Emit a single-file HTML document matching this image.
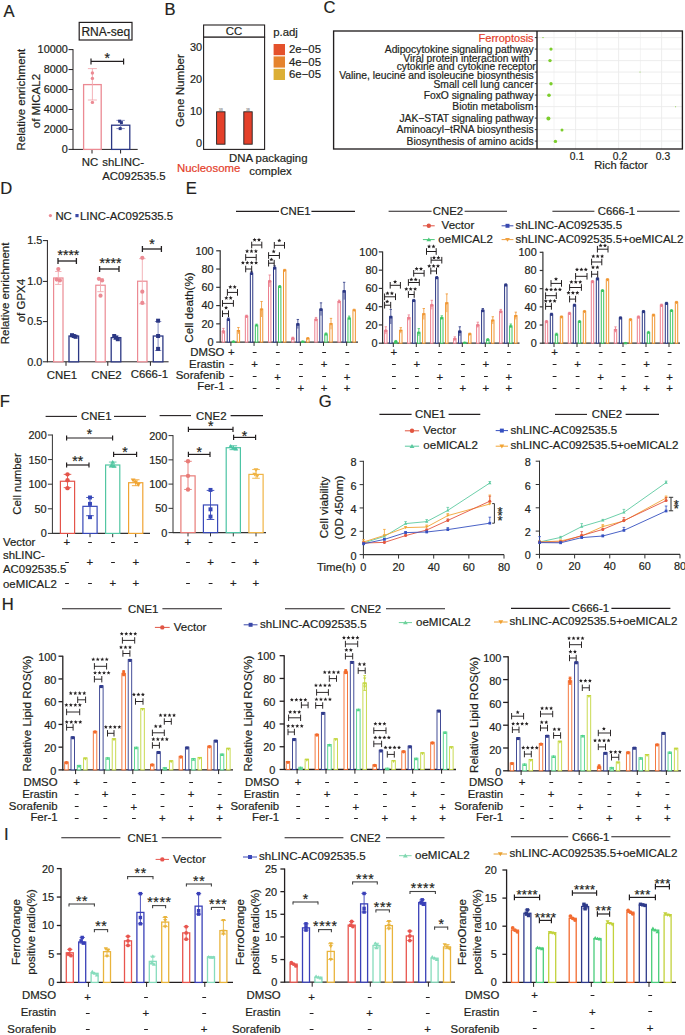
<!DOCTYPE html>
<html><head><meta charset="utf-8"><style>
html,body{margin:0;padding:0;background:#fff;overflow:hidden;}
svg{display:block;}
text{font-family:"Liberation Sans",sans-serif;stroke-width:0.2px;}
</style></head><body>
<svg width="685" height="1035" viewBox="0 0 685 1035">
<rect x="0" y="0" width="685" height="1035" fill="#fff"/>
<text x="3.5" y="16.7" font-size="16.6" text-anchor="start" fill="#231f20" stroke="#231f20">A</text>
<text x="164.4" y="15" font-size="16.6" text-anchor="start" fill="#231f20" stroke="#231f20">B</text>
<text x="323.6" y="13.4" font-size="16.6" text-anchor="start" fill="#231f20" stroke="#231f20">C</text>
<text x="0.3" y="194" font-size="16.6" text-anchor="start" fill="#231f20" stroke="#231f20">D</text>
<text x="185.7" y="193.6" font-size="16.6" text-anchor="start" fill="#231f20" stroke="#231f20">E</text>
<text x="-0.2" y="407" font-size="16.6" text-anchor="start" fill="#231f20" stroke="#231f20">F</text>
<text x="318.8" y="407.2" font-size="16.6" text-anchor="start" fill="#231f20" stroke="#231f20">G</text>
<text x="1.8" y="609.5" font-size="16.6" text-anchor="start" fill="#231f20" stroke="#231f20">H</text>
<text x="4.1" y="839.5" font-size="16.6" text-anchor="start" fill="#231f20" stroke="#231f20">I</text>
<rect x="79.2" y="22.4" width="52.8" height="17.6" fill="#fff" stroke="#231f20" stroke-width="1.2"/>
<text x="105.8" y="36" font-size="12" text-anchor="middle" fill="#231f20" stroke="#231f20">RNA-seq</text>
<line x1="73" y1="49.1" x2="73" y2="149.9" stroke="#231f20" stroke-width="1"/>
<line x1="68.5" y1="149.4" x2="73" y2="149.4" stroke="#231f20" stroke-width="1"/>
<text x="67.9" y="153.2" font-size="10.9" text-anchor="end" fill="#231f20" stroke="#231f20">0</text>
<line x1="68.5" y1="129.44" x2="73" y2="129.44" stroke="#231f20" stroke-width="1"/>
<text x="67.9" y="133.24" font-size="10.9" text-anchor="end" fill="#231f20" stroke="#231f20">2000</text>
<line x1="68.5" y1="109.48" x2="73" y2="109.48" stroke="#231f20" stroke-width="1"/>
<text x="67.9" y="113.28" font-size="10.9" text-anchor="end" fill="#231f20" stroke="#231f20">4000</text>
<line x1="68.5" y1="89.52" x2="73" y2="89.52" stroke="#231f20" stroke-width="1"/>
<text x="67.9" y="93.32" font-size="10.9" text-anchor="end" fill="#231f20" stroke="#231f20">6000</text>
<line x1="68.5" y1="69.56" x2="73" y2="69.56" stroke="#231f20" stroke-width="1"/>
<text x="67.9" y="73.36" font-size="10.9" text-anchor="end" fill="#231f20" stroke="#231f20">8000</text>
<line x1="68.5" y1="49.6" x2="73" y2="49.6" stroke="#231f20" stroke-width="1"/>
<text x="67.9" y="53.4" font-size="10.9" text-anchor="end" fill="#231f20" stroke="#231f20">10000</text>
<line x1="73" y1="149.4" x2="137.7" y2="149.4" stroke="#231f20" stroke-width="1"/>
<line x1="92" y1="149.4" x2="92" y2="153.5" stroke="#231f20" stroke-width="1"/>
<line x1="120.6" y1="149.4" x2="120.6" y2="153.5" stroke="#231f20" stroke-width="1"/>
<rect x="83.6" y="84.6" width="17.6" height="64.8" fill="#fff" stroke="#ec8a93" stroke-width="1.3"/>
<rect x="111.6" y="125.2" width="18.2" height="24.2" fill="#fff" stroke="#2b3784" stroke-width="1.3"/>
<line x1="92.4" y1="100" x2="92.4" y2="68.6" stroke="#f2aab0" stroke-width="0.9"/>
<line x1="87.9" y1="68.6" x2="96.9" y2="68.6" stroke="#f2aab0" stroke-width="0.9"/>
<line x1="87.9" y1="100" x2="96.9" y2="100" stroke="#f2aab0" stroke-width="0.9"/>
<circle cx="92.4" cy="73" r="1.7" fill="#ec8a93"/>
<circle cx="92.4" cy="78.4" r="1.7" fill="#ec8a93"/>
<circle cx="92.4" cy="102.4" r="1.7" fill="#ec8a93"/>
<line x1="120.6" y1="128.6" x2="120.6" y2="120.4" stroke="#7a82bb" stroke-width="0.9"/>
<line x1="116.4" y1="120.4" x2="124.8" y2="120.4" stroke="#7a82bb" stroke-width="0.9"/>
<line x1="116.4" y1="128.6" x2="124.8" y2="128.6" stroke="#7a82bb" stroke-width="0.9"/>
<rect x="118.1" y="119.7" width="3" height="3" fill="#2b3784"/>
<rect x="119.9" y="121.1" width="3" height="3" fill="#2b3784"/>
<rect x="118.7" y="127.1" width="3" height="3" fill="#2b3784"/>
<line x1="91" y1="61.4" x2="123.6" y2="61.4" stroke="#231f20" stroke-width="1.2"/>
<line x1="91" y1="58.4" x2="91" y2="64.4" stroke="#231f20" stroke-width="1.2"/>
<line x1="123.6" y1="58.4" x2="123.6" y2="64.4" stroke="#231f20" stroke-width="1.2"/>
<text x="107.3" y="63.08" font-size="14" text-anchor="middle" fill="#231f20" stroke="#231f20">*</text>
<text transform="translate(25.4,99.7) rotate(-90)" font-size="11.5" text-anchor="middle" fill="#231f20" stroke="#231f20">Relative enrichment</text>
<text transform="translate(40.3,101.1) rotate(-90)" font-size="11.5" text-anchor="middle" fill="#231f20" stroke="#231f20">of MICAL2</text>
<text x="90" y="166.4" font-size="11.4" text-anchor="middle" fill="#231f20" stroke="#231f20">NC</text>
<text x="102.2" y="166.4" font-size="11.4" text-anchor="start" fill="#231f20" stroke="#231f20">shLINC-</text>
<text x="102.2" y="180.2" font-size="11.4" text-anchor="start" fill="#231f20" stroke="#231f20">AC092535.5</text>
<rect x="203.6" y="25" width="61" height="12.2" fill="#fff" stroke="#231f20" stroke-width="1.1"/>
<rect x="203.6" y="37.2" width="61" height="112.2" fill="#fff" stroke="#231f20" stroke-width="1.1"/>
<text x="234.1" y="35.4" font-size="11.4" text-anchor="middle" fill="#231f20" stroke="#231f20">CC</text>
<text x="202" y="147.3" font-size="10.9" text-anchor="end" fill="#231f20" stroke="#231f20">0</text>
<text x="202" y="115.3" font-size="10.9" text-anchor="end" fill="#231f20" stroke="#231f20">10</text>
<text x="202" y="83.3" font-size="10.9" text-anchor="end" fill="#231f20" stroke="#231f20">20</text>
<text x="202" y="51.3" font-size="10.9" text-anchor="end" fill="#231f20" stroke="#231f20">30</text>
<rect x="216.6" y="111.8" width="8.4" height="32.4" fill="#e4402a" stroke="#231f20" stroke-width="0.9"/>
<rect x="243.8" y="111.8" width="8.4" height="32.4" fill="#e4402a" stroke="#231f20" stroke-width="0.9"/>
<text x="220.8" y="110.6" font-size="2.6" text-anchor="middle" fill="#999" stroke="#999">3/8</text>
<text x="248" y="110.6" font-size="2.6" text-anchor="middle" fill="#999" stroke="#999">3/8</text>
<text transform="translate(184.2,90.5) rotate(-90)" font-size="11.6" text-anchor="middle" fill="#231f20" stroke="#231f20">Gene Number</text>
<text x="273.2" y="35.6" font-size="11.4" text-anchor="start" fill="#231f20" stroke="#231f20">p.adj</text>
<rect x="273.6" y="44" width="11.4" height="11.2" fill="#e4512b"/>
<rect x="273.6" y="56.4" width="11.4" height="11.2" fill="#e5832d"/>
<rect x="273.6" y="68.8" width="11.4" height="11.2" fill="#dcaf35"/>
<text x="289" y="53.4" font-size="11.4" text-anchor="start" fill="#231f20" stroke="#231f20">2e−05</text>
<text x="289" y="65.8" font-size="11.4" text-anchor="start" fill="#231f20" stroke="#231f20">4e−05</text>
<text x="289" y="78.2" font-size="11.4" text-anchor="start" fill="#231f20" stroke="#231f20">6e−05</text>
<text x="177" y="172" font-size="11.4" text-anchor="start" fill="#e4402a" stroke="#e4402a">Nucleosome</text>
<text x="229" y="162" font-size="11.4" text-anchor="start" fill="#231f20" stroke="#231f20">DNA packaging</text>
<text x="270.5" y="175.2" font-size="11.4" text-anchor="middle" fill="#231f20" stroke="#231f20">complex</text>
<line x1="554" y1="31" x2="554" y2="149" stroke="#ebebeb" stroke-width="0.6"/>
<line x1="575.6" y1="31" x2="575.6" y2="149" stroke="#ebebeb" stroke-width="0.9"/>
<line x1="597" y1="31" x2="597" y2="149" stroke="#ebebeb" stroke-width="0.6"/>
<line x1="618.6" y1="31" x2="618.6" y2="149" stroke="#ebebeb" stroke-width="0.9"/>
<line x1="640.4" y1="31" x2="640.4" y2="149" stroke="#ebebeb" stroke-width="0.6"/>
<line x1="661.6" y1="31" x2="661.6" y2="149" stroke="#ebebeb" stroke-width="0.9"/>
<line x1="537" y1="37.6" x2="682.4" y2="37.6" stroke="#ebebeb" stroke-width="0.9"/>
<line x1="537" y1="49.1" x2="682.4" y2="49.1" stroke="#ebebeb" stroke-width="0.9"/>
<line x1="537" y1="60.6" x2="682.4" y2="60.6" stroke="#ebebeb" stroke-width="0.9"/>
<line x1="537" y1="72.1" x2="682.4" y2="72.1" stroke="#ebebeb" stroke-width="0.9"/>
<line x1="537" y1="83.6" x2="682.4" y2="83.6" stroke="#ebebeb" stroke-width="0.9"/>
<line x1="537" y1="95.1" x2="682.4" y2="95.1" stroke="#ebebeb" stroke-width="0.9"/>
<line x1="537" y1="106.6" x2="682.4" y2="106.6" stroke="#ebebeb" stroke-width="0.9"/>
<line x1="537" y1="118.1" x2="682.4" y2="118.1" stroke="#ebebeb" stroke-width="0.9"/>
<line x1="537" y1="129.6" x2="682.4" y2="129.6" stroke="#ebebeb" stroke-width="0.9"/>
<line x1="537" y1="141.1" x2="682.4" y2="141.1" stroke="#ebebeb" stroke-width="0.9"/>
<rect x="333.6" y="31" width="348.8" height="118" fill="none" stroke="#231f20" stroke-width="1.35"/>
<line x1="537" y1="31" x2="537" y2="149" stroke="#231f20" stroke-width="1.4"/>
<line x1="534.8" y1="37.6" x2="537" y2="37.6" stroke="#231f20" stroke-width="0.9"/>
<line x1="534.8" y1="49.1" x2="537" y2="49.1" stroke="#231f20" stroke-width="0.9"/>
<line x1="534.8" y1="60.6" x2="537" y2="60.6" stroke="#231f20" stroke-width="0.9"/>
<line x1="534.8" y1="72.1" x2="537" y2="72.1" stroke="#231f20" stroke-width="0.9"/>
<line x1="534.8" y1="83.6" x2="537" y2="83.6" stroke="#231f20" stroke-width="0.9"/>
<line x1="534.8" y1="95.1" x2="537" y2="95.1" stroke="#231f20" stroke-width="0.9"/>
<line x1="534.8" y1="106.6" x2="537" y2="106.6" stroke="#231f20" stroke-width="0.9"/>
<line x1="534.8" y1="118.1" x2="537" y2="118.1" stroke="#231f20" stroke-width="0.9"/>
<line x1="534.8" y1="129.6" x2="537" y2="129.6" stroke="#231f20" stroke-width="0.9"/>
<line x1="534.8" y1="141.1" x2="537" y2="141.1" stroke="#231f20" stroke-width="0.9"/>
<text x="533.6" y="42" font-size="11" text-anchor="end" fill="#e4402a" stroke="#e4402a">Ferroptosis</text>
<text x="533.6" y="52.8" font-size="10.3" text-anchor="end" fill="#231f20" stroke="#231f20">Adipocytokine signaling pathway</text>
<text x="529.6" y="61.8" font-size="10.3" text-anchor="end" fill="#231f20" stroke="#231f20">Viral protein interaction with</text>
<text x="535.8" y="70.4" font-size="10.3" text-anchor="end" fill="#231f20" stroke="#231f20">cytokine and cytokine receptor</text>
<text x="533.6" y="79" font-size="10.3" text-anchor="end" fill="#231f20" stroke="#231f20">Valine, leucine and isoleucine biosynthesis</text>
<text x="533.6" y="88" font-size="10.3" text-anchor="end" fill="#231f20" stroke="#231f20">Small cell lung cancer</text>
<text x="533.6" y="99" font-size="10.3" text-anchor="end" fill="#231f20" stroke="#231f20">FoxO signaling pathway</text>
<text x="533.6" y="109.6" font-size="10.3" text-anchor="end" fill="#231f20" stroke="#231f20">Biotin metabolism</text>
<text x="533.6" y="122" font-size="10.3" text-anchor="end" fill="#231f20" stroke="#231f20">JAK−STAT signaling pathway</text>
<text x="533.6" y="133.2" font-size="10.3" text-anchor="end" fill="#231f20" stroke="#231f20">Aminoacyl−tRNA biosynthesis</text>
<text x="533.6" y="145" font-size="10.3" text-anchor="end" fill="#231f20" stroke="#231f20">Biosynthesis of amino acids</text>
<circle cx="543" cy="37.6" r="0.7" fill="#7ccd2c"/>
<circle cx="551" cy="49.1" r="1.6" fill="#7ccd2c"/>
<circle cx="550" cy="60.6" r="1.7" fill="#7ccd2c"/>
<circle cx="640" cy="72.1" r="0.5" fill="#7ccd2c"/>
<circle cx="551" cy="83.8" r="1.7" fill="#7ccd2c"/>
<circle cx="549" cy="95.3" r="1.8" fill="#7ccd2c"/>
<circle cx="675.6" cy="106.8" r="0.5" fill="#7ccd2c"/>
<circle cx="548.4" cy="118.4" r="2" fill="#7ccd2c"/>
<circle cx="562" cy="130" r="1.5" fill="#7ccd2c"/>
<circle cx="555.4" cy="141.4" r="1.7" fill="#7ccd2c"/>
<text x="577" y="160" font-size="10.3" text-anchor="middle" fill="#231f20" stroke="#231f20">0.1</text>
<text x="620" y="160" font-size="10.3" text-anchor="middle" fill="#231f20" stroke="#231f20">0.2</text>
<text x="663" y="160" font-size="10.3" text-anchor="middle" fill="#231f20" stroke="#231f20">0.3</text>
<text x="621" y="169.4" font-size="11.2" text-anchor="middle" fill="#231f20" stroke="#231f20">Rich factor</text>
<circle cx="50.4" cy="215.6" r="1.6" fill="#ec8a93"/>
<text x="55.4" y="219.6" font-size="11.4" text-anchor="start" fill="#231f20" stroke="#231f20">NC</text>
<rect x="75.4" y="214" width="3.2" height="3.2" fill="#3a4aa8"/>
<text x="80" y="219.6" font-size="11.4" text-anchor="start" fill="#231f20" stroke="#231f20">LINC-AC092535.5</text>
<line x1="47.4" y1="240.1" x2="47.4" y2="362.3" stroke="#231f20" stroke-width="1"/>
<line x1="42.9" y1="361.8" x2="47.4" y2="361.8" stroke="#231f20" stroke-width="1"/>
<text x="42.3" y="365.6" font-size="10.9" text-anchor="end" fill="#231f20" stroke="#231f20">0.0</text>
<line x1="42.9" y1="321.6" x2="47.4" y2="321.6" stroke="#231f20" stroke-width="1"/>
<text x="42.3" y="325.4" font-size="10.9" text-anchor="end" fill="#231f20" stroke="#231f20">0.5</text>
<line x1="42.9" y1="281.4" x2="47.4" y2="281.4" stroke="#231f20" stroke-width="1"/>
<text x="42.3" y="285.2" font-size="10.9" text-anchor="end" fill="#231f20" stroke="#231f20">1.0</text>
<line x1="42.9" y1="240.6" x2="47.4" y2="240.6" stroke="#231f20" stroke-width="1"/>
<text x="42.3" y="244.4" font-size="10.9" text-anchor="end" fill="#231f20" stroke="#231f20">1.5</text>
<line x1="47.4" y1="361.8" x2="168.6" y2="361.8" stroke="#231f20" stroke-width="1"/>
<line x1="66" y1="361.8" x2="66" y2="365.8" stroke="#231f20" stroke-width="1"/>
<line x1="107.8" y1="361.8" x2="107.8" y2="365.8" stroke="#231f20" stroke-width="1"/>
<line x1="150.4" y1="361.8" x2="150.4" y2="365.8" stroke="#231f20" stroke-width="1"/>
<rect x="53.6" y="277.98" width="9.4" height="83.82" fill="#fff" stroke="#ec8a93" stroke-width="1.2"/>
<line x1="58.3" y1="284.42" x2="58.3" y2="271.53" stroke="#f2aab0" stroke-width="0.9"/>
<line x1="55.1" y1="271.53" x2="61.5" y2="271.53" stroke="#f2aab0" stroke-width="0.9"/>
<line x1="55.1" y1="284.42" x2="61.5" y2="284.42" stroke="#f2aab0" stroke-width="0.9"/>
<circle cx="58.3" cy="269.11" r="2.1" fill="#ec8a93"/>
<circle cx="56.7" cy="279.59" r="2.1" fill="#ec8a93"/>
<circle cx="59.9" cy="280.39" r="2.1" fill="#ec8a93"/>
<rect x="95.8" y="285.23" width="9.4" height="76.57" fill="#fff" stroke="#ec8a93" stroke-width="1.2"/>
<line x1="100.5" y1="291.68" x2="100.5" y2="278.78" stroke="#f2aab0" stroke-width="0.9"/>
<line x1="97.3" y1="278.78" x2="103.7" y2="278.78" stroke="#f2aab0" stroke-width="0.9"/>
<line x1="97.3" y1="291.68" x2="103.7" y2="291.68" stroke="#f2aab0" stroke-width="0.9"/>
<circle cx="98.9" cy="278.78" r="2.1" fill="#ec8a93"/>
<circle cx="102.1" cy="280.39" r="2.1" fill="#ec8a93"/>
<circle cx="100.5" cy="295.71" r="2.1" fill="#ec8a93"/>
<rect x="137.6" y="281.2" width="9.4" height="80.6" fill="#fff" stroke="#ec8a93" stroke-width="1.2"/>
<line x1="142.3" y1="303.77" x2="142.3" y2="258.63" stroke="#f2aab0" stroke-width="0.9"/>
<line x1="139.1" y1="258.63" x2="145.5" y2="258.63" stroke="#f2aab0" stroke-width="0.9"/>
<line x1="139.1" y1="303.77" x2="145.5" y2="303.77" stroke="#f2aab0" stroke-width="0.9"/>
<circle cx="142.3" cy="257.83" r="2.1" fill="#ec8a93"/>
<circle cx="142.3" cy="291.68" r="2.1" fill="#ec8a93"/>
<circle cx="142.3" cy="302.96" r="2.1" fill="#ec8a93"/>
<rect x="69" y="336.01" width="9.6" height="25.79" fill="#fff" stroke="#2b3784" stroke-width="1.3"/>
<line x1="73.8" y1="336.81" x2="73.8" y2="335.2" stroke="#7a82bb" stroke-width="0.9"/>
<line x1="70.6" y1="335.2" x2="77" y2="335.2" stroke="#7a82bb" stroke-width="0.9"/>
<line x1="70.6" y1="336.81" x2="77" y2="336.81" stroke="#7a82bb" stroke-width="0.9"/>
<rect x="70" y="333.2" width="4" height="4" fill="#2b3784"/>
<rect x="71.8" y="334.01" width="4" height="4" fill="#2b3784"/>
<rect x="73.6" y="334.81" width="4" height="4" fill="#2b3784"/>
<rect x="111.2" y="337.62" width="9.6" height="24.18" fill="#fff" stroke="#2b3784" stroke-width="1.3"/>
<line x1="116" y1="339.23" x2="116" y2="336.01" stroke="#7a82bb" stroke-width="0.9"/>
<line x1="112.8" y1="336.01" x2="119.2" y2="336.01" stroke="#7a82bb" stroke-width="0.9"/>
<line x1="112.8" y1="339.23" x2="119.2" y2="339.23" stroke="#7a82bb" stroke-width="0.9"/>
<rect x="112.2" y="334.01" width="4" height="4" fill="#2b3784"/>
<rect x="114" y="335.62" width="4" height="4" fill="#2b3784"/>
<rect x="115.8" y="337.23" width="4" height="4" fill="#2b3784"/>
<rect x="153.3" y="336.01" width="9.6" height="25.79" fill="#fff" stroke="#2b3784" stroke-width="1.3"/>
<line x1="158.1" y1="350.52" x2="158.1" y2="321.5" stroke="#7a82bb" stroke-width="0.9"/>
<line x1="154.9" y1="321.5" x2="161.3" y2="321.5" stroke="#7a82bb" stroke-width="0.9"/>
<line x1="154.9" y1="350.52" x2="161.3" y2="350.52" stroke="#7a82bb" stroke-width="0.9"/>
<rect x="156.1" y="318.69" width="4" height="4" fill="#2b3784"/>
<rect x="156.1" y="334.01" width="4" height="4" fill="#2b3784"/>
<rect x="156.1" y="346.9" width="4" height="4" fill="#2b3784"/>
<line x1="58" y1="261" x2="76.4" y2="261" stroke="#231f20" stroke-width="1.3"/>
<line x1="58" y1="258" x2="58" y2="264" stroke="#231f20" stroke-width="1.3"/>
<line x1="76.4" y1="258" x2="76.4" y2="264" stroke="#231f20" stroke-width="1.3"/>
<text x="68.4" y="259.88" font-size="14" text-anchor="middle" fill="#231f20" stroke="#231f20">****</text>
<line x1="99.6" y1="269" x2="119" y2="269" stroke="#231f20" stroke-width="1.3"/>
<line x1="99.6" y1="266" x2="99.6" y2="272" stroke="#231f20" stroke-width="1.3"/>
<line x1="119" y1="266" x2="119" y2="272" stroke="#231f20" stroke-width="1.3"/>
<text x="110.5" y="268.48" font-size="14" text-anchor="middle" fill="#231f20" stroke="#231f20">****</text>
<line x1="142.4" y1="249" x2="161.4" y2="249" stroke="#231f20" stroke-width="1.3"/>
<line x1="142.4" y1="246" x2="142.4" y2="252" stroke="#231f20" stroke-width="1.3"/>
<line x1="161.4" y1="246" x2="161.4" y2="252" stroke="#231f20" stroke-width="1.3"/>
<text x="151.9" y="249.48" font-size="14" text-anchor="middle" fill="#231f20" stroke="#231f20">*</text>
<text x="62" y="379" font-size="11.4" text-anchor="middle" fill="#231f20" stroke="#231f20">CNE1</text>
<text x="106.5" y="378.6" font-size="11.4" text-anchor="middle" fill="#231f20" stroke="#231f20">CNE2</text>
<text x="149.4" y="377.6" font-size="11.4" text-anchor="middle" fill="#231f20" stroke="#231f20">C666-1</text>
<text transform="translate(9.2,293.4) rotate(-90)" font-size="11.5" text-anchor="middle" fill="#231f20" stroke="#231f20">Relative enrichment</text>
<text transform="translate(25.2,300.6) rotate(-90)" font-size="11.5" text-anchor="middle" fill="#231f20" stroke="#231f20">of GPX4</text>
<line x1="236" y1="211.4" x2="279" y2="211.4" stroke="#231f20" stroke-width="1.1"/>
<line x1="311.4" y1="211.4" x2="355" y2="211.4" stroke="#231f20" stroke-width="1.1"/>
<text x="295.4" y="215.4" font-size="11.4" text-anchor="middle" fill="#231f20" stroke="#231f20">CNE1</text>
<line x1="388.6" y1="211.2" x2="431.6" y2="211.2" stroke="#231f20" stroke-width="1.1"/>
<line x1="464.6" y1="211.2" x2="507" y2="211.2" stroke="#231f20" stroke-width="1.1"/>
<text x="448" y="215.2" font-size="11.4" text-anchor="middle" fill="#231f20" stroke="#231f20">CNE2</text>
<line x1="552.4" y1="211.2" x2="594.4" y2="211.2" stroke="#231f20" stroke-width="1.1"/>
<line x1="637" y1="211.2" x2="679.6" y2="211.2" stroke="#231f20" stroke-width="1.1"/>
<text x="616.4" y="215.2" font-size="11.4" text-anchor="middle" fill="#231f20" stroke="#231f20">C666-1</text>
<line x1="422.9" y1="225.8" x2="434.7" y2="225.8" stroke="#e05545" stroke-width="1"/>
<circle cx="428.8" cy="225.8" r="2.2" fill="#e05545"/>
<text x="441.6" y="228.9" font-size="11.55" text-anchor="start" fill="#231f20" stroke="#231f20">Vector</text>
<line x1="422.9" y1="239.6" x2="434.7" y2="239.6" stroke="#4cc87a" stroke-width="1"/>
<polygon points="426.38,241.29 431.22,241.29 428.8,237.42" fill="#4cc87a"/>
<text x="438.3" y="242.7" font-size="11.55" text-anchor="start" fill="#231f20" stroke="#231f20">oeMICAL2</text>
<line x1="501.6" y1="225.8" x2="513.4" y2="225.8" stroke="#3a4ab0" stroke-width="1"/>
<rect x="505.52" y="223.82" width="3.96" height="3.96" fill="#3a4ab0"/>
<text x="515.6" y="228.9" font-size="11.55" text-anchor="start" fill="#231f20" stroke="#231f20">shLINC-AC092535.5</text>
<line x1="501.6" y1="239.6" x2="513.4" y2="239.6" stroke="#f0a040" stroke-width="1"/>
<polygon points="505.08,237.91 509.92,237.91 507.5,241.78" fill="#f0a040"/>
<text x="515.6" y="242.7" font-size="11.55" text-anchor="start" fill="#231f20" stroke="#231f20">shLINC-AC092535.5+oeMICAL2</text>
<text transform="translate(193.2,307.5) rotate(-90)" font-size="11.6" text-anchor="middle" fill="#231f20" stroke="#231f20">Cell death(%)</text>
<line x1="220.2" y1="250.3" x2="220.2" y2="342.6" stroke="#333" stroke-width="1.2"/>
<line x1="216.2" y1="342.1" x2="220.2" y2="342.1" stroke="#333" stroke-width="1.2"/>
<text x="213.6" y="346" font-size="10.9" text-anchor="end" fill="#231f20" stroke="#231f20">0</text>
<line x1="216.2" y1="323.84" x2="220.2" y2="323.84" stroke="#333" stroke-width="1.2"/>
<text x="213.6" y="327.74" font-size="10.9" text-anchor="end" fill="#231f20" stroke="#231f20">20</text>
<line x1="216.2" y1="305.58" x2="220.2" y2="305.58" stroke="#333" stroke-width="1.2"/>
<text x="213.6" y="309.48" font-size="10.9" text-anchor="end" fill="#231f20" stroke="#231f20">40</text>
<line x1="216.2" y1="287.32" x2="220.2" y2="287.32" stroke="#333" stroke-width="1.2"/>
<text x="213.6" y="291.22" font-size="10.9" text-anchor="end" fill="#231f20" stroke="#231f20">60</text>
<line x1="216.2" y1="269.06" x2="220.2" y2="269.06" stroke="#333" stroke-width="1.2"/>
<text x="213.6" y="272.96" font-size="10.9" text-anchor="end" fill="#231f20" stroke="#231f20">80</text>
<line x1="216.2" y1="250.8" x2="220.2" y2="250.8" stroke="#333" stroke-width="1.2"/>
<text x="213.6" y="254.7" font-size="10.9" text-anchor="end" fill="#231f20" stroke="#231f20">100</text>
<line x1="220.2" y1="342.1" x2="358" y2="342.1" stroke="#333" stroke-width="1.2"/>
<line x1="230.9" y1="342.1" x2="230.9" y2="345.9" stroke="#333" stroke-width="1"/>
<rect x="222.2" y="331.14" width="2.4" height="10.96" fill="#fff" stroke="#ec7f8e" stroke-width="1"/>
<line x1="223.4" y1="333.88" x2="223.4" y2="328.41" stroke="#ec7f8e" stroke-width="0.8"/>
<line x1="222.2" y1="328.41" x2="224.6" y2="328.41" stroke="#ec7f8e" stroke-width="0.8"/>
<circle cx="223.4" cy="331.54" r="1.5" fill="#ec7f8e"/>
<rect x="227.2" y="319.28" width="2.4" height="22.82" fill="#fff" stroke="#2b3784" stroke-width="1"/>
<line x1="228.4" y1="320.64" x2="228.4" y2="317.91" stroke="#2b3784" stroke-width="0.8"/>
<line x1="227.2" y1="317.91" x2="229.6" y2="317.91" stroke="#2b3784" stroke-width="0.8"/>
<rect x="227.05" y="318.32" width="2.7" height="2.7" fill="#2b3784"/>
<rect x="232.2" y="341.19" width="2.4" height="0.91" fill="#fff" stroke="#3cc462" stroke-width="1"/>
<polygon points="231.75,342.74 235.05,342.74 233.4,340.1" fill="#3cc462"/>
<rect x="237.2" y="330.69" width="2.4" height="11.41" fill="#fff" stroke="#f09530" stroke-width="1"/>
<line x1="238.4" y1="333.88" x2="238.4" y2="327.49" stroke="#f09530" stroke-width="0.8"/>
<line x1="237.2" y1="327.49" x2="239.6" y2="327.49" stroke="#f09530" stroke-width="0.8"/>
<polygon points="236.75,329.93 240.05,329.93 238.4,332.57" fill="#f09530"/>
<line x1="254.05" y1="342.1" x2="254.05" y2="345.9" stroke="#333" stroke-width="1"/>
<rect x="245.35" y="316.08" width="2.4" height="26.02" fill="#fff" stroke="#ec7f8e" stroke-width="1"/>
<line x1="246.55" y1="316.99" x2="246.55" y2="315.17" stroke="#ec7f8e" stroke-width="0.8"/>
<line x1="245.35" y1="315.17" x2="247.75" y2="315.17" stroke="#ec7f8e" stroke-width="0.8"/>
<circle cx="246.55" cy="316.48" r="1.5" fill="#ec7f8e"/>
<rect x="250.35" y="273.17" width="2.4" height="68.93" fill="#fff" stroke="#2b3784" stroke-width="1"/>
<line x1="251.55" y1="274.99" x2="251.55" y2="271.34" stroke="#2b3784" stroke-width="0.8"/>
<line x1="250.35" y1="271.34" x2="252.75" y2="271.34" stroke="#2b3784" stroke-width="0.8"/>
<rect x="250.2" y="272.22" width="2.7" height="2.7" fill="#2b3784"/>
<rect x="255.35" y="325.03" width="2.4" height="17.07" fill="#fff" stroke="#3cc462" stroke-width="1"/>
<line x1="256.55" y1="325.94" x2="256.55" y2="324.11" stroke="#3cc462" stroke-width="0.8"/>
<line x1="255.35" y1="324.11" x2="257.75" y2="324.11" stroke="#3cc462" stroke-width="0.8"/>
<polygon points="254.9,326.58 258.2,326.58 256.55,323.94" fill="#3cc462"/>
<rect x="260.35" y="309.23" width="2.4" height="32.87" fill="#fff" stroke="#f09530" stroke-width="1"/>
<line x1="261.55" y1="316.99" x2="261.55" y2="301.47" stroke="#f09530" stroke-width="0.8"/>
<line x1="260.35" y1="301.47" x2="262.75" y2="301.47" stroke="#f09530" stroke-width="0.8"/>
<polygon points="259.9,308.48 263.2,308.48 261.55,311.12" fill="#f09530"/>
<line x1="277.2" y1="342.1" x2="277.2" y2="345.9" stroke="#333" stroke-width="1"/>
<rect x="268.5" y="280.93" width="2.4" height="61.17" fill="#fff" stroke="#ec7f8e" stroke-width="1"/>
<line x1="269.7" y1="286.86" x2="269.7" y2="274.99" stroke="#ec7f8e" stroke-width="0.8"/>
<line x1="268.5" y1="274.99" x2="270.9" y2="274.99" stroke="#ec7f8e" stroke-width="0.8"/>
<circle cx="269.7" cy="281.33" r="1.5" fill="#ec7f8e"/>
<rect x="273.5" y="267.69" width="2.4" height="74.41" fill="#fff" stroke="#2b3784" stroke-width="1"/>
<line x1="274.7" y1="269.52" x2="274.7" y2="265.86" stroke="#2b3784" stroke-width="0.8"/>
<line x1="273.5" y1="265.86" x2="275.9" y2="265.86" stroke="#2b3784" stroke-width="0.8"/>
<rect x="273.35" y="266.74" width="2.7" height="2.7" fill="#2b3784"/>
<rect x="278.5" y="286.41" width="2.4" height="55.69" fill="#fff" stroke="#3cc462" stroke-width="1"/>
<line x1="279.7" y1="287.32" x2="279.7" y2="285.49" stroke="#3cc462" stroke-width="0.8"/>
<line x1="278.5" y1="285.49" x2="280.9" y2="285.49" stroke="#3cc462" stroke-width="0.8"/>
<polygon points="278.05,287.96 281.35,287.96 279.7,285.32" fill="#3cc462"/>
<rect x="283.5" y="270.25" width="2.4" height="71.85" fill="#fff" stroke="#f09530" stroke-width="1"/>
<line x1="284.7" y1="271.16" x2="284.7" y2="269.33" stroke="#f09530" stroke-width="0.8"/>
<line x1="283.5" y1="269.33" x2="285.9" y2="269.33" stroke="#f09530" stroke-width="0.8"/>
<polygon points="283.05,269.49 286.35,269.49 284.7,272.13" fill="#f09530"/>
<line x1="300.35" y1="342.1" x2="300.35" y2="345.9" stroke="#333" stroke-width="1"/>
<rect x="291.65" y="338.08" width="2.4" height="4.02" fill="#fff" stroke="#ec7f8e" stroke-width="1"/>
<line x1="292.85" y1="339" x2="292.85" y2="337.17" stroke="#ec7f8e" stroke-width="0.8"/>
<line x1="291.65" y1="337.17" x2="294.05" y2="337.17" stroke="#ec7f8e" stroke-width="0.8"/>
<circle cx="292.85" cy="338.48" r="1.5" fill="#ec7f8e"/>
<rect x="296.65" y="324.02" width="2.4" height="18.08" fill="#fff" stroke="#2b3784" stroke-width="1"/>
<line x1="297.85" y1="328.59" x2="297.85" y2="319.46" stroke="#2b3784" stroke-width="0.8"/>
<line x1="296.65" y1="319.46" x2="299.05" y2="319.46" stroke="#2b3784" stroke-width="0.8"/>
<rect x="296.5" y="323.07" width="2.7" height="2.7" fill="#2b3784"/>
<rect x="301.65" y="341.19" width="2.4" height="0.91" fill="#fff" stroke="#3cc462" stroke-width="1"/>
<polygon points="301.2,342.74 304.5,342.74 302.85,340.1" fill="#3cc462"/>
<rect x="306.65" y="338.45" width="2.4" height="3.65" fill="#fff" stroke="#f09530" stroke-width="1"/>
<line x1="307.85" y1="339.36" x2="307.85" y2="337.54" stroke="#f09530" stroke-width="0.8"/>
<line x1="306.65" y1="337.54" x2="309.05" y2="337.54" stroke="#f09530" stroke-width="0.8"/>
<polygon points="306.2,337.69 309.5,337.69 307.85,340.33" fill="#f09530"/>
<line x1="323.5" y1="342.1" x2="323.5" y2="345.9" stroke="#333" stroke-width="1"/>
<rect x="314.8" y="319.28" width="2.4" height="22.82" fill="#fff" stroke="#ec7f8e" stroke-width="1"/>
<line x1="316" y1="321.1" x2="316" y2="317.45" stroke="#ec7f8e" stroke-width="0.8"/>
<line x1="314.8" y1="317.45" x2="317.2" y2="317.45" stroke="#ec7f8e" stroke-width="0.8"/>
<circle cx="316" cy="319.68" r="1.5" fill="#ec7f8e"/>
<rect x="319.8" y="309.23" width="2.4" height="32.87" fill="#fff" stroke="#2b3784" stroke-width="1"/>
<line x1="321" y1="315.62" x2="321" y2="302.84" stroke="#2b3784" stroke-width="0.8"/>
<line x1="319.8" y1="302.84" x2="322.2" y2="302.84" stroke="#2b3784" stroke-width="0.8"/>
<rect x="319.65" y="308.28" width="2.7" height="2.7" fill="#2b3784"/>
<rect x="324.8" y="333.88" width="2.4" height="8.22" fill="#fff" stroke="#3cc462" stroke-width="1"/>
<line x1="326" y1="334.8" x2="326" y2="332.97" stroke="#3cc462" stroke-width="0.8"/>
<line x1="324.8" y1="332.97" x2="327.2" y2="332.97" stroke="#3cc462" stroke-width="0.8"/>
<polygon points="324.35,335.44 327.65,335.44 326,332.8" fill="#3cc462"/>
<rect x="329.8" y="323.84" width="2.4" height="18.26" fill="#fff" stroke="#f09530" stroke-width="1"/>
<line x1="331" y1="329.32" x2="331" y2="318.36" stroke="#f09530" stroke-width="0.8"/>
<line x1="329.8" y1="318.36" x2="332.2" y2="318.36" stroke="#f09530" stroke-width="0.8"/>
<polygon points="329.35,323.09 332.65,323.09 331,325.73" fill="#f09530"/>
<line x1="346.65" y1="342.1" x2="346.65" y2="345.9" stroke="#333" stroke-width="1"/>
<rect x="337.95" y="301.47" width="2.4" height="40.63" fill="#fff" stroke="#ec7f8e" stroke-width="1"/>
<line x1="339.15" y1="302.84" x2="339.15" y2="300.1" stroke="#ec7f8e" stroke-width="0.8"/>
<line x1="337.95" y1="300.1" x2="340.35" y2="300.1" stroke="#ec7f8e" stroke-width="0.8"/>
<circle cx="339.15" cy="301.87" r="1.5" fill="#ec7f8e"/>
<rect x="342.95" y="290.97" width="2.4" height="51.13" fill="#fff" stroke="#2b3784" stroke-width="1"/>
<line x1="344.15" y1="299.65" x2="344.15" y2="282.3" stroke="#2b3784" stroke-width="0.8"/>
<line x1="342.95" y1="282.3" x2="345.35" y2="282.3" stroke="#2b3784" stroke-width="0.8"/>
<rect x="342.8" y="290.02" width="2.7" height="2.7" fill="#2b3784"/>
<rect x="347.95" y="317.91" width="2.4" height="24.19" fill="#fff" stroke="#3cc462" stroke-width="1"/>
<line x1="349.15" y1="319.73" x2="349.15" y2="316.08" stroke="#3cc462" stroke-width="0.8"/>
<line x1="347.95" y1="316.08" x2="350.35" y2="316.08" stroke="#3cc462" stroke-width="0.8"/>
<polygon points="347.5,319.46 350.8,319.46 349.15,316.82" fill="#3cc462"/>
<rect x="352.95" y="310.15" width="2.4" height="31.95" fill="#fff" stroke="#f09530" stroke-width="1"/>
<line x1="354.15" y1="311.06" x2="354.15" y2="309.23" stroke="#f09530" stroke-width="0.8"/>
<line x1="352.95" y1="309.23" x2="355.35" y2="309.23" stroke="#f09530" stroke-width="0.8"/>
<polygon points="352.5,309.39 355.8,309.39 354.15,312.03" fill="#f09530"/>
<line x1="222.5" y1="313.7" x2="228.5" y2="313.7" stroke="#231f20" stroke-width="1"/>
<line x1="222.5" y1="310.4" x2="222.5" y2="317" stroke="#231f20" stroke-width="1"/>
<line x1="228.5" y1="310.4" x2="228.5" y2="317" stroke="#231f20" stroke-width="1"/>
<polygon points="226.1,305.65 226.67,307.02 228.14,307.14 227.02,308.1 227.36,309.54 226.1,308.77 224.84,309.54 225.18,308.1 224.06,307.14 225.53,307.02" fill="#231f20"/>
<line x1="222.5" y1="303.4" x2="233.4" y2="303.4" stroke="#231f20" stroke-width="1"/>
<line x1="222.5" y1="300.1" x2="222.5" y2="306.7" stroke="#231f20" stroke-width="1"/>
<line x1="233.4" y1="300.1" x2="233.4" y2="306.7" stroke="#231f20" stroke-width="1"/>
<polygon points="226.3,295.85 226.87,297.22 228.34,297.34 227.22,298.3 227.56,299.74 226.3,298.97 225.04,299.74 225.38,298.3 224.26,297.34 225.73,297.22" fill="#231f20"/>
<polygon points="230.7,295.85 231.27,297.22 232.74,297.34 231.62,298.3 231.96,299.74 230.7,298.97 229.44,299.74 229.78,298.3 228.66,297.34 230.13,297.22" fill="#231f20"/>
<line x1="227.4" y1="292.4" x2="237.5" y2="292.4" stroke="#231f20" stroke-width="1"/>
<line x1="227.4" y1="289.1" x2="227.4" y2="295.7" stroke="#231f20" stroke-width="1"/>
<line x1="237.5" y1="289.1" x2="237.5" y2="295.7" stroke="#231f20" stroke-width="1"/>
<polygon points="230.3,284.85 230.87,286.22 232.34,286.34 231.22,287.3 231.56,288.74 230.3,287.97 229.04,288.74 229.38,287.3 228.26,286.34 229.73,286.22" fill="#231f20"/>
<polygon points="234.7,284.85 235.27,286.22 236.74,286.34 235.62,287.3 235.96,288.74 234.7,287.97 233.44,288.74 233.78,287.3 232.66,286.34 234.13,286.22" fill="#231f20"/>
<line x1="245.7" y1="269" x2="251.7" y2="269" stroke="#231f20" stroke-width="1"/>
<line x1="245.7" y1="265.7" x2="245.7" y2="272.3" stroke="#231f20" stroke-width="1"/>
<line x1="251.7" y1="265.7" x2="251.7" y2="272.3" stroke="#231f20" stroke-width="1"/>
<polygon points="242.9,260.65 243.47,262.02 244.94,262.14 243.82,263.1 244.16,264.54 242.9,263.77 241.64,264.54 241.98,263.1 240.86,262.14 242.33,262.02" fill="#231f20"/>
<polygon points="247.3,260.65 247.87,262.02 249.34,262.14 248.22,263.1 248.56,264.54 247.3,263.77 246.04,264.54 246.38,263.1 245.26,262.14 246.73,262.02" fill="#231f20"/>
<polygon points="251.7,260.65 252.27,262.02 253.74,262.14 252.62,263.1 252.96,264.54 251.7,263.77 250.44,264.54 250.78,263.1 249.66,262.14 251.13,262.02" fill="#231f20"/>
<polygon points="256.1,260.65 256.67,262.02 258.14,262.14 257.02,263.1 257.36,264.54 256.1,263.77 254.84,264.54 255.18,263.1 254.06,262.14 255.53,262.02" fill="#231f20"/>
<line x1="245.7" y1="257.4" x2="256.2" y2="257.4" stroke="#231f20" stroke-width="1"/>
<line x1="245.7" y1="254.1" x2="245.7" y2="260.7" stroke="#231f20" stroke-width="1"/>
<line x1="256.2" y1="254.1" x2="256.2" y2="260.7" stroke="#231f20" stroke-width="1"/>
<polygon points="247.1,249.05 247.67,250.42 249.14,250.54 248.02,251.5 248.36,252.94 247.1,252.17 245.84,252.94 246.18,251.5 245.06,250.54 246.53,250.42" fill="#231f20"/>
<polygon points="251.5,249.05 252.07,250.42 253.54,250.54 252.42,251.5 252.76,252.94 251.5,252.17 250.24,252.94 250.58,251.5 249.46,250.54 250.93,250.42" fill="#231f20"/>
<polygon points="255.9,249.05 256.47,250.42 257.94,250.54 256.82,251.5 257.16,252.94 255.9,252.17 254.64,252.94 254.98,251.5 253.86,250.54 255.33,250.42" fill="#231f20"/>
<line x1="251.7" y1="245" x2="261.8" y2="245" stroke="#231f20" stroke-width="1"/>
<line x1="251.7" y1="241.7" x2="251.7" y2="248.3" stroke="#231f20" stroke-width="1"/>
<line x1="261.8" y1="241.7" x2="261.8" y2="248.3" stroke="#231f20" stroke-width="1"/>
<polygon points="254.6,237.75 255.17,239.12 256.64,239.24 255.52,240.2 255.86,241.64 254.6,240.87 253.34,241.64 253.68,240.2 252.56,239.24 254.03,239.12" fill="#231f20"/>
<polygon points="259,237.75 259.57,239.12 261.04,239.24 259.92,240.2 260.26,241.64 259,240.87 257.74,241.64 258.08,240.2 256.96,239.24 258.43,239.12" fill="#231f20"/>
<line x1="268.6" y1="263.2" x2="274.2" y2="263.2" stroke="#231f20" stroke-width="1"/>
<line x1="268.6" y1="259.9" x2="268.6" y2="266.5" stroke="#231f20" stroke-width="1"/>
<line x1="274.2" y1="259.9" x2="274.2" y2="266.5" stroke="#231f20" stroke-width="1"/>
<polygon points="271.4,257.45 271.97,258.82 273.44,258.94 272.32,259.9 272.66,261.34 271.4,260.57 270.14,261.34 270.48,259.9 269.36,258.94 270.83,258.82" fill="#231f20"/>
<line x1="268.6" y1="255.5" x2="279.4" y2="255.5" stroke="#231f20" stroke-width="1"/>
<line x1="268.6" y1="252.2" x2="268.6" y2="258.8" stroke="#231f20" stroke-width="1"/>
<line x1="279.4" y1="252.2" x2="279.4" y2="258.8" stroke="#231f20" stroke-width="1"/>
<polygon points="273.7,249.35 274.27,250.72 275.74,250.84 274.62,251.8 274.96,253.24 273.7,252.47 272.44,253.24 272.78,251.8 271.66,250.84 273.13,250.72" fill="#231f20"/>
<line x1="274.3" y1="245.3" x2="284.5" y2="245.3" stroke="#231f20" stroke-width="1"/>
<line x1="274.3" y1="242" x2="274.3" y2="248.6" stroke="#231f20" stroke-width="1"/>
<line x1="284.5" y1="242" x2="284.5" y2="248.6" stroke="#231f20" stroke-width="1"/>
<polygon points="279.3,238.45 279.87,239.82 281.34,239.94 280.22,240.9 280.56,242.34 279.3,241.57 278.04,242.34 278.38,240.9 277.26,239.94 278.73,239.82" fill="#231f20"/>
<text x="231.4" y="356.29" font-size="11.44" text-anchor="middle" fill="#231f20" stroke="#231f20">+</text>
<line x1="252.75" y1="352.5" x2="256.55" y2="352.5" stroke="#231f20" stroke-width="1"/>
<line x1="275.9" y1="352.5" x2="279.7" y2="352.5" stroke="#231f20" stroke-width="1"/>
<line x1="299.05" y1="352.5" x2="302.85" y2="352.5" stroke="#231f20" stroke-width="1"/>
<line x1="322.2" y1="352.5" x2="326" y2="352.5" stroke="#231f20" stroke-width="1"/>
<line x1="345.35" y1="352.5" x2="349.15" y2="352.5" stroke="#231f20" stroke-width="1"/>
<line x1="229.6" y1="364.5" x2="233.4" y2="364.5" stroke="#231f20" stroke-width="1"/>
<text x="254.55" y="368.39" font-size="11.44" text-anchor="middle" fill="#231f20" stroke="#231f20">+</text>
<line x1="275.9" y1="364.5" x2="279.7" y2="364.5" stroke="#231f20" stroke-width="1"/>
<line x1="299.05" y1="364.5" x2="302.85" y2="364.5" stroke="#231f20" stroke-width="1"/>
<text x="324" y="368.39" font-size="11.44" text-anchor="middle" fill="#231f20" stroke="#231f20">+</text>
<line x1="345.35" y1="364.5" x2="349.15" y2="364.5" stroke="#231f20" stroke-width="1"/>
<line x1="229.6" y1="376.5" x2="233.4" y2="376.5" stroke="#231f20" stroke-width="1"/>
<line x1="252.75" y1="376.5" x2="256.55" y2="376.5" stroke="#231f20" stroke-width="1"/>
<text x="277.7" y="380.59" font-size="11.44" text-anchor="middle" fill="#231f20" stroke="#231f20">+</text>
<line x1="299.05" y1="376.5" x2="302.85" y2="376.5" stroke="#231f20" stroke-width="1"/>
<line x1="322.2" y1="376.5" x2="326" y2="376.5" stroke="#231f20" stroke-width="1"/>
<text x="347.15" y="380.59" font-size="11.44" text-anchor="middle" fill="#231f20" stroke="#231f20">+</text>
<line x1="229.6" y1="388.5" x2="233.4" y2="388.5" stroke="#231f20" stroke-width="1"/>
<line x1="252.75" y1="388.5" x2="256.55" y2="388.5" stroke="#231f20" stroke-width="1"/>
<line x1="275.9" y1="388.5" x2="279.7" y2="388.5" stroke="#231f20" stroke-width="1"/>
<text x="300.85" y="392.19" font-size="11.44" text-anchor="middle" fill="#231f20" stroke="#231f20">+</text>
<text x="324" y="392.19" font-size="11.44" text-anchor="middle" fill="#231f20" stroke="#231f20">+</text>
<text x="347.15" y="392.19" font-size="11.44" text-anchor="middle" fill="#231f20" stroke="#231f20">+</text>
<text x="224.5" y="356.2" font-size="11.4" text-anchor="end" fill="#231f20" stroke="#231f20">DMSO</text>
<text x="224.5" y="367.5" font-size="11.4" text-anchor="end" fill="#231f20" stroke="#231f20">Erastin</text>
<text x="224.5" y="378.9" font-size="11.4" text-anchor="end" fill="#231f20" stroke="#231f20">Sorafenib</text>
<text x="224.5" y="390.3" font-size="11.4" text-anchor="end" fill="#231f20" stroke="#231f20">Fer-1</text>
<line x1="382.6" y1="251.4" x2="382.6" y2="343.7" stroke="#333" stroke-width="1.2"/>
<line x1="378.8" y1="343.2" x2="382.6" y2="343.2" stroke="#333" stroke-width="1.2"/>
<text x="377.5" y="347.1" font-size="10.9" text-anchor="end" fill="#231f20" stroke="#231f20">0</text>
<line x1="378.8" y1="324.94" x2="382.6" y2="324.94" stroke="#333" stroke-width="1.2"/>
<text x="377.5" y="328.84" font-size="10.9" text-anchor="end" fill="#231f20" stroke="#231f20">20</text>
<line x1="378.8" y1="306.68" x2="382.6" y2="306.68" stroke="#333" stroke-width="1.2"/>
<text x="377.5" y="310.58" font-size="10.9" text-anchor="end" fill="#231f20" stroke="#231f20">40</text>
<line x1="378.8" y1="288.42" x2="382.6" y2="288.42" stroke="#333" stroke-width="1.2"/>
<text x="377.5" y="292.32" font-size="10.9" text-anchor="end" fill="#231f20" stroke="#231f20">60</text>
<line x1="378.8" y1="270.16" x2="382.6" y2="270.16" stroke="#333" stroke-width="1.2"/>
<text x="377.5" y="274.06" font-size="10.9" text-anchor="end" fill="#231f20" stroke="#231f20">80</text>
<line x1="378.8" y1="251.9" x2="382.6" y2="251.9" stroke="#333" stroke-width="1.2"/>
<text x="377.5" y="255.8" font-size="10.9" text-anchor="end" fill="#231f20" stroke="#231f20">100</text>
<line x1="382.6" y1="343.2" x2="519.5" y2="343.2" stroke="#333" stroke-width="1.2"/>
<line x1="393.3" y1="343.2" x2="393.3" y2="347" stroke="#333" stroke-width="1"/>
<rect x="384.6" y="330.42" width="2.4" height="12.78" fill="#fff" stroke="#ec7f8e" stroke-width="1"/>
<line x1="385.8" y1="334.07" x2="385.8" y2="326.77" stroke="#ec7f8e" stroke-width="0.8"/>
<line x1="384.6" y1="326.77" x2="387" y2="326.77" stroke="#ec7f8e" stroke-width="0.8"/>
<circle cx="385.8" cy="330.82" r="1.5" fill="#ec7f8e"/>
<rect x="389.6" y="316.72" width="2.4" height="26.48" fill="#fff" stroke="#2b3784" stroke-width="1"/>
<line x1="390.8" y1="324.03" x2="390.8" y2="309.42" stroke="#2b3784" stroke-width="0.8"/>
<line x1="389.6" y1="309.42" x2="392" y2="309.42" stroke="#2b3784" stroke-width="0.8"/>
<rect x="389.45" y="315.77" width="2.7" height="2.7" fill="#2b3784"/>
<rect x="394.6" y="341.37" width="2.4" height="1.83" fill="#fff" stroke="#3cc462" stroke-width="1"/>
<line x1="395.8" y1="342.29" x2="395.8" y2="340.46" stroke="#3cc462" stroke-width="0.8"/>
<line x1="394.6" y1="340.46" x2="397" y2="340.46" stroke="#3cc462" stroke-width="0.8"/>
<polygon points="394.15,342.93 397.45,342.93 395.8,340.29" fill="#3cc462"/>
<rect x="399.6" y="330.42" width="2.4" height="12.78" fill="#fff" stroke="#f09530" stroke-width="1"/>
<line x1="400.8" y1="333.16" x2="400.8" y2="327.68" stroke="#f09530" stroke-width="0.8"/>
<line x1="399.6" y1="327.68" x2="402" y2="327.68" stroke="#f09530" stroke-width="0.8"/>
<polygon points="399.15,329.66 402.45,329.66 400.8,332.3" fill="#f09530"/>
<line x1="416.3" y1="343.2" x2="416.3" y2="347" stroke="#333" stroke-width="1"/>
<rect x="407.6" y="317.64" width="2.4" height="25.56" fill="#fff" stroke="#ec7f8e" stroke-width="1"/>
<line x1="408.8" y1="320.38" x2="408.8" y2="314.9" stroke="#ec7f8e" stroke-width="0.8"/>
<line x1="407.6" y1="314.9" x2="410" y2="314.9" stroke="#ec7f8e" stroke-width="0.8"/>
<circle cx="408.8" cy="318.04" r="1.5" fill="#ec7f8e"/>
<rect x="412.6" y="300.29" width="2.4" height="42.91" fill="#fff" stroke="#2b3784" stroke-width="1"/>
<line x1="413.8" y1="301.2" x2="413.8" y2="299.38" stroke="#2b3784" stroke-width="0.8"/>
<line x1="412.6" y1="299.38" x2="415" y2="299.38" stroke="#2b3784" stroke-width="0.8"/>
<rect x="412.45" y="299.34" width="2.7" height="2.7" fill="#2b3784"/>
<rect x="417.6" y="332.24" width="2.4" height="10.96" fill="#fff" stroke="#3cc462" stroke-width="1"/>
<line x1="418.8" y1="335.9" x2="418.8" y2="328.59" stroke="#3cc462" stroke-width="0.8"/>
<line x1="417.6" y1="328.59" x2="420" y2="328.59" stroke="#3cc462" stroke-width="0.8"/>
<polygon points="417.15,333.8 420.45,333.8 418.8,331.16" fill="#3cc462"/>
<rect x="422.6" y="313.98" width="2.4" height="29.22" fill="#fff" stroke="#f09530" stroke-width="1"/>
<line x1="423.8" y1="319.46" x2="423.8" y2="308.51" stroke="#f09530" stroke-width="0.8"/>
<line x1="422.6" y1="308.51" x2="425" y2="308.51" stroke="#f09530" stroke-width="0.8"/>
<polygon points="422.15,313.23 425.45,313.23 423.8,315.87" fill="#f09530"/>
<line x1="439.3" y1="343.2" x2="439.3" y2="347" stroke="#333" stroke-width="1"/>
<rect x="430.6" y="304.85" width="2.4" height="38.35" fill="#fff" stroke="#ec7f8e" stroke-width="1"/>
<line x1="431.8" y1="309.42" x2="431.8" y2="300.29" stroke="#ec7f8e" stroke-width="0.8"/>
<line x1="430.6" y1="300.29" x2="433" y2="300.29" stroke="#ec7f8e" stroke-width="0.8"/>
<circle cx="431.8" cy="305.25" r="1.5" fill="#ec7f8e"/>
<rect x="435.6" y="277.46" width="2.4" height="65.74" fill="#fff" stroke="#2b3784" stroke-width="1"/>
<line x1="436.8" y1="278.38" x2="436.8" y2="276.55" stroke="#2b3784" stroke-width="0.8"/>
<line x1="435.6" y1="276.55" x2="438" y2="276.55" stroke="#2b3784" stroke-width="0.8"/>
<rect x="435.45" y="276.51" width="2.7" height="2.7" fill="#2b3784"/>
<rect x="440.6" y="317.64" width="2.4" height="25.56" fill="#fff" stroke="#3cc462" stroke-width="1"/>
<line x1="441.8" y1="319.46" x2="441.8" y2="315.81" stroke="#3cc462" stroke-width="0.8"/>
<line x1="440.6" y1="315.81" x2="443" y2="315.81" stroke="#3cc462" stroke-width="0.8"/>
<polygon points="440.15,319.19 443.45,319.19 441.8,316.55" fill="#3cc462"/>
<rect x="445.6" y="303.03" width="2.4" height="40.17" fill="#fff" stroke="#f09530" stroke-width="1"/>
<line x1="446.8" y1="312.16" x2="446.8" y2="293.9" stroke="#f09530" stroke-width="0.8"/>
<line x1="445.6" y1="293.9" x2="448" y2="293.9" stroke="#f09530" stroke-width="0.8"/>
<polygon points="445.15,302.27 448.45,302.27 446.8,304.91" fill="#f09530"/>
<line x1="462.3" y1="343.2" x2="462.3" y2="347" stroke="#333" stroke-width="1"/>
<rect x="453.6" y="338.63" width="2.4" height="4.56" fill="#fff" stroke="#ec7f8e" stroke-width="1"/>
<line x1="454.8" y1="340.46" x2="454.8" y2="336.81" stroke="#ec7f8e" stroke-width="0.8"/>
<line x1="453.6" y1="336.81" x2="456" y2="336.81" stroke="#ec7f8e" stroke-width="0.8"/>
<circle cx="454.8" cy="339.03" r="1.5" fill="#ec7f8e"/>
<rect x="458.6" y="331.33" width="2.4" height="11.87" fill="#fff" stroke="#2b3784" stroke-width="1"/>
<line x1="459.8" y1="335.9" x2="459.8" y2="326.77" stroke="#2b3784" stroke-width="0.8"/>
<line x1="458.6" y1="326.77" x2="461" y2="326.77" stroke="#2b3784" stroke-width="0.8"/>
<rect x="458.45" y="330.38" width="2.7" height="2.7" fill="#2b3784"/>
<rect x="463.6" y="342.29" width="2.4" height="0.91" fill="#fff" stroke="#3cc462" stroke-width="1"/>
<polygon points="463.15,343.84 466.45,343.84 464.8,341.2" fill="#3cc462"/>
<rect x="468.6" y="334.07" width="2.4" height="9.13" fill="#fff" stroke="#f09530" stroke-width="1"/>
<line x1="469.8" y1="334.98" x2="469.8" y2="333.16" stroke="#f09530" stroke-width="0.8"/>
<line x1="468.6" y1="333.16" x2="471" y2="333.16" stroke="#f09530" stroke-width="0.8"/>
<polygon points="468.15,333.31 471.45,333.31 469.8,335.95" fill="#f09530"/>
<line x1="485.3" y1="343.2" x2="485.3" y2="347" stroke="#333" stroke-width="1"/>
<rect x="476.6" y="324.94" width="2.4" height="18.26" fill="#fff" stroke="#ec7f8e" stroke-width="1"/>
<line x1="477.8" y1="327.68" x2="477.8" y2="322.2" stroke="#ec7f8e" stroke-width="0.8"/>
<line x1="476.6" y1="322.2" x2="479" y2="322.2" stroke="#ec7f8e" stroke-width="0.8"/>
<circle cx="477.8" cy="325.34" r="1.5" fill="#ec7f8e"/>
<rect x="481.6" y="310.33" width="2.4" height="32.87" fill="#fff" stroke="#2b3784" stroke-width="1"/>
<line x1="482.8" y1="312.16" x2="482.8" y2="308.51" stroke="#2b3784" stroke-width="0.8"/>
<line x1="481.6" y1="308.51" x2="484" y2="308.51" stroke="#2b3784" stroke-width="0.8"/>
<rect x="481.45" y="309.38" width="2.7" height="2.7" fill="#2b3784"/>
<rect x="486.6" y="339.55" width="2.4" height="3.65" fill="#fff" stroke="#3cc462" stroke-width="1"/>
<line x1="487.8" y1="340.46" x2="487.8" y2="338.63" stroke="#3cc462" stroke-width="0.8"/>
<line x1="486.6" y1="338.63" x2="489" y2="338.63" stroke="#3cc462" stroke-width="0.8"/>
<polygon points="486.15,341.1 489.45,341.1 487.8,338.46" fill="#3cc462"/>
<rect x="491.6" y="320.38" width="2.4" height="22.82" fill="#fff" stroke="#f09530" stroke-width="1"/>
<line x1="492.8" y1="324.03" x2="492.8" y2="316.72" stroke="#f09530" stroke-width="0.8"/>
<line x1="491.6" y1="316.72" x2="494" y2="316.72" stroke="#f09530" stroke-width="0.8"/>
<polygon points="491.15,319.62 494.45,319.62 492.8,322.26" fill="#f09530"/>
<line x1="508.3" y1="343.2" x2="508.3" y2="347" stroke="#333" stroke-width="1"/>
<rect x="499.6" y="311.25" width="2.4" height="31.95" fill="#fff" stroke="#ec7f8e" stroke-width="1"/>
<line x1="500.8" y1="313.07" x2="500.8" y2="309.42" stroke="#ec7f8e" stroke-width="0.8"/>
<line x1="499.6" y1="309.42" x2="502" y2="309.42" stroke="#ec7f8e" stroke-width="0.8"/>
<circle cx="500.8" cy="311.64" r="1.5" fill="#ec7f8e"/>
<rect x="504.6" y="284.77" width="2.4" height="58.43" fill="#fff" stroke="#2b3784" stroke-width="1"/>
<line x1="505.8" y1="285.68" x2="505.8" y2="283.86" stroke="#2b3784" stroke-width="0.8"/>
<line x1="504.6" y1="283.86" x2="507" y2="283.86" stroke="#2b3784" stroke-width="0.8"/>
<rect x="504.45" y="283.82" width="2.7" height="2.7" fill="#2b3784"/>
<rect x="509.6" y="325.85" width="2.4" height="17.35" fill="#fff" stroke="#3cc462" stroke-width="1"/>
<line x1="510.8" y1="327.68" x2="510.8" y2="324.03" stroke="#3cc462" stroke-width="0.8"/>
<line x1="509.6" y1="324.03" x2="512" y2="324.03" stroke="#3cc462" stroke-width="0.8"/>
<polygon points="509.15,327.41 512.45,327.41 510.8,324.77" fill="#3cc462"/>
<rect x="514.6" y="315.81" width="2.4" height="27.39" fill="#fff" stroke="#f09530" stroke-width="1"/>
<line x1="515.8" y1="319.46" x2="515.8" y2="312.16" stroke="#f09530" stroke-width="0.8"/>
<line x1="514.6" y1="312.16" x2="517" y2="312.16" stroke="#f09530" stroke-width="0.8"/>
<polygon points="514.15,315.06 517.45,315.06 515.8,317.69" fill="#f09530"/>
<line x1="384.6" y1="305.2" x2="390.7" y2="305.2" stroke="#231f20" stroke-width="1"/>
<line x1="384.6" y1="301.9" x2="384.6" y2="308.5" stroke="#231f20" stroke-width="1"/>
<line x1="390.7" y1="301.9" x2="390.7" y2="308.5" stroke="#231f20" stroke-width="1"/>
<polygon points="387.2,299.45 387.77,300.82 389.24,300.94 388.12,301.9 388.46,303.34 387.2,302.57 385.94,303.34 386.28,301.9 385.16,300.94 386.63,300.82" fill="#231f20"/>
<line x1="384.6" y1="296.8" x2="395.5" y2="296.8" stroke="#231f20" stroke-width="1"/>
<line x1="384.6" y1="293.5" x2="384.6" y2="300.1" stroke="#231f20" stroke-width="1"/>
<line x1="395.5" y1="293.5" x2="395.5" y2="300.1" stroke="#231f20" stroke-width="1"/>
<polygon points="387.5,291.25 388.07,292.62 389.54,292.74 388.42,293.7 388.76,295.14 387.5,294.37 386.24,295.14 386.58,293.7 385.46,292.74 386.93,292.62" fill="#231f20"/>
<polygon points="391.9,291.25 392.47,292.62 393.94,292.74 392.82,293.7 393.16,295.14 391.9,294.37 390.64,295.14 390.98,293.7 389.86,292.74 391.33,292.62" fill="#231f20"/>
<line x1="390.2" y1="285.3" x2="400.4" y2="285.3" stroke="#231f20" stroke-width="1"/>
<line x1="390.2" y1="282" x2="390.2" y2="288.6" stroke="#231f20" stroke-width="1"/>
<line x1="400.4" y1="282" x2="400.4" y2="288.6" stroke="#231f20" stroke-width="1"/>
<polygon points="395.1,279.75 395.67,281.12 397.14,281.24 396.02,282.2 396.36,283.64 395.1,282.87 393.84,283.64 394.18,282.2 393.06,281.24 394.53,281.12" fill="#231f20"/>
<line x1="408.4" y1="294.5" x2="414.2" y2="294.5" stroke="#231f20" stroke-width="1"/>
<line x1="408.4" y1="291.2" x2="408.4" y2="297.8" stroke="#231f20" stroke-width="1"/>
<line x1="414.2" y1="291.2" x2="414.2" y2="297.8" stroke="#231f20" stroke-width="1"/>
<polygon points="406.3,286.95 406.87,288.32 408.34,288.44 407.22,289.4 407.56,290.84 406.3,290.07 405.04,290.84 405.38,289.4 404.26,288.44 405.73,288.32" fill="#231f20"/>
<polygon points="410.7,286.95 411.27,288.32 412.74,288.44 411.62,289.4 411.96,290.84 410.7,290.07 409.44,290.84 409.78,289.4 408.66,288.44 410.13,288.32" fill="#231f20"/>
<polygon points="415.1,286.95 415.67,288.32 417.14,288.44 416.02,289.4 416.36,290.84 415.1,290.07 413.84,290.84 414.18,289.4 413.06,288.44 414.53,288.32" fill="#231f20"/>
<line x1="408.4" y1="282.5" x2="419.3" y2="282.5" stroke="#231f20" stroke-width="1"/>
<line x1="408.4" y1="279.2" x2="408.4" y2="285.8" stroke="#231f20" stroke-width="1"/>
<line x1="419.3" y1="279.2" x2="419.3" y2="285.8" stroke="#231f20" stroke-width="1"/>
<polygon points="411.3,277.45 411.87,278.82 413.34,278.94 412.22,279.9 412.56,281.34 411.3,280.57 410.04,281.34 410.38,279.9 409.26,278.94 410.73,278.82" fill="#231f20"/>
<polygon points="415.7,277.45 416.27,278.82 417.74,278.94 416.62,279.9 416.96,281.34 415.7,280.57 414.44,281.34 414.78,279.9 413.66,278.94 415.13,278.82" fill="#231f20"/>
<line x1="413.7" y1="273.3" x2="424.1" y2="273.3" stroke="#231f20" stroke-width="1"/>
<line x1="413.7" y1="270" x2="413.7" y2="276.6" stroke="#231f20" stroke-width="1"/>
<line x1="424.1" y1="270" x2="424.1" y2="276.6" stroke="#231f20" stroke-width="1"/>
<polygon points="416.6,266.75 417.17,268.12 418.64,268.24 417.52,269.2 417.86,270.64 416.6,269.87 415.34,270.64 415.68,269.2 414.56,268.24 416.03,268.12" fill="#231f20"/>
<polygon points="421,266.75 421.57,268.12 423.04,268.24 421.92,269.2 422.26,270.64 421,269.87 419.74,270.64 420.08,269.2 418.96,268.24 420.43,268.12" fill="#231f20"/>
<line x1="430.8" y1="271" x2="436.5" y2="271" stroke="#231f20" stroke-width="1"/>
<line x1="430.8" y1="267.7" x2="430.8" y2="274.3" stroke="#231f20" stroke-width="1"/>
<line x1="436.5" y1="267.7" x2="436.5" y2="274.3" stroke="#231f20" stroke-width="1"/>
<polygon points="429.2,263.95 429.77,265.32 431.24,265.44 430.12,266.4 430.46,267.84 429.2,267.07 427.94,267.84 428.28,266.4 427.16,265.44 428.63,265.32" fill="#231f20"/>
<polygon points="433.6,263.95 434.17,265.32 435.64,265.44 434.52,266.4 434.86,267.84 433.6,267.07 432.34,267.84 432.68,266.4 431.56,265.44 433.03,265.32" fill="#231f20"/>
<polygon points="438,263.95 438.57,265.32 440.04,265.44 438.92,266.4 439.26,267.84 438,267.07 436.74,267.84 437.08,266.4 435.96,265.44 437.43,265.32" fill="#231f20"/>
<line x1="431.1" y1="260.2" x2="441.8" y2="260.2" stroke="#231f20" stroke-width="1"/>
<line x1="431.1" y1="256.9" x2="431.1" y2="263.5" stroke="#231f20" stroke-width="1"/>
<line x1="441.8" y1="256.9" x2="441.8" y2="263.5" stroke="#231f20" stroke-width="1"/>
<polygon points="434,255.55 434.57,256.92 436.04,257.04 434.92,258 435.26,259.44 434,258.67 432.74,259.44 433.08,258 431.96,257.04 433.43,256.92" fill="#231f20"/>
<polygon points="438.4,255.55 438.97,256.92 440.44,257.04 439.32,258 439.66,259.44 438.4,258.67 437.14,259.44 437.48,258 436.36,257.04 437.83,256.92" fill="#231f20"/>
<line x1="426.5" y1="251.5" x2="436.2" y2="251.5" stroke="#231f20" stroke-width="1"/>
<line x1="426.5" y1="248.2" x2="426.5" y2="254.8" stroke="#231f20" stroke-width="1"/>
<line x1="436.2" y1="248.2" x2="436.2" y2="254.8" stroke="#231f20" stroke-width="1"/>
<polygon points="429.1,244.35 429.67,245.72 431.14,245.84 430.02,246.8 430.36,248.24 429.1,247.47 427.84,248.24 428.18,246.8 427.06,245.84 428.53,245.72" fill="#231f20"/>
<polygon points="433.5,244.35 434.07,245.72 435.54,245.84 434.42,246.8 434.76,248.24 433.5,247.47 432.24,248.24 432.58,246.8 431.46,245.84 432.93,245.72" fill="#231f20"/>
<text x="393.8" y="356.29" font-size="11.44" text-anchor="middle" fill="#231f20" stroke="#231f20">+</text>
<line x1="415" y1="352.5" x2="418.8" y2="352.5" stroke="#231f20" stroke-width="1"/>
<line x1="438" y1="352.5" x2="441.8" y2="352.5" stroke="#231f20" stroke-width="1"/>
<line x1="461" y1="352.5" x2="464.8" y2="352.5" stroke="#231f20" stroke-width="1"/>
<line x1="484" y1="352.5" x2="487.8" y2="352.5" stroke="#231f20" stroke-width="1"/>
<line x1="507" y1="352.5" x2="510.8" y2="352.5" stroke="#231f20" stroke-width="1"/>
<line x1="392" y1="364.5" x2="395.8" y2="364.5" stroke="#231f20" stroke-width="1"/>
<text x="416.8" y="368.39" font-size="11.44" text-anchor="middle" fill="#231f20" stroke="#231f20">+</text>
<line x1="438" y1="364.5" x2="441.8" y2="364.5" stroke="#231f20" stroke-width="1"/>
<line x1="461" y1="364.5" x2="464.8" y2="364.5" stroke="#231f20" stroke-width="1"/>
<text x="485.8" y="368.39" font-size="11.44" text-anchor="middle" fill="#231f20" stroke="#231f20">+</text>
<line x1="507" y1="364.5" x2="510.8" y2="364.5" stroke="#231f20" stroke-width="1"/>
<line x1="392" y1="376.5" x2="395.8" y2="376.5" stroke="#231f20" stroke-width="1"/>
<line x1="415" y1="376.5" x2="418.8" y2="376.5" stroke="#231f20" stroke-width="1"/>
<text x="439.8" y="380.59" font-size="11.44" text-anchor="middle" fill="#231f20" stroke="#231f20">+</text>
<line x1="461" y1="376.5" x2="464.8" y2="376.5" stroke="#231f20" stroke-width="1"/>
<line x1="484" y1="376.5" x2="487.8" y2="376.5" stroke="#231f20" stroke-width="1"/>
<text x="508.8" y="380.59" font-size="11.44" text-anchor="middle" fill="#231f20" stroke="#231f20">+</text>
<line x1="392" y1="388.5" x2="395.8" y2="388.5" stroke="#231f20" stroke-width="1"/>
<line x1="415" y1="388.5" x2="418.8" y2="388.5" stroke="#231f20" stroke-width="1"/>
<line x1="438" y1="388.5" x2="441.8" y2="388.5" stroke="#231f20" stroke-width="1"/>
<text x="462.8" y="392.19" font-size="11.44" text-anchor="middle" fill="#231f20" stroke="#231f20">+</text>
<text x="485.8" y="392.19" font-size="11.44" text-anchor="middle" fill="#231f20" stroke="#231f20">+</text>
<text x="508.8" y="392.19" font-size="11.44" text-anchor="middle" fill="#231f20" stroke="#231f20">+</text>
<line x1="542.9" y1="251.8" x2="542.9" y2="343.7" stroke="#333" stroke-width="1.2"/>
<line x1="539.7" y1="343.2" x2="542.9" y2="343.2" stroke="#333" stroke-width="1.2"/>
<text x="536.7" y="347.1" font-size="10.9" text-anchor="end" fill="#231f20" stroke="#231f20">0</text>
<line x1="539.7" y1="325.02" x2="542.9" y2="325.02" stroke="#333" stroke-width="1.2"/>
<text x="536.7" y="328.92" font-size="10.9" text-anchor="end" fill="#231f20" stroke="#231f20">20</text>
<line x1="539.7" y1="306.84" x2="542.9" y2="306.84" stroke="#333" stroke-width="1.2"/>
<text x="536.7" y="310.74" font-size="10.9" text-anchor="end" fill="#231f20" stroke="#231f20">40</text>
<line x1="539.7" y1="288.66" x2="542.9" y2="288.66" stroke="#333" stroke-width="1.2"/>
<text x="536.7" y="292.56" font-size="10.9" text-anchor="end" fill="#231f20" stroke="#231f20">60</text>
<line x1="539.7" y1="270.48" x2="542.9" y2="270.48" stroke="#333" stroke-width="1.2"/>
<text x="536.7" y="274.38" font-size="10.9" text-anchor="end" fill="#231f20" stroke="#231f20">80</text>
<line x1="539.7" y1="252.3" x2="542.9" y2="252.3" stroke="#333" stroke-width="1.2"/>
<text x="536.7" y="256.2" font-size="10.9" text-anchor="end" fill="#231f20" stroke="#231f20">100</text>
<line x1="542.9" y1="343.2" x2="680" y2="343.2" stroke="#333" stroke-width="1.2"/>
<line x1="554" y1="343.2" x2="554" y2="347" stroke="#333" stroke-width="1"/>
<rect x="545.3" y="321.38" width="2.4" height="21.82" fill="#fff" stroke="#ec7f8e" stroke-width="1"/>
<line x1="546.5" y1="322.29" x2="546.5" y2="320.48" stroke="#ec7f8e" stroke-width="0.8"/>
<line x1="545.3" y1="320.48" x2="547.7" y2="320.48" stroke="#ec7f8e" stroke-width="0.8"/>
<circle cx="546.5" cy="321.78" r="1.5" fill="#ec7f8e"/>
<rect x="550.3" y="314.11" width="2.4" height="29.09" fill="#fff" stroke="#2b3784" stroke-width="1"/>
<line x1="551.5" y1="315.02" x2="551.5" y2="313.2" stroke="#2b3784" stroke-width="0.8"/>
<line x1="550.3" y1="313.2" x2="552.7" y2="313.2" stroke="#2b3784" stroke-width="0.8"/>
<rect x="550.15" y="313.16" width="2.7" height="2.7" fill="#2b3784"/>
<rect x="555.3" y="334.11" width="2.4" height="9.09" fill="#fff" stroke="#3cc462" stroke-width="1"/>
<line x1="556.5" y1="335.02" x2="556.5" y2="333.2" stroke="#3cc462" stroke-width="0.8"/>
<line x1="555.3" y1="333.2" x2="557.7" y2="333.2" stroke="#3cc462" stroke-width="0.8"/>
<polygon points="554.85,335.66 558.15,335.66 556.5,333.02" fill="#3cc462"/>
<rect x="560.3" y="316.84" width="2.4" height="26.36" fill="#fff" stroke="#f09530" stroke-width="1"/>
<line x1="561.5" y1="317.75" x2="561.5" y2="315.93" stroke="#f09530" stroke-width="0.8"/>
<line x1="560.3" y1="315.93" x2="562.7" y2="315.93" stroke="#f09530" stroke-width="0.8"/>
<polygon points="559.85,316.08 563.15,316.08 561.5,318.72" fill="#f09530"/>
<line x1="577" y1="343.2" x2="577" y2="347" stroke="#333" stroke-width="1"/>
<rect x="568.3" y="313.2" width="2.4" height="30" fill="#fff" stroke="#ec7f8e" stroke-width="1"/>
<line x1="569.5" y1="314.11" x2="569.5" y2="312.29" stroke="#ec7f8e" stroke-width="0.8"/>
<line x1="568.3" y1="312.29" x2="570.7" y2="312.29" stroke="#ec7f8e" stroke-width="0.8"/>
<circle cx="569.5" cy="313.6" r="1.5" fill="#ec7f8e"/>
<rect x="573.3" y="305.02" width="2.4" height="38.18" fill="#fff" stroke="#2b3784" stroke-width="1"/>
<line x1="574.5" y1="305.93" x2="574.5" y2="304.11" stroke="#2b3784" stroke-width="0.8"/>
<line x1="573.3" y1="304.11" x2="575.7" y2="304.11" stroke="#2b3784" stroke-width="0.8"/>
<rect x="573.15" y="304.07" width="2.7" height="2.7" fill="#2b3784"/>
<rect x="578.3" y="321.38" width="2.4" height="21.82" fill="#fff" stroke="#3cc462" stroke-width="1"/>
<line x1="579.5" y1="322.29" x2="579.5" y2="320.48" stroke="#3cc462" stroke-width="0.8"/>
<line x1="578.3" y1="320.48" x2="580.7" y2="320.48" stroke="#3cc462" stroke-width="0.8"/>
<polygon points="577.85,322.94 581.15,322.94 579.5,320.3" fill="#3cc462"/>
<rect x="583.3" y="311.38" width="2.4" height="31.81" fill="#fff" stroke="#f09530" stroke-width="1"/>
<line x1="584.5" y1="312.29" x2="584.5" y2="310.48" stroke="#f09530" stroke-width="0.8"/>
<line x1="583.3" y1="310.48" x2="585.7" y2="310.48" stroke="#f09530" stroke-width="0.8"/>
<polygon points="582.85,310.63 586.15,310.63 584.5,313.27" fill="#f09530"/>
<line x1="600" y1="343.2" x2="600" y2="347" stroke="#333" stroke-width="1"/>
<rect x="591.3" y="281.39" width="2.4" height="61.81" fill="#fff" stroke="#ec7f8e" stroke-width="1"/>
<line x1="592.5" y1="282.3" x2="592.5" y2="280.48" stroke="#ec7f8e" stroke-width="0.8"/>
<line x1="591.3" y1="280.48" x2="593.7" y2="280.48" stroke="#ec7f8e" stroke-width="0.8"/>
<circle cx="592.5" cy="281.79" r="1.5" fill="#ec7f8e"/>
<rect x="596.3" y="278.66" width="2.4" height="64.54" fill="#fff" stroke="#2b3784" stroke-width="1"/>
<line x1="597.5" y1="279.57" x2="597.5" y2="277.75" stroke="#2b3784" stroke-width="0.8"/>
<line x1="596.3" y1="277.75" x2="598.7" y2="277.75" stroke="#2b3784" stroke-width="0.8"/>
<rect x="596.15" y="277.71" width="2.7" height="2.7" fill="#2b3784"/>
<rect x="601.3" y="290.48" width="2.4" height="52.72" fill="#fff" stroke="#3cc462" stroke-width="1"/>
<line x1="602.5" y1="291.39" x2="602.5" y2="289.57" stroke="#3cc462" stroke-width="0.8"/>
<line x1="601.3" y1="289.57" x2="603.7" y2="289.57" stroke="#3cc462" stroke-width="0.8"/>
<polygon points="600.85,292.03 604.15,292.03 602.5,289.39" fill="#3cc462"/>
<rect x="606.3" y="279.57" width="2.4" height="63.63" fill="#fff" stroke="#f09530" stroke-width="1"/>
<line x1="607.5" y1="280.48" x2="607.5" y2="278.66" stroke="#f09530" stroke-width="0.8"/>
<line x1="606.3" y1="278.66" x2="608.7" y2="278.66" stroke="#f09530" stroke-width="0.8"/>
<polygon points="605.85,278.81 609.15,278.81 607.5,281.45" fill="#f09530"/>
<line x1="623" y1="343.2" x2="623" y2="347" stroke="#333" stroke-width="1"/>
<rect x="614.3" y="329.56" width="2.4" height="13.63" fill="#fff" stroke="#ec7f8e" stroke-width="1"/>
<line x1="615.5" y1="332.29" x2="615.5" y2="326.84" stroke="#ec7f8e" stroke-width="0.8"/>
<line x1="614.3" y1="326.84" x2="616.7" y2="326.84" stroke="#ec7f8e" stroke-width="0.8"/>
<circle cx="615.5" cy="329.96" r="1.5" fill="#ec7f8e"/>
<rect x="619.3" y="317.75" width="2.4" height="25.45" fill="#fff" stroke="#2b3784" stroke-width="1"/>
<line x1="620.5" y1="318.66" x2="620.5" y2="316.84" stroke="#2b3784" stroke-width="0.8"/>
<line x1="619.3" y1="316.84" x2="621.7" y2="316.84" stroke="#2b3784" stroke-width="0.8"/>
<rect x="619.15" y="316.8" width="2.7" height="2.7" fill="#2b3784"/>
<rect x="624.3" y="342.75" width="2.4" height="0.45" fill="#fff" stroke="#3cc462" stroke-width="1"/>
<polygon points="623.85,344.3 627.15,344.3 625.5,341.66" fill="#3cc462"/>
<rect x="629.3" y="319.57" width="2.4" height="23.63" fill="#fff" stroke="#f09530" stroke-width="1"/>
<line x1="630.5" y1="320.48" x2="630.5" y2="318.66" stroke="#f09530" stroke-width="0.8"/>
<line x1="629.3" y1="318.66" x2="631.7" y2="318.66" stroke="#f09530" stroke-width="0.8"/>
<polygon points="628.85,318.81 632.15,318.81 630.5,321.45" fill="#f09530"/>
<line x1="646" y1="343.2" x2="646" y2="347" stroke="#333" stroke-width="1"/>
<rect x="637.3" y="316.84" width="2.4" height="26.36" fill="#fff" stroke="#ec7f8e" stroke-width="1"/>
<line x1="638.5" y1="317.75" x2="638.5" y2="315.93" stroke="#ec7f8e" stroke-width="0.8"/>
<line x1="637.3" y1="315.93" x2="639.7" y2="315.93" stroke="#ec7f8e" stroke-width="0.8"/>
<circle cx="638.5" cy="317.24" r="1.5" fill="#ec7f8e"/>
<rect x="642.3" y="311.38" width="2.4" height="31.81" fill="#fff" stroke="#2b3784" stroke-width="1"/>
<line x1="643.5" y1="312.29" x2="643.5" y2="310.48" stroke="#2b3784" stroke-width="0.8"/>
<line x1="642.3" y1="310.48" x2="644.7" y2="310.48" stroke="#2b3784" stroke-width="0.8"/>
<rect x="642.15" y="310.43" width="2.7" height="2.7" fill="#2b3784"/>
<rect x="647.3" y="332.29" width="2.4" height="10.91" fill="#fff" stroke="#3cc462" stroke-width="1"/>
<line x1="648.5" y1="333.2" x2="648.5" y2="331.38" stroke="#3cc462" stroke-width="0.8"/>
<line x1="647.3" y1="331.38" x2="649.7" y2="331.38" stroke="#3cc462" stroke-width="0.8"/>
<polygon points="646.85,333.85 650.15,333.85 648.5,331.21" fill="#3cc462"/>
<rect x="652.3" y="315.02" width="2.4" height="28.18" fill="#fff" stroke="#f09530" stroke-width="1"/>
<line x1="653.5" y1="315.93" x2="653.5" y2="314.11" stroke="#f09530" stroke-width="0.8"/>
<line x1="652.3" y1="314.11" x2="654.7" y2="314.11" stroke="#f09530" stroke-width="0.8"/>
<polygon points="651.85,314.27 655.15,314.27 653.5,316.91" fill="#f09530"/>
<line x1="669" y1="343.2" x2="669" y2="347" stroke="#333" stroke-width="1"/>
<rect x="660.3" y="305.02" width="2.4" height="38.18" fill="#fff" stroke="#ec7f8e" stroke-width="1"/>
<line x1="661.5" y1="305.93" x2="661.5" y2="304.11" stroke="#ec7f8e" stroke-width="0.8"/>
<line x1="660.3" y1="304.11" x2="662.7" y2="304.11" stroke="#ec7f8e" stroke-width="0.8"/>
<circle cx="661.5" cy="305.42" r="1.5" fill="#ec7f8e"/>
<rect x="665.3" y="303.2" width="2.4" height="40" fill="#fff" stroke="#2b3784" stroke-width="1"/>
<line x1="666.5" y1="304.11" x2="666.5" y2="302.3" stroke="#2b3784" stroke-width="0.8"/>
<line x1="665.3" y1="302.3" x2="667.7" y2="302.3" stroke="#2b3784" stroke-width="0.8"/>
<rect x="665.15" y="302.25" width="2.7" height="2.7" fill="#2b3784"/>
<rect x="670.3" y="310.48" width="2.4" height="32.72" fill="#fff" stroke="#3cc462" stroke-width="1"/>
<line x1="671.5" y1="311.38" x2="671.5" y2="309.57" stroke="#3cc462" stroke-width="0.8"/>
<line x1="670.3" y1="309.57" x2="672.7" y2="309.57" stroke="#3cc462" stroke-width="0.8"/>
<polygon points="669.85,312.03 673.15,312.03 671.5,309.39" fill="#3cc462"/>
<rect x="675.3" y="302.3" width="2.4" height="40.9" fill="#fff" stroke="#f09530" stroke-width="1"/>
<line x1="676.5" y1="303.2" x2="676.5" y2="301.39" stroke="#f09530" stroke-width="0.8"/>
<line x1="675.3" y1="301.39" x2="677.7" y2="301.39" stroke="#f09530" stroke-width="0.8"/>
<polygon points="674.85,301.54 678.15,301.54 676.5,304.18" fill="#f09530"/>
<line x1="545.6" y1="306.4" x2="551.4" y2="306.4" stroke="#231f20" stroke-width="1"/>
<line x1="545.6" y1="303.1" x2="545.6" y2="309.7" stroke="#231f20" stroke-width="1"/>
<line x1="551.4" y1="303.1" x2="551.4" y2="309.7" stroke="#231f20" stroke-width="1"/>
<polygon points="545.8,298.95 546.37,300.32 547.84,300.44 546.72,301.4 547.06,302.84 545.8,302.07 544.54,302.84 544.88,301.4 543.76,300.44 545.23,300.32" fill="#231f20"/>
<polygon points="550.2,298.95 550.77,300.32 552.24,300.44 551.12,301.4 551.46,302.84 550.2,302.07 548.94,302.84 549.28,301.4 548.16,300.44 549.63,300.32" fill="#231f20"/>
<polygon points="554.6,298.95 555.17,300.32 556.64,300.44 555.52,301.4 555.86,302.84 554.6,302.07 553.34,302.84 553.68,301.4 552.56,300.44 554.03,300.32" fill="#231f20"/>
<line x1="545.6" y1="295.7" x2="556.3" y2="295.7" stroke="#231f20" stroke-width="1"/>
<line x1="545.6" y1="292.4" x2="545.6" y2="299" stroke="#231f20" stroke-width="1"/>
<line x1="556.3" y1="292.4" x2="556.3" y2="299" stroke="#231f20" stroke-width="1"/>
<polygon points="546.7,287.45 547.27,288.82 548.74,288.94 547.62,289.9 547.96,291.34 546.7,290.57 545.44,291.34 545.78,289.9 544.66,288.94 546.13,288.82" fill="#231f20"/>
<polygon points="551.1,287.45 551.67,288.82 553.14,288.94 552.02,289.9 552.36,291.34 551.1,290.57 549.84,291.34 550.18,289.9 549.06,288.94 550.53,288.82" fill="#231f20"/>
<polygon points="555.5,287.45 556.07,288.82 557.54,288.94 556.42,289.9 556.76,291.34 555.5,290.57 554.24,291.34 554.58,289.9 553.46,288.94 554.93,288.82" fill="#231f20"/>
<polygon points="559.9,287.45 560.47,288.82 561.94,288.94 560.82,289.9 561.16,291.34 559.9,290.57 558.64,291.34 558.98,289.9 557.86,288.94 559.33,288.82" fill="#231f20"/>
<line x1="551" y1="283.4" x2="561.5" y2="283.4" stroke="#231f20" stroke-width="1"/>
<line x1="551" y1="280.1" x2="551" y2="286.7" stroke="#231f20" stroke-width="1"/>
<line x1="561.5" y1="280.1" x2="561.5" y2="286.7" stroke="#231f20" stroke-width="1"/>
<polygon points="556,276.95 556.57,278.32 558.04,278.44 556.92,279.4 557.26,280.84 556,280.07 554.74,280.84 555.08,279.4 553.96,278.44 555.43,278.32" fill="#231f20"/>
<line x1="569.6" y1="299.1" x2="575.6" y2="299.1" stroke="#231f20" stroke-width="1"/>
<line x1="569.6" y1="295.8" x2="569.6" y2="302.4" stroke="#231f20" stroke-width="1"/>
<line x1="575.6" y1="295.8" x2="575.6" y2="302.4" stroke="#231f20" stroke-width="1"/>
<polygon points="568.5,290.75 569.07,292.12 570.54,292.24 569.42,293.2 569.76,294.64 568.5,293.87 567.24,294.64 567.58,293.2 566.46,292.24 567.93,292.12" fill="#231f20"/>
<polygon points="572.9,290.75 573.47,292.12 574.94,292.24 573.82,293.2 574.16,294.64 572.9,293.87 571.64,294.64 571.98,293.2 570.86,292.24 572.33,292.12" fill="#231f20"/>
<polygon points="577.3,290.75 577.87,292.12 579.34,292.24 578.22,293.2 578.56,294.64 577.3,293.87 576.04,294.64 576.38,293.2 575.26,292.24 576.73,292.12" fill="#231f20"/>
<line x1="569.6" y1="287.5" x2="581.4" y2="287.5" stroke="#231f20" stroke-width="1"/>
<line x1="569.6" y1="284.2" x2="569.6" y2="290.8" stroke="#231f20" stroke-width="1"/>
<line x1="581.4" y1="284.2" x2="581.4" y2="290.8" stroke="#231f20" stroke-width="1"/>
<polygon points="571.4,279.95 571.97,281.32 573.44,281.44 572.32,282.4 572.66,283.84 571.4,283.07 570.14,283.84 570.48,282.4 569.36,281.44 570.83,281.32" fill="#231f20"/>
<polygon points="575.8,279.95 576.37,281.32 577.84,281.44 576.72,282.4 577.06,283.84 575.8,283.07 574.54,283.84 574.88,282.4 573.76,281.44 575.23,281.32" fill="#231f20"/>
<polygon points="580.2,279.95 580.77,281.32 582.24,281.44 581.12,282.4 581.46,283.84 580.2,283.07 578.94,283.84 579.28,282.4 578.16,281.44 579.63,281.32" fill="#231f20"/>
<line x1="575.6" y1="276.3" x2="587" y2="276.3" stroke="#231f20" stroke-width="1"/>
<line x1="575.6" y1="273" x2="575.6" y2="279.6" stroke="#231f20" stroke-width="1"/>
<line x1="587" y1="273" x2="587" y2="279.6" stroke="#231f20" stroke-width="1"/>
<polygon points="577,267.45 577.57,268.82 579.04,268.94 577.92,269.9 578.26,271.34 577,270.57 575.74,271.34 576.08,269.9 574.96,268.94 576.43,268.82" fill="#231f20"/>
<polygon points="581.4,267.45 581.97,268.82 583.44,268.94 582.32,269.9 582.66,271.34 581.4,270.57 580.14,271.34 580.48,269.9 579.36,268.94 580.83,268.82" fill="#231f20"/>
<polygon points="585.8,267.45 586.37,268.82 587.84,268.94 586.72,269.9 587.06,271.34 585.8,270.57 584.54,271.34 584.88,269.9 583.76,268.94 585.23,268.82" fill="#231f20"/>
<line x1="591.6" y1="274.2" x2="597.7" y2="274.2" stroke="#231f20" stroke-width="1"/>
<line x1="591.6" y1="270.9" x2="591.6" y2="277.5" stroke="#231f20" stroke-width="1"/>
<line x1="597.7" y1="270.9" x2="597.7" y2="277.5" stroke="#231f20" stroke-width="1"/>
<polygon points="593,265.25 593.57,266.62 595.04,266.74 593.92,267.7 594.26,269.14 593,268.37 591.74,269.14 592.08,267.7 590.96,266.74 592.43,266.62" fill="#231f20"/>
<polygon points="597.4,265.25 597.97,266.62 599.44,266.74 598.32,267.7 598.66,269.14 597.4,268.37 596.14,269.14 596.48,267.7 595.36,266.74 596.83,266.62" fill="#231f20"/>
<line x1="591.6" y1="262" x2="601.8" y2="262" stroke="#231f20" stroke-width="1"/>
<line x1="591.6" y1="258.7" x2="591.6" y2="265.3" stroke="#231f20" stroke-width="1"/>
<line x1="601.8" y1="258.7" x2="601.8" y2="265.3" stroke="#231f20" stroke-width="1"/>
<polygon points="593.3,254.15 593.87,255.52 595.34,255.64 594.22,256.6 594.56,258.04 593.3,257.27 592.04,258.04 592.38,256.6 591.26,255.64 592.73,255.52" fill="#231f20"/>
<polygon points="597.7,254.15 598.27,255.52 599.74,255.64 598.62,256.6 598.96,258.04 597.7,257.27 596.44,258.04 596.78,256.6 595.66,255.64 597.13,255.52" fill="#231f20"/>
<polygon points="602.1,254.15 602.67,255.52 604.14,255.64 603.02,256.6 603.36,258.04 602.1,257.27 600.84,258.04 601.18,256.6 600.06,255.64 601.53,255.52" fill="#231f20"/>
<line x1="597.4" y1="249.2" x2="608" y2="249.2" stroke="#231f20" stroke-width="1"/>
<line x1="597.4" y1="245.9" x2="597.4" y2="252.5" stroke="#231f20" stroke-width="1"/>
<line x1="608" y1="245.9" x2="608" y2="252.5" stroke="#231f20" stroke-width="1"/>
<polygon points="600.6,243.45 601.17,244.82 602.64,244.94 601.52,245.9 601.86,247.34 600.6,246.57 599.34,247.34 599.68,245.9 598.56,244.94 600.03,244.82" fill="#231f20"/>
<polygon points="605,243.45 605.57,244.82 607.04,244.94 605.92,245.9 606.26,247.34 605,246.57 603.74,247.34 604.08,245.9 602.96,244.94 604.43,244.82" fill="#231f20"/>
<text x="554.5" y="356.29" font-size="11.44" text-anchor="middle" fill="#231f20" stroke="#231f20">+</text>
<line x1="575.7" y1="352.5" x2="579.5" y2="352.5" stroke="#231f20" stroke-width="1"/>
<line x1="598.7" y1="352.5" x2="602.5" y2="352.5" stroke="#231f20" stroke-width="1"/>
<line x1="621.7" y1="352.5" x2="625.5" y2="352.5" stroke="#231f20" stroke-width="1"/>
<line x1="644.7" y1="352.5" x2="648.5" y2="352.5" stroke="#231f20" stroke-width="1"/>
<line x1="667.7" y1="352.5" x2="671.5" y2="352.5" stroke="#231f20" stroke-width="1"/>
<line x1="552.7" y1="364.5" x2="556.5" y2="364.5" stroke="#231f20" stroke-width="1"/>
<text x="577.5" y="368.39" font-size="11.44" text-anchor="middle" fill="#231f20" stroke="#231f20">+</text>
<line x1="598.7" y1="364.5" x2="602.5" y2="364.5" stroke="#231f20" stroke-width="1"/>
<line x1="621.7" y1="364.5" x2="625.5" y2="364.5" stroke="#231f20" stroke-width="1"/>
<text x="646.5" y="368.39" font-size="11.44" text-anchor="middle" fill="#231f20" stroke="#231f20">+</text>
<line x1="667.7" y1="364.5" x2="671.5" y2="364.5" stroke="#231f20" stroke-width="1"/>
<line x1="552.7" y1="376.5" x2="556.5" y2="376.5" stroke="#231f20" stroke-width="1"/>
<line x1="575.7" y1="376.5" x2="579.5" y2="376.5" stroke="#231f20" stroke-width="1"/>
<text x="600.5" y="380.59" font-size="11.44" text-anchor="middle" fill="#231f20" stroke="#231f20">+</text>
<line x1="621.7" y1="376.5" x2="625.5" y2="376.5" stroke="#231f20" stroke-width="1"/>
<line x1="644.7" y1="376.5" x2="648.5" y2="376.5" stroke="#231f20" stroke-width="1"/>
<text x="669.5" y="380.59" font-size="11.44" text-anchor="middle" fill="#231f20" stroke="#231f20">+</text>
<line x1="552.7" y1="388.5" x2="556.5" y2="388.5" stroke="#231f20" stroke-width="1"/>
<line x1="575.7" y1="388.5" x2="579.5" y2="388.5" stroke="#231f20" stroke-width="1"/>
<line x1="598.7" y1="388.5" x2="602.5" y2="388.5" stroke="#231f20" stroke-width="1"/>
<text x="623.5" y="392.19" font-size="11.44" text-anchor="middle" fill="#231f20" stroke="#231f20">+</text>
<text x="646.5" y="392.19" font-size="11.44" text-anchor="middle" fill="#231f20" stroke="#231f20">+</text>
<text x="669.5" y="392.19" font-size="11.44" text-anchor="middle" fill="#231f20" stroke="#231f20">+</text>
<line x1="45.6" y1="416.4" x2="77" y2="416.4" stroke="#231f20" stroke-width="1.1"/>
<line x1="114" y1="416.4" x2="146" y2="416.4" stroke="#231f20" stroke-width="1.1"/>
<text x="96.3" y="420.4" font-size="11.4" text-anchor="middle" fill="#231f20" stroke="#231f20">CNE1</text>
<line x1="159.6" y1="415.6" x2="191" y2="415.6" stroke="#231f20" stroke-width="1.1"/>
<line x1="230.6" y1="415.6" x2="263" y2="415.6" stroke="#231f20" stroke-width="1.1"/>
<text x="211.3" y="419.6" font-size="11.4" text-anchor="middle" fill="#231f20" stroke="#231f20">CNE2</text>
<text transform="translate(21.2,484) rotate(-90)" font-size="11.4" text-anchor="middle" fill="#231f20" stroke="#231f20">Cell number</text>
<line x1="52.4" y1="434.5" x2="52.4" y2="533.9" stroke="#333" stroke-width="1"/>
<line x1="47.9" y1="533.4" x2="52.4" y2="533.4" stroke="#333" stroke-width="1"/>
<text x="46.7" y="537.3" font-size="10.9" text-anchor="end" fill="#231f20" stroke="#231f20">0</text>
<line x1="47.9" y1="508.8" x2="52.4" y2="508.8" stroke="#333" stroke-width="1"/>
<text x="46.7" y="512.7" font-size="10.9" text-anchor="end" fill="#231f20" stroke="#231f20">50</text>
<line x1="47.9" y1="484.2" x2="52.4" y2="484.2" stroke="#333" stroke-width="1"/>
<text x="46.7" y="488.1" font-size="10.9" text-anchor="end" fill="#231f20" stroke="#231f20">100</text>
<line x1="47.9" y1="459.6" x2="52.4" y2="459.6" stroke="#333" stroke-width="1"/>
<text x="46.7" y="463.5" font-size="10.9" text-anchor="end" fill="#231f20" stroke="#231f20">150</text>
<line x1="47.9" y1="435" x2="52.4" y2="435" stroke="#333" stroke-width="1"/>
<text x="46.7" y="438.9" font-size="10.9" text-anchor="end" fill="#231f20" stroke="#231f20">200</text>
<line x1="52.4" y1="533.4" x2="150" y2="533.4" stroke="#333" stroke-width="1.2"/>
<line x1="67.5" y1="533.4" x2="67.5" y2="537.2" stroke="#333" stroke-width="1"/>
<rect x="60.4" y="481.25" width="14.2" height="52.15" fill="#fff" stroke="#e4544a" stroke-width="1.2"/>
<line x1="67.5" y1="487.64" x2="67.5" y2="474.36" stroke="#e4544a" stroke-width="0.9"/>
<line x1="63.7" y1="474.36" x2="71.3" y2="474.36" stroke="#e4544a" stroke-width="0.9"/>
<line x1="63.7" y1="487.64" x2="71.3" y2="487.64" stroke="#e4544a" stroke-width="0.9"/>
<circle cx="67.5" cy="474.36" r="2.2" fill="#e4544a"/>
<circle cx="67.5" cy="480.26" r="2.2" fill="#e4544a"/>
<circle cx="67.5" cy="488.14" r="2.2" fill="#e4544a"/>
<line x1="90" y1="533.4" x2="90" y2="537.2" stroke="#333" stroke-width="1"/>
<rect x="82.9" y="506.34" width="14.2" height="27.06" fill="#fff" stroke="#3748b8" stroke-width="1.2"/>
<line x1="90" y1="515.69" x2="90" y2="497.48" stroke="#3748b8" stroke-width="0.9"/>
<line x1="86.2" y1="497.48" x2="93.8" y2="497.48" stroke="#3748b8" stroke-width="0.9"/>
<line x1="86.2" y1="515.69" x2="93.8" y2="515.69" stroke="#3748b8" stroke-width="0.9"/>
<rect x="88.02" y="495.5" width="3.96" height="3.96" fill="#3748b8"/>
<rect x="88.02" y="501.9" width="3.96" height="3.96" fill="#3748b8"/>
<rect x="88.02" y="515.18" width="3.96" height="3.96" fill="#3748b8"/>
<line x1="112.7" y1="533.4" x2="112.7" y2="537.2" stroke="#333" stroke-width="1"/>
<rect x="105.6" y="465.01" width="14.2" height="68.39" fill="#fff" stroke="#52c6a2" stroke-width="1.2"/>
<line x1="112.7" y1="466.98" x2="112.7" y2="462.06" stroke="#52c6a2" stroke-width="0.9"/>
<line x1="108.9" y1="462.06" x2="116.5" y2="462.06" stroke="#52c6a2" stroke-width="0.9"/>
<line x1="108.9" y1="466.98" x2="116.5" y2="466.98" stroke="#52c6a2" stroke-width="0.9"/>
<polygon points="110.28,463.75 115.12,463.75 112.7,459.88" fill="#52c6a2"/>
<polygon points="108.98,467.2 113.82,467.2 111.4,463.33" fill="#52c6a2"/>
<polygon points="111.58,467.69 116.42,467.69 114,463.82" fill="#52c6a2"/>
<line x1="135.7" y1="533.4" x2="135.7" y2="537.2" stroke="#333" stroke-width="1"/>
<rect x="128.6" y="482.72" width="14.2" height="50.68" fill="#fff" stroke="#f0a432" stroke-width="1.2"/>
<line x1="135.7" y1="485.68" x2="135.7" y2="479.77" stroke="#f0a432" stroke-width="0.9"/>
<line x1="131.9" y1="479.77" x2="139.5" y2="479.77" stroke="#f0a432" stroke-width="0.9"/>
<line x1="131.9" y1="485.68" x2="139.5" y2="485.68" stroke="#f0a432" stroke-width="0.9"/>
<polygon points="130.68,478.57 135.52,478.57 133.1,482.44" fill="#f0a432"/>
<polygon points="133.28,480.54 138.12,480.54 135.7,484.41" fill="#f0a432"/>
<polygon points="135.88,483 140.72,483 138.3,486.87" fill="#f0a432"/>
<line x1="66.6" y1="438" x2="112.6" y2="438" stroke="#231f20" stroke-width="1.2"/>
<line x1="66.6" y1="435.4" x2="66.6" y2="440.6" stroke="#231f20" stroke-width="1.2"/>
<line x1="112.6" y1="435.4" x2="112.6" y2="440.6" stroke="#231f20" stroke-width="1.2"/>
<text x="89.6" y="438.68" font-size="14" text-anchor="middle" fill="#231f20" stroke="#231f20">*</text>
<line x1="66.6" y1="465" x2="89" y2="465" stroke="#231f20" stroke-width="1.2"/>
<line x1="66.6" y1="462.4" x2="66.6" y2="467.6" stroke="#231f20" stroke-width="1.2"/>
<line x1="89" y1="462.4" x2="89" y2="467.6" stroke="#231f20" stroke-width="1.2"/>
<text x="77.8" y="466.28" font-size="14" text-anchor="middle" fill="#231f20" stroke="#231f20">**</text>
<line x1="113.6" y1="454.4" x2="136.6" y2="454.4" stroke="#231f20" stroke-width="1.2"/>
<line x1="113.6" y1="451.8" x2="113.6" y2="457" stroke="#231f20" stroke-width="1.2"/>
<line x1="136.6" y1="451.8" x2="136.6" y2="457" stroke="#231f20" stroke-width="1.2"/>
<text x="125.1" y="456.88" font-size="14" text-anchor="middle" fill="#231f20" stroke="#231f20">*</text>
<line x1="173" y1="435.1" x2="173" y2="533.1" stroke="#333" stroke-width="1"/>
<line x1="168.5" y1="532.6" x2="173" y2="532.6" stroke="#333" stroke-width="1"/>
<text x="167.3" y="536.5" font-size="10.9" text-anchor="end" fill="#231f20" stroke="#231f20">0</text>
<line x1="168.5" y1="508.35" x2="173" y2="508.35" stroke="#333" stroke-width="1"/>
<text x="167.3" y="512.25" font-size="10.9" text-anchor="end" fill="#231f20" stroke="#231f20">50</text>
<line x1="168.5" y1="484.1" x2="173" y2="484.1" stroke="#333" stroke-width="1"/>
<text x="167.3" y="488" font-size="10.9" text-anchor="end" fill="#231f20" stroke="#231f20">100</text>
<line x1="168.5" y1="459.85" x2="173" y2="459.85" stroke="#333" stroke-width="1"/>
<text x="167.3" y="463.75" font-size="10.9" text-anchor="end" fill="#231f20" stroke="#231f20">150</text>
<line x1="168.5" y1="435.6" x2="173" y2="435.6" stroke="#333" stroke-width="1"/>
<text x="167.3" y="439.5" font-size="10.9" text-anchor="end" fill="#231f20" stroke="#231f20">200</text>
<line x1="173" y1="532.6" x2="266" y2="532.6" stroke="#333" stroke-width="1.2"/>
<line x1="188" y1="532.6" x2="188" y2="536.4" stroke="#333" stroke-width="1"/>
<rect x="180.9" y="475.86" width="14.2" height="56.74" fill="#fff" stroke="#e87c78" stroke-width="1.2"/>
<line x1="188" y1="489.44" x2="188" y2="461.31" stroke="#e87c78" stroke-width="0.9"/>
<line x1="184.2" y1="461.31" x2="191.8" y2="461.31" stroke="#e87c78" stroke-width="0.9"/>
<line x1="184.2" y1="489.44" x2="191.8" y2="489.44" stroke="#e87c78" stroke-width="0.9"/>
<circle cx="188" cy="461.31" r="2.2" fill="#e87c78"/>
<circle cx="188" cy="475.86" r="2.2" fill="#e87c78"/>
<circle cx="188" cy="489.44" r="2.2" fill="#e87c78"/>
<line x1="210.5" y1="532.6" x2="210.5" y2="536.4" stroke="#333" stroke-width="1"/>
<rect x="203.4" y="504.96" width="14.2" height="27.64" fill="#fff" stroke="#3748b8" stroke-width="1.2"/>
<line x1="210.5" y1="519.5" x2="210.5" y2="490.41" stroke="#3748b8" stroke-width="0.9"/>
<line x1="206.7" y1="490.41" x2="214.3" y2="490.41" stroke="#3748b8" stroke-width="0.9"/>
<line x1="206.7" y1="519.5" x2="214.3" y2="519.5" stroke="#3748b8" stroke-width="0.9"/>
<rect x="208.52" y="487.94" width="3.96" height="3.96" fill="#3748b8"/>
<rect x="208.52" y="507.34" width="3.96" height="3.96" fill="#3748b8"/>
<rect x="208.52" y="514.62" width="3.96" height="3.96" fill="#3748b8"/>
<line x1="233.3" y1="532.6" x2="233.3" y2="536.4" stroke="#333" stroke-width="1"/>
<rect x="226.2" y="447.73" width="14.2" height="84.88" fill="#fff" stroke="#4cc4a4" stroke-width="1.2"/>
<line x1="233.3" y1="449.67" x2="233.3" y2="445.79" stroke="#4cc4a4" stroke-width="0.9"/>
<line x1="229.5" y1="445.79" x2="237.1" y2="445.79" stroke="#4cc4a4" stroke-width="0.9"/>
<line x1="229.5" y1="449.67" x2="237.1" y2="449.67" stroke="#4cc4a4" stroke-width="0.9"/>
<polygon points="228.28,447.96 233.12,447.96 230.7,444.09" fill="#4cc4a4"/>
<polygon points="230.88,449.42 235.72,449.42 233.3,445.55" fill="#4cc4a4"/>
<polygon points="233.48,450.39 238.32,450.39 235.9,446.52" fill="#4cc4a4"/>
<line x1="256" y1="532.6" x2="256" y2="536.4" stroke="#333" stroke-width="1"/>
<rect x="248.9" y="474.4" width="14.2" height="58.2" fill="#fff" stroke="#f0b445" stroke-width="1.2"/>
<line x1="256" y1="478.28" x2="256" y2="469.55" stroke="#f0b445" stroke-width="0.9"/>
<line x1="252.2" y1="469.55" x2="259.8" y2="469.55" stroke="#f0b445" stroke-width="0.9"/>
<line x1="252.2" y1="478.28" x2="259.8" y2="478.28" stroke="#f0b445" stroke-width="0.9"/>
<polygon points="253.58,468.34 258.42,468.34 256,472.21" fill="#f0b445"/>
<polygon points="252.28,472.71 257.12,472.71 254.7,476.58" fill="#f0b445"/>
<polygon points="254.88,474.16 259.72,474.16 257.3,478.03" fill="#f0b445"/>
<line x1="188.4" y1="429.4" x2="233" y2="429.4" stroke="#231f20" stroke-width="1.2"/>
<line x1="188.4" y1="426.8" x2="188.4" y2="432" stroke="#231f20" stroke-width="1.2"/>
<line x1="233" y1="426.8" x2="233" y2="432" stroke="#231f20" stroke-width="1.2"/>
<text x="210.7" y="430.88" font-size="14" text-anchor="middle" fill="#231f20" stroke="#231f20">*</text>
<line x1="233.6" y1="437.4" x2="255.6" y2="437.4" stroke="#231f20" stroke-width="1.2"/>
<line x1="233.6" y1="434.8" x2="233.6" y2="440" stroke="#231f20" stroke-width="1.2"/>
<line x1="255.6" y1="434.8" x2="255.6" y2="440" stroke="#231f20" stroke-width="1.2"/>
<text x="244.6" y="440.68" font-size="14" text-anchor="middle" fill="#231f20" stroke="#231f20">*</text>
<line x1="188.4" y1="454.4" x2="210" y2="454.4" stroke="#231f20" stroke-width="1.2"/>
<line x1="188.4" y1="451.8" x2="188.4" y2="457" stroke="#231f20" stroke-width="1.2"/>
<line x1="210" y1="451.8" x2="210" y2="457" stroke="#231f20" stroke-width="1.2"/>
<text x="199.2" y="457.08" font-size="14" text-anchor="middle" fill="#231f20" stroke="#231f20">*</text>
<text x="66.9" y="546.29" font-size="11.44" text-anchor="middle" fill="#231f20" stroke="#231f20">+</text>
<line x1="88.1" y1="542.5" x2="91.9" y2="542.5" stroke="#231f20" stroke-width="1"/>
<line x1="111.1" y1="542.5" x2="114.9" y2="542.5" stroke="#231f20" stroke-width="1"/>
<line x1="134.1" y1="542.5" x2="137.9" y2="542.5" stroke="#231f20" stroke-width="1"/>
<line x1="65.1" y1="562.5" x2="68.9" y2="562.5" stroke="#231f20" stroke-width="1"/>
<text x="89.9" y="566.09" font-size="11.44" text-anchor="middle" fill="#231f20" stroke="#231f20">+</text>
<line x1="111.1" y1="562.5" x2="114.9" y2="562.5" stroke="#231f20" stroke-width="1"/>
<text x="135.9" y="566.09" font-size="11.44" text-anchor="middle" fill="#231f20" stroke="#231f20">+</text>
<line x1="65.1" y1="583.5" x2="68.9" y2="583.5" stroke="#231f20" stroke-width="1"/>
<line x1="88.1" y1="583.5" x2="91.9" y2="583.5" stroke="#231f20" stroke-width="1"/>
<text x="112.9" y="587.09" font-size="11.44" text-anchor="middle" fill="#231f20" stroke="#231f20">+</text>
<text x="135.9" y="587.09" font-size="11.44" text-anchor="middle" fill="#231f20" stroke="#231f20">+</text>
<text x="187.9" y="546.29" font-size="11.44" text-anchor="middle" fill="#231f20" stroke="#231f20">+</text>
<line x1="208.7" y1="542.5" x2="212.5" y2="542.5" stroke="#231f20" stroke-width="1"/>
<line x1="231.5" y1="542.5" x2="235.3" y2="542.5" stroke="#231f20" stroke-width="1"/>
<line x1="254.1" y1="542.5" x2="257.9" y2="542.5" stroke="#231f20" stroke-width="1"/>
<line x1="186.1" y1="562.5" x2="189.9" y2="562.5" stroke="#231f20" stroke-width="1"/>
<text x="210.5" y="566.09" font-size="11.44" text-anchor="middle" fill="#231f20" stroke="#231f20">+</text>
<line x1="231.5" y1="562.5" x2="235.3" y2="562.5" stroke="#231f20" stroke-width="1"/>
<text x="255.9" y="566.09" font-size="11.44" text-anchor="middle" fill="#231f20" stroke="#231f20">+</text>
<line x1="186.1" y1="583.5" x2="189.9" y2="583.5" stroke="#231f20" stroke-width="1"/>
<line x1="208.7" y1="583.5" x2="212.5" y2="583.5" stroke="#231f20" stroke-width="1"/>
<text x="233.3" y="587.09" font-size="11.44" text-anchor="middle" fill="#231f20" stroke="#231f20">+</text>
<text x="255.9" y="587.09" font-size="11.44" text-anchor="middle" fill="#231f20" stroke="#231f20">+</text>
<text x="3" y="546.2" font-size="11.4" text-anchor="start" fill="#231f20" stroke="#231f20">Vector</text>
<text x="3" y="559.3" font-size="11.4" text-anchor="start" fill="#231f20" stroke="#231f20">shLINC-</text>
<text x="3" y="573.3" font-size="11.4" text-anchor="start" fill="#231f20" stroke="#231f20">AC092535.5</text>
<text x="3" y="587.8" font-size="11.4" text-anchor="start" fill="#231f20" stroke="#231f20">oeMICAL2</text>
<line x1="379.4" y1="414.4" x2="411.6" y2="414.4" stroke="#231f20" stroke-width="1.1"/>
<line x1="448.6" y1="414.4" x2="480.3" y2="414.4" stroke="#231f20" stroke-width="1.1"/>
<text x="430.2" y="418.4" font-size="11.4" text-anchor="middle" fill="#231f20" stroke="#231f20">CNE1</text>
<line x1="555" y1="414.4" x2="587" y2="414.4" stroke="#231f20" stroke-width="1.1"/>
<line x1="625.6" y1="414.4" x2="659" y2="414.4" stroke="#231f20" stroke-width="1.1"/>
<text x="607" y="418.4" font-size="11.4" text-anchor="middle" fill="#231f20" stroke="#231f20">CNE2</text>
<line x1="404.9" y1="430.8" x2="419.1" y2="430.8" stroke="#e2553f" stroke-width="1"/>
<circle cx="412" cy="430.8" r="2.2" fill="#e2553f"/>
<text x="423.3" y="434" font-size="11.55" text-anchor="start" fill="#231f20" stroke="#231f20">Vector</text>
<line x1="404.9" y1="446.2" x2="419.1" y2="446.2" stroke="#5cc9a0" stroke-width="1"/>
<polygon points="409.58,447.89 414.42,447.89 412,444.02" fill="#5cc9a0"/>
<text x="423.3" y="449.4" font-size="11.55" text-anchor="start" fill="#231f20" stroke="#231f20">oeMICAL2</text>
<line x1="495.7" y1="430.6" x2="508" y2="430.6" stroke="#3550c0" stroke-width="1"/>
<rect x="499.87" y="428.62" width="3.96" height="3.96" fill="#3550c0"/>
<text x="510.5" y="433.8" font-size="11.55" text-anchor="start" fill="#231f20" stroke="#231f20">shLINC-AC092535.5</text>
<line x1="495.7" y1="446.2" x2="508" y2="446.2" stroke="#f2a434" stroke-width="1"/>
<polygon points="499.43,444.51 504.27,444.51 501.85,448.38" fill="#f2a434"/>
<text x="510.5" y="449.4" font-size="11.55" text-anchor="start" fill="#231f20" stroke="#231f20">shLINC-AC092535.5+oeMICAL2</text>
<text transform="translate(328.2,507.5) rotate(-90)" font-size="11.7" text-anchor="middle" fill="#231f20" stroke="#231f20">Cell viability</text>
<text transform="translate(342.8,507.5) rotate(-90)" font-size="11.6" text-anchor="middle" fill="#231f20" stroke="#231f20">(OD 450nm)</text>
<text x="355.8" y="571.2" font-size="11.4" text-anchor="end" fill="#231f20" stroke="#231f20">Time(h)</text>
<line x1="363.4" y1="460.8" x2="363.4" y2="555.1" stroke="#333" stroke-width="1"/>
<line x1="359.6" y1="554.6" x2="363.4" y2="554.6" stroke="#333" stroke-width="1"/>
<text x="356.6" y="559.6" font-size="10.9" text-anchor="end" fill="#231f20" stroke="#231f20">0</text>
<line x1="359.6" y1="531.27" x2="363.4" y2="531.27" stroke="#333" stroke-width="1"/>
<text x="356.6" y="536.27" font-size="10.9" text-anchor="end" fill="#231f20" stroke="#231f20">2</text>
<line x1="359.6" y1="507.95" x2="363.4" y2="507.95" stroke="#333" stroke-width="1"/>
<text x="356.6" y="512.95" font-size="10.9" text-anchor="end" fill="#231f20" stroke="#231f20">4</text>
<line x1="359.6" y1="484.62" x2="363.4" y2="484.62" stroke="#333" stroke-width="1"/>
<text x="356.6" y="489.62" font-size="10.9" text-anchor="end" fill="#231f20" stroke="#231f20">6</text>
<line x1="359.6" y1="461.3" x2="363.4" y2="461.3" stroke="#333" stroke-width="1"/>
<text x="356.6" y="466.3" font-size="10.9" text-anchor="end" fill="#231f20" stroke="#231f20">8</text>
<line x1="363.4" y1="554.6" x2="504" y2="554.6" stroke="#333" stroke-width="1.2"/>
<line x1="363.4" y1="554.6" x2="363.4" y2="558.6" stroke="#333" stroke-width="1"/>
<text x="363.4" y="571.4" font-size="10.9" text-anchor="middle" fill="#231f20" stroke="#231f20">0</text>
<line x1="398.55" y1="554.6" x2="398.55" y2="558.6" stroke="#333" stroke-width="1"/>
<text x="398.55" y="571.4" font-size="10.9" text-anchor="middle" fill="#231f20" stroke="#231f20">20</text>
<line x1="433.7" y1="554.6" x2="433.7" y2="558.6" stroke="#333" stroke-width="1"/>
<text x="433.7" y="571.4" font-size="10.9" text-anchor="middle" fill="#231f20" stroke="#231f20">40</text>
<line x1="468.85" y1="554.6" x2="468.85" y2="558.6" stroke="#333" stroke-width="1"/>
<text x="468.85" y="571.4" font-size="10.9" text-anchor="middle" fill="#231f20" stroke="#231f20">60</text>
<line x1="504" y1="554.6" x2="504" y2="558.6" stroke="#333" stroke-width="1"/>
<text x="504" y="571.4" font-size="10.9" text-anchor="middle" fill="#231f20" stroke="#231f20">80</text>
<polyline points="363.6,543 384.4,536.4 405.6,523.6 426.7,521.6 447.8,510.4 489.8,483" fill="none" stroke="#5cc9a0" stroke-width="0.9" stroke-linejoin="round"/>
<polyline points="363.6,542 384.4,535.4 405.6,527.6 426.7,527 447.8,515.6 489.8,504" fill="none" stroke="#f2a434" stroke-width="0.9" stroke-linejoin="round"/>
<polyline points="363.6,543 384.4,542.4 405.6,535.6 426.7,530 447.8,520.4 489.8,501.2" fill="none" stroke="#e2553f" stroke-width="0.9" stroke-linejoin="round"/>
<polyline points="363.6,543.8 384.4,539.4 405.6,532.6 426.7,532 447.8,529.6 489.8,523.2" fill="none" stroke="#3550c0" stroke-width="0.9" stroke-linejoin="round"/>
<line x1="363.6" y1="543" x2="363.6" y2="542" stroke="#5cc9a0" stroke-width="0.8"/>
<line x1="362.3" y1="542" x2="364.9" y2="542" stroke="#5cc9a0" stroke-width="0.8"/>
<polygon points="361.95,544.15 365.25,544.15 363.6,541.51" fill="#5cc9a0"/>
<line x1="384.4" y1="536.4" x2="384.4" y2="535.4" stroke="#5cc9a0" stroke-width="0.8"/>
<line x1="383.1" y1="535.4" x2="385.7" y2="535.4" stroke="#5cc9a0" stroke-width="0.8"/>
<polygon points="382.75,537.55 386.05,537.55 384.4,534.91" fill="#5cc9a0"/>
<line x1="405.6" y1="523.6" x2="405.6" y2="521.6" stroke="#5cc9a0" stroke-width="0.8"/>
<line x1="404.3" y1="521.6" x2="406.9" y2="521.6" stroke="#5cc9a0" stroke-width="0.8"/>
<polygon points="403.95,524.75 407.25,524.75 405.6,522.12" fill="#5cc9a0"/>
<line x1="426.7" y1="521.6" x2="426.7" y2="519.6" stroke="#5cc9a0" stroke-width="0.8"/>
<line x1="425.4" y1="519.6" x2="428" y2="519.6" stroke="#5cc9a0" stroke-width="0.8"/>
<polygon points="425.05,522.75 428.35,522.75 426.7,520.12" fill="#5cc9a0"/>
<line x1="447.8" y1="510.4" x2="447.8" y2="507.4" stroke="#5cc9a0" stroke-width="0.8"/>
<line x1="446.5" y1="507.4" x2="449.1" y2="507.4" stroke="#5cc9a0" stroke-width="0.8"/>
<polygon points="446.15,511.55 449.45,511.55 447.8,508.91" fill="#5cc9a0"/>
<line x1="489.8" y1="483" x2="489.8" y2="481.5" stroke="#5cc9a0" stroke-width="0.8"/>
<line x1="488.5" y1="481.5" x2="491.1" y2="481.5" stroke="#5cc9a0" stroke-width="0.8"/>
<polygon points="488.15,484.15 491.45,484.15 489.8,481.51" fill="#5cc9a0"/>
<line x1="363.6" y1="542" x2="363.6" y2="539.5" stroke="#f2a434" stroke-width="0.8"/>
<line x1="362.3" y1="539.5" x2="364.9" y2="539.5" stroke="#f2a434" stroke-width="0.8"/>
<polygon points="361.95,540.85 365.25,540.85 363.6,543.49" fill="#f2a434"/>
<line x1="384.4" y1="535.4" x2="384.4" y2="529.4" stroke="#f2a434" stroke-width="0.8"/>
<line x1="383.1" y1="529.4" x2="385.7" y2="529.4" stroke="#f2a434" stroke-width="0.8"/>
<polygon points="382.75,534.25 386.05,534.25 384.4,536.88" fill="#f2a434"/>
<line x1="405.6" y1="527.6" x2="405.6" y2="526.6" stroke="#f2a434" stroke-width="0.8"/>
<line x1="404.3" y1="526.6" x2="406.9" y2="526.6" stroke="#f2a434" stroke-width="0.8"/>
<polygon points="403.95,526.45 407.25,526.45 405.6,529.09" fill="#f2a434"/>
<line x1="426.7" y1="527" x2="426.7" y2="525" stroke="#f2a434" stroke-width="0.8"/>
<line x1="425.4" y1="525" x2="428" y2="525" stroke="#f2a434" stroke-width="0.8"/>
<polygon points="425.05,525.85 428.35,525.85 426.7,528.49" fill="#f2a434"/>
<line x1="447.8" y1="515.6" x2="447.8" y2="513.6" stroke="#f2a434" stroke-width="0.8"/>
<line x1="446.5" y1="513.6" x2="449.1" y2="513.6" stroke="#f2a434" stroke-width="0.8"/>
<polygon points="446.15,514.45 449.45,514.45 447.8,517.09" fill="#f2a434"/>
<line x1="489.8" y1="504" x2="489.8" y2="495" stroke="#f2a434" stroke-width="0.8"/>
<line x1="488.5" y1="495" x2="491.1" y2="495" stroke="#f2a434" stroke-width="0.8"/>
<polygon points="488.15,502.85 491.45,502.85 489.8,505.49" fill="#f2a434"/>
<line x1="363.6" y1="543" x2="363.6" y2="542" stroke="#e2553f" stroke-width="0.8"/>
<line x1="362.3" y1="542" x2="364.9" y2="542" stroke="#e2553f" stroke-width="0.8"/>
<circle cx="363.6" cy="543" r="1.5" fill="#e2553f"/>
<line x1="384.4" y1="542.4" x2="384.4" y2="541.4" stroke="#e2553f" stroke-width="0.8"/>
<line x1="383.1" y1="541.4" x2="385.7" y2="541.4" stroke="#e2553f" stroke-width="0.8"/>
<circle cx="384.4" cy="542.4" r="1.5" fill="#e2553f"/>
<line x1="405.6" y1="535.6" x2="405.6" y2="534.6" stroke="#e2553f" stroke-width="0.8"/>
<line x1="404.3" y1="534.6" x2="406.9" y2="534.6" stroke="#e2553f" stroke-width="0.8"/>
<circle cx="405.6" cy="535.6" r="1.5" fill="#e2553f"/>
<line x1="426.7" y1="530" x2="426.7" y2="529" stroke="#e2553f" stroke-width="0.8"/>
<line x1="425.4" y1="529" x2="428" y2="529" stroke="#e2553f" stroke-width="0.8"/>
<circle cx="426.7" cy="530" r="1.5" fill="#e2553f"/>
<line x1="447.8" y1="520.4" x2="447.8" y2="518.9" stroke="#e2553f" stroke-width="0.8"/>
<line x1="446.5" y1="518.9" x2="449.1" y2="518.9" stroke="#e2553f" stroke-width="0.8"/>
<circle cx="447.8" cy="520.4" r="1.5" fill="#e2553f"/>
<line x1="489.8" y1="501.2" x2="489.8" y2="496.2" stroke="#e2553f" stroke-width="0.8"/>
<line x1="488.5" y1="496.2" x2="491.1" y2="496.2" stroke="#e2553f" stroke-width="0.8"/>
<circle cx="489.8" cy="501.2" r="1.5" fill="#e2553f"/>
<line x1="363.6" y1="543.8" x2="363.6" y2="542.8" stroke="#3550c0" stroke-width="0.8"/>
<line x1="362.3" y1="542.8" x2="364.9" y2="542.8" stroke="#3550c0" stroke-width="0.8"/>
<rect x="362.25" y="542.45" width="2.7" height="2.7" fill="#3550c0"/>
<line x1="384.4" y1="539.4" x2="384.4" y2="538.4" stroke="#3550c0" stroke-width="0.8"/>
<line x1="383.1" y1="538.4" x2="385.7" y2="538.4" stroke="#3550c0" stroke-width="0.8"/>
<rect x="383.05" y="538.05" width="2.7" height="2.7" fill="#3550c0"/>
<line x1="405.6" y1="532.6" x2="405.6" y2="531.6" stroke="#3550c0" stroke-width="0.8"/>
<line x1="404.3" y1="531.6" x2="406.9" y2="531.6" stroke="#3550c0" stroke-width="0.8"/>
<rect x="404.25" y="531.25" width="2.7" height="2.7" fill="#3550c0"/>
<line x1="426.7" y1="532" x2="426.7" y2="531" stroke="#3550c0" stroke-width="0.8"/>
<line x1="425.4" y1="531" x2="428" y2="531" stroke="#3550c0" stroke-width="0.8"/>
<rect x="425.35" y="530.65" width="2.7" height="2.7" fill="#3550c0"/>
<line x1="447.8" y1="529.6" x2="447.8" y2="527.6" stroke="#3550c0" stroke-width="0.8"/>
<line x1="446.5" y1="527.6" x2="449.1" y2="527.6" stroke="#3550c0" stroke-width="0.8"/>
<rect x="446.45" y="528.25" width="2.7" height="2.7" fill="#3550c0"/>
<line x1="489.8" y1="523.2" x2="489.8" y2="517.2" stroke="#3550c0" stroke-width="0.8"/>
<line x1="488.5" y1="517.2" x2="491.1" y2="517.2" stroke="#3550c0" stroke-width="0.8"/>
<rect x="488.45" y="521.85" width="2.7" height="2.7" fill="#3550c0"/>
<line x1="494.4" y1="503.6" x2="494.4" y2="523.2" stroke="#333" stroke-width="1"/>
<line x1="492.2" y1="503.6" x2="494.4" y2="503.6" stroke="#333" stroke-width="1"/>
<line x1="492.2" y1="523.2" x2="494.4" y2="523.2" stroke="#333" stroke-width="1"/>
<text x="500" y="515.56" font-size="13" text-anchor="middle" fill="#231f20" stroke="#231f20">*</text>
<text x="500" y="520.16" font-size="13" text-anchor="middle" fill="#231f20" stroke="#231f20">*</text>
<text x="500" y="524.76" font-size="13" text-anchor="middle" fill="#231f20" stroke="#231f20">*</text>
<line x1="539.5" y1="460.7" x2="539.5" y2="554.9" stroke="#333" stroke-width="1"/>
<line x1="535.7" y1="554.4" x2="539.5" y2="554.4" stroke="#333" stroke-width="1"/>
<text x="530.7" y="559.4" font-size="10.9" text-anchor="end" fill="#231f20" stroke="#231f20">0</text>
<line x1="535.7" y1="531.1" x2="539.5" y2="531.1" stroke="#333" stroke-width="1"/>
<text x="530.7" y="536.1" font-size="10.9" text-anchor="end" fill="#231f20" stroke="#231f20">2</text>
<line x1="535.7" y1="507.8" x2="539.5" y2="507.8" stroke="#333" stroke-width="1"/>
<text x="530.7" y="512.8" font-size="10.9" text-anchor="end" fill="#231f20" stroke="#231f20">4</text>
<line x1="535.7" y1="484.5" x2="539.5" y2="484.5" stroke="#333" stroke-width="1"/>
<text x="530.7" y="489.5" font-size="10.9" text-anchor="end" fill="#231f20" stroke="#231f20">6</text>
<line x1="535.7" y1="461.2" x2="539.5" y2="461.2" stroke="#333" stroke-width="1"/>
<text x="530.7" y="466.2" font-size="10.9" text-anchor="end" fill="#231f20" stroke="#231f20">8</text>
<line x1="539.5" y1="554.4" x2="680" y2="554.4" stroke="#333" stroke-width="1.2"/>
<line x1="539.5" y1="554.4" x2="539.5" y2="558.4" stroke="#333" stroke-width="1"/>
<text x="539.5" y="570" font-size="10.9" text-anchor="middle" fill="#231f20" stroke="#231f20">0</text>
<line x1="574.62" y1="554.4" x2="574.62" y2="558.4" stroke="#333" stroke-width="1"/>
<text x="574.62" y="570" font-size="10.9" text-anchor="middle" fill="#231f20" stroke="#231f20">20</text>
<line x1="609.75" y1="554.4" x2="609.75" y2="558.4" stroke="#333" stroke-width="1"/>
<text x="609.75" y="570" font-size="10.9" text-anchor="middle" fill="#231f20" stroke="#231f20">40</text>
<line x1="644.88" y1="554.4" x2="644.88" y2="558.4" stroke="#333" stroke-width="1"/>
<text x="644.88" y="570" font-size="10.9" text-anchor="middle" fill="#231f20" stroke="#231f20">60</text>
<line x1="680" y1="554.4" x2="680" y2="558.4" stroke="#333" stroke-width="1"/>
<text x="680" y="570" font-size="10.9" text-anchor="middle" fill="#231f20" stroke="#231f20">80</text>
<polyline points="539.6,542 560.6,537.4 581.7,526.6 602.8,520.4 623.9,512.4 666.1,482.6" fill="none" stroke="#5cc9a0" stroke-width="0.9" stroke-linejoin="round"/>
<polyline points="539.6,542 560.6,541 581.7,536 602.8,526.6 623.9,521 666.1,498" fill="none" stroke="#f2a434" stroke-width="0.9" stroke-linejoin="round"/>
<polyline points="539.6,542.2 560.6,542 581.7,535.6 602.8,529.4 623.9,520.6 666.1,500.6" fill="none" stroke="#e2553f" stroke-width="0.9" stroke-linejoin="round"/>
<polyline points="539.6,542.6 560.6,542.8 581.7,537.6 602.8,536 623.9,530.4 666.1,511" fill="none" stroke="#3550c0" stroke-width="0.9" stroke-linejoin="round"/>
<line x1="539.6" y1="542" x2="539.6" y2="541" stroke="#5cc9a0" stroke-width="0.8"/>
<line x1="538.3" y1="541" x2="540.9" y2="541" stroke="#5cc9a0" stroke-width="0.8"/>
<polygon points="537.95,543.15 541.25,543.15 539.6,540.51" fill="#5cc9a0"/>
<line x1="560.6" y1="537.4" x2="560.6" y2="536.4" stroke="#5cc9a0" stroke-width="0.8"/>
<line x1="559.3" y1="536.4" x2="561.9" y2="536.4" stroke="#5cc9a0" stroke-width="0.8"/>
<polygon points="558.95,538.55 562.25,538.55 560.6,535.91" fill="#5cc9a0"/>
<line x1="581.7" y1="526.6" x2="581.7" y2="523.6" stroke="#5cc9a0" stroke-width="0.8"/>
<line x1="580.4" y1="523.6" x2="583" y2="523.6" stroke="#5cc9a0" stroke-width="0.8"/>
<polygon points="580.05,527.75 583.35,527.75 581.7,525.12" fill="#5cc9a0"/>
<line x1="602.8" y1="520.4" x2="602.8" y2="519.4" stroke="#5cc9a0" stroke-width="0.8"/>
<line x1="601.5" y1="519.4" x2="604.1" y2="519.4" stroke="#5cc9a0" stroke-width="0.8"/>
<polygon points="601.15,521.55 604.45,521.55 602.8,518.91" fill="#5cc9a0"/>
<line x1="623.9" y1="512.4" x2="623.9" y2="509.4" stroke="#5cc9a0" stroke-width="0.8"/>
<line x1="622.6" y1="509.4" x2="625.2" y2="509.4" stroke="#5cc9a0" stroke-width="0.8"/>
<polygon points="622.25,513.55 625.55,513.55 623.9,510.91" fill="#5cc9a0"/>
<line x1="666.1" y1="482.6" x2="666.1" y2="481.1" stroke="#5cc9a0" stroke-width="0.8"/>
<line x1="664.8" y1="481.1" x2="667.4" y2="481.1" stroke="#5cc9a0" stroke-width="0.8"/>
<polygon points="664.45,483.75 667.75,483.75 666.1,481.12" fill="#5cc9a0"/>
<line x1="539.6" y1="542" x2="539.6" y2="541" stroke="#f2a434" stroke-width="0.8"/>
<line x1="538.3" y1="541" x2="540.9" y2="541" stroke="#f2a434" stroke-width="0.8"/>
<polygon points="537.95,540.85 541.25,540.85 539.6,543.49" fill="#f2a434"/>
<line x1="560.6" y1="541" x2="560.6" y2="540" stroke="#f2a434" stroke-width="0.8"/>
<line x1="559.3" y1="540" x2="561.9" y2="540" stroke="#f2a434" stroke-width="0.8"/>
<polygon points="558.95,539.85 562.25,539.85 560.6,542.49" fill="#f2a434"/>
<line x1="581.7" y1="536" x2="581.7" y2="535" stroke="#f2a434" stroke-width="0.8"/>
<line x1="580.4" y1="535" x2="583" y2="535" stroke="#f2a434" stroke-width="0.8"/>
<polygon points="580.05,534.85 583.35,534.85 581.7,537.49" fill="#f2a434"/>
<line x1="602.8" y1="526.6" x2="602.8" y2="524.6" stroke="#f2a434" stroke-width="0.8"/>
<line x1="601.5" y1="524.6" x2="604.1" y2="524.6" stroke="#f2a434" stroke-width="0.8"/>
<polygon points="601.15,525.45 604.45,525.45 602.8,528.09" fill="#f2a434"/>
<line x1="623.9" y1="521" x2="623.9" y2="520" stroke="#f2a434" stroke-width="0.8"/>
<line x1="622.6" y1="520" x2="625.2" y2="520" stroke="#f2a434" stroke-width="0.8"/>
<polygon points="622.25,519.85 625.55,519.85 623.9,522.49" fill="#f2a434"/>
<line x1="666.1" y1="498" x2="666.1" y2="496" stroke="#f2a434" stroke-width="0.8"/>
<line x1="664.8" y1="496" x2="667.4" y2="496" stroke="#f2a434" stroke-width="0.8"/>
<polygon points="664.45,496.85 667.75,496.85 666.1,499.49" fill="#f2a434"/>
<line x1="539.6" y1="542.2" x2="539.6" y2="541.2" stroke="#e2553f" stroke-width="0.8"/>
<line x1="538.3" y1="541.2" x2="540.9" y2="541.2" stroke="#e2553f" stroke-width="0.8"/>
<circle cx="539.6" cy="542.2" r="1.5" fill="#e2553f"/>
<line x1="560.6" y1="542" x2="560.6" y2="541" stroke="#e2553f" stroke-width="0.8"/>
<line x1="559.3" y1="541" x2="561.9" y2="541" stroke="#e2553f" stroke-width="0.8"/>
<circle cx="560.6" cy="542" r="1.5" fill="#e2553f"/>
<line x1="581.7" y1="535.6" x2="581.7" y2="531.6" stroke="#e2553f" stroke-width="0.8"/>
<line x1="580.4" y1="531.6" x2="583" y2="531.6" stroke="#e2553f" stroke-width="0.8"/>
<circle cx="581.7" cy="535.6" r="1.5" fill="#e2553f"/>
<line x1="602.8" y1="529.4" x2="602.8" y2="528.4" stroke="#e2553f" stroke-width="0.8"/>
<line x1="601.5" y1="528.4" x2="604.1" y2="528.4" stroke="#e2553f" stroke-width="0.8"/>
<circle cx="602.8" cy="529.4" r="1.5" fill="#e2553f"/>
<line x1="623.9" y1="520.6" x2="623.9" y2="517.6" stroke="#e2553f" stroke-width="0.8"/>
<line x1="622.6" y1="517.6" x2="625.2" y2="517.6" stroke="#e2553f" stroke-width="0.8"/>
<circle cx="623.9" cy="520.6" r="1.5" fill="#e2553f"/>
<line x1="666.1" y1="500.6" x2="666.1" y2="497.6" stroke="#e2553f" stroke-width="0.8"/>
<line x1="664.8" y1="497.6" x2="667.4" y2="497.6" stroke="#e2553f" stroke-width="0.8"/>
<circle cx="666.1" cy="500.6" r="1.5" fill="#e2553f"/>
<line x1="539.6" y1="542.6" x2="539.6" y2="536.6" stroke="#3550c0" stroke-width="0.8"/>
<line x1="538.3" y1="536.6" x2="540.9" y2="536.6" stroke="#3550c0" stroke-width="0.8"/>
<rect x="538.25" y="541.25" width="2.7" height="2.7" fill="#3550c0"/>
<line x1="560.6" y1="542.8" x2="560.6" y2="541.8" stroke="#3550c0" stroke-width="0.8"/>
<line x1="559.3" y1="541.8" x2="561.9" y2="541.8" stroke="#3550c0" stroke-width="0.8"/>
<rect x="559.25" y="541.45" width="2.7" height="2.7" fill="#3550c0"/>
<line x1="581.7" y1="537.6" x2="581.7" y2="536.6" stroke="#3550c0" stroke-width="0.8"/>
<line x1="580.4" y1="536.6" x2="583" y2="536.6" stroke="#3550c0" stroke-width="0.8"/>
<rect x="580.35" y="536.25" width="2.7" height="2.7" fill="#3550c0"/>
<line x1="602.8" y1="536" x2="602.8" y2="535" stroke="#3550c0" stroke-width="0.8"/>
<line x1="601.5" y1="535" x2="604.1" y2="535" stroke="#3550c0" stroke-width="0.8"/>
<rect x="601.45" y="534.65" width="2.7" height="2.7" fill="#3550c0"/>
<line x1="623.9" y1="530.4" x2="623.9" y2="527.4" stroke="#3550c0" stroke-width="0.8"/>
<line x1="622.6" y1="527.4" x2="625.2" y2="527.4" stroke="#3550c0" stroke-width="0.8"/>
<rect x="622.55" y="529.05" width="2.7" height="2.7" fill="#3550c0"/>
<line x1="666.1" y1="511" x2="666.1" y2="506" stroke="#3550c0" stroke-width="0.8"/>
<line x1="664.8" y1="506" x2="667.4" y2="506" stroke="#3550c0" stroke-width="0.8"/>
<rect x="664.75" y="509.65" width="2.7" height="2.7" fill="#3550c0"/>
<line x1="671" y1="497.3" x2="671" y2="510.8" stroke="#333" stroke-width="1"/>
<line x1="668.8" y1="497.3" x2="673.2" y2="497.3" stroke="#333" stroke-width="1"/>
<line x1="668.8" y1="510.8" x2="673.2" y2="510.8" stroke="#333" stroke-width="1"/>
<text x="676.4" y="508.51" font-size="13" text-anchor="middle" fill="#231f20" stroke="#231f20">*</text>
<text x="676.4" y="513.11" font-size="13" text-anchor="middle" fill="#231f20" stroke="#231f20">*</text>
<line x1="62" y1="608.8" x2="121.6" y2="608.8" stroke="#231f20" stroke-width="1.1"/>
<line x1="162.4" y1="608.8" x2="222" y2="608.8" stroke="#231f20" stroke-width="1.1"/>
<text x="143.2" y="612.8" font-size="11.4" text-anchor="middle" fill="#231f20" stroke="#231f20">CNE1</text>
<line x1="285" y1="608.8" x2="344.6" y2="608.8" stroke="#231f20" stroke-width="1.1"/>
<line x1="386" y1="608.8" x2="445" y2="608.8" stroke="#231f20" stroke-width="1.1"/>
<text x="366" y="612.8" font-size="11.4" text-anchor="middle" fill="#231f20" stroke="#231f20">CNE2</text>
<line x1="511" y1="608.4" x2="569.6" y2="608.4" stroke="#231f20" stroke-width="1.1"/>
<line x1="611.4" y1="608.4" x2="670.4" y2="608.4" stroke="#231f20" stroke-width="1.1"/>
<text x="590.4" y="612.4" font-size="11.4" text-anchor="middle" fill="#231f20" stroke="#231f20">C666-1</text>
<line x1="154.9" y1="627.4" x2="169.7" y2="627.4" stroke="#e05545" stroke-width="1"/>
<circle cx="162.3" cy="627.4" r="2.2" fill="#e05545"/>
<text x="173.7" y="630.6" font-size="11.55" text-anchor="start" fill="#231f20" stroke="#231f20">Vector</text>
<line x1="243.7" y1="624.8" x2="257.5" y2="624.8" stroke="#3a48a8" stroke-width="1"/>
<rect x="248.62" y="622.82" width="3.96" height="3.96" fill="#3a48a8"/>
<text x="260" y="628" font-size="11.55" text-anchor="start" fill="#231f20" stroke="#231f20">shLINC-AC092535.5</text>
<line x1="398.8" y1="622.6" x2="412" y2="622.6" stroke="#6fd39c" stroke-width="1"/>
<polygon points="402.98,624.29 407.82,624.29 405.4,620.42" fill="#6fd39c"/>
<text x="416" y="625.8" font-size="11.55" text-anchor="start" fill="#231f20" stroke="#231f20">oeMICAL2</text>
<line x1="494" y1="622" x2="507.6" y2="622" stroke="#f0a030" stroke-width="1"/>
<polygon points="498.38,620.31 503.22,620.31 500.8,624.18" fill="#f0a030"/>
<text x="509.6" y="625.2" font-size="11.55" text-anchor="start" fill="#231f20" stroke="#231f20">shLINC-AC092535.5+oeMICAL2</text>
<text transform="translate(31.4,713.6) rotate(-90)" font-size="11.6" text-anchor="middle" fill="#231f20" stroke="#231f20">Relative Lipid ROS(%)</text>
<text transform="translate(252,713.6) rotate(-90)" font-size="11.6" text-anchor="middle" fill="#231f20" stroke="#231f20">Relative Lipid ROS(%)</text>
<text transform="translate(477.5,715) rotate(-90)" font-size="11.6" text-anchor="middle" fill="#231f20" stroke="#231f20">Relative Lipid ROS(%)</text>
<line x1="62.8" y1="655.7" x2="62.8" y2="770.4" stroke="#231f20" stroke-width="1.3"/>
<line x1="58.5" y1="769.9" x2="62.8" y2="769.9" stroke="#231f20" stroke-width="1.3"/>
<text x="56.3" y="774.5" font-size="10.9" text-anchor="end" fill="#231f20" stroke="#231f20">0</text>
<line x1="58.5" y1="747.16" x2="62.8" y2="747.16" stroke="#231f20" stroke-width="1.3"/>
<text x="56.3" y="751.76" font-size="10.9" text-anchor="end" fill="#231f20" stroke="#231f20">20</text>
<line x1="58.5" y1="724.42" x2="62.8" y2="724.42" stroke="#231f20" stroke-width="1.3"/>
<text x="56.3" y="729.02" font-size="10.9" text-anchor="end" fill="#231f20" stroke="#231f20">40</text>
<line x1="58.5" y1="701.68" x2="62.8" y2="701.68" stroke="#231f20" stroke-width="1.3"/>
<text x="56.3" y="706.28" font-size="10.9" text-anchor="end" fill="#231f20" stroke="#231f20">60</text>
<line x1="58.5" y1="678.94" x2="62.8" y2="678.94" stroke="#231f20" stroke-width="1.3"/>
<text x="56.3" y="683.54" font-size="10.9" text-anchor="end" fill="#231f20" stroke="#231f20">80</text>
<line x1="58.5" y1="656.2" x2="62.8" y2="656.2" stroke="#231f20" stroke-width="1.3"/>
<text x="56.3" y="660.8" font-size="10.9" text-anchor="end" fill="#231f20" stroke="#231f20">100</text>
<line x1="62.8" y1="769.9" x2="233" y2="769.9" stroke="#231f20" stroke-width="1.3"/>
<line x1="75.6" y1="769.9" x2="75.6" y2="774.1" stroke="#231f20" stroke-width="1"/>
<rect x="64.7" y="761.94" width="3.5" height="7.96" fill="#fff" stroke="#f36b2c" stroke-width="0.9"/>
<circle cx="66.45" cy="762.74" r="1.7" fill="#f36b2c"/>
<rect x="71" y="736.93" width="3.5" height="32.97" fill="#fff" stroke="#2f3a8c" stroke-width="0.9"/>
<rect x="71.22" y="736.2" width="3.06" height="3.06" fill="#2f3a8c"/>
<rect x="77.3" y="765.35" width="3.5" height="4.55" fill="#fff" stroke="#4fd38a" stroke-width="0.9"/>
<polygon points="77.18,767.46 80.92,767.46 79.05,764.47" fill="#4fd38a"/>
<rect x="83.6" y="757.96" width="3.5" height="11.94" fill="#fff" stroke="#c3d63e" stroke-width="0.9"/>
<polygon points="83.48,757.45 87.22,757.45 85.35,760.44" fill="#c3d63e"/>
<line x1="104.2" y1="769.9" x2="104.2" y2="774.1" stroke="#231f20" stroke-width="1"/>
<rect x="93.3" y="731.24" width="3.5" height="38.66" fill="#fff" stroke="#f36b2c" stroke-width="0.9"/>
<circle cx="95.05" cy="732.04" r="1.7" fill="#f36b2c"/>
<rect x="99.6" y="685.76" width="3.5" height="84.14" fill="#fff" stroke="#2f3a8c" stroke-width="0.9"/>
<rect x="99.82" y="685.03" width="3.06" height="3.06" fill="#2f3a8c"/>
<rect x="105.9" y="757.73" width="3.5" height="12.17" fill="#fff" stroke="#4fd38a" stroke-width="0.9"/>
<polygon points="105.78,759.84 109.52,759.84 107.65,756.85" fill="#4fd38a"/>
<rect x="112.2" y="738.75" width="3.5" height="31.15" fill="#fff" stroke="#c3d63e" stroke-width="0.9"/>
<polygon points="112.08,738.24 115.82,738.24 113.95,741.23" fill="#c3d63e"/>
<line x1="132.8" y1="769.9" x2="132.8" y2="774.1" stroke="#231f20" stroke-width="1"/>
<rect x="121.9" y="673.25" width="3.5" height="96.64" fill="#fff" stroke="#f36b2c" stroke-width="0.9"/>
<line x1="123.65" y1="675.76" x2="123.65" y2="670.75" stroke="#f36b2c" stroke-width="0.9"/>
<line x1="122.25" y1="670.75" x2="125.05" y2="670.75" stroke="#f36b2c" stroke-width="0.9"/>
<line x1="122.25" y1="675.76" x2="125.05" y2="675.76" stroke="#f36b2c" stroke-width="0.9"/>
<circle cx="123.65" cy="671.75" r="1.5" fill="#f36b2c"/>
<circle cx="123.65" cy="674.51" r="1.5" fill="#f36b2c"/>
<circle cx="123.65" cy="674.05" r="1.7" fill="#f36b2c"/>
<rect x="128.2" y="659.61" width="3.5" height="110.29" fill="#fff" stroke="#2f3a8c" stroke-width="0.9"/>
<rect x="128.42" y="658.88" width="3.06" height="3.06" fill="#2f3a8c"/>
<rect x="134.5" y="747.16" width="3.5" height="22.74" fill="#fff" stroke="#4fd38a" stroke-width="0.9"/>
<polygon points="134.38,749.27 138.12,749.27 136.25,746.28" fill="#4fd38a"/>
<rect x="140.8" y="708.5" width="3.5" height="61.4" fill="#fff" stroke="#c3d63e" stroke-width="0.9"/>
<polygon points="140.68,707.99 144.42,707.99 142.55,710.98" fill="#c3d63e"/>
<line x1="161.4" y1="769.9" x2="161.4" y2="774.1" stroke="#231f20" stroke-width="1"/>
<rect x="150.5" y="764.22" width="3.5" height="5.68" fill="#fff" stroke="#f36b2c" stroke-width="0.9"/>
<circle cx="152.25" cy="765.01" r="1.7" fill="#f36b2c"/>
<rect x="156.8" y="751.71" width="3.5" height="18.19" fill="#fff" stroke="#2f3a8c" stroke-width="0.9"/>
<rect x="157.02" y="750.98" width="3.06" height="3.06" fill="#2f3a8c"/>
<rect x="163.1" y="767.63" width="3.5" height="2.27" fill="#fff" stroke="#4fd38a" stroke-width="0.9"/>
<polygon points="162.98,769.73 166.72,769.73 164.85,766.74" fill="#4fd38a"/>
<rect x="169.4" y="760.8" width="3.5" height="9.1" fill="#fff" stroke="#c3d63e" stroke-width="0.9"/>
<polygon points="169.28,760.29 173.02,760.29 171.15,763.29" fill="#c3d63e"/>
<line x1="190" y1="769.9" x2="190" y2="774.1" stroke="#231f20" stroke-width="1"/>
<rect x="179.1" y="756.26" width="3.5" height="13.64" fill="#fff" stroke="#f36b2c" stroke-width="0.9"/>
<circle cx="180.85" cy="757.06" r="1.7" fill="#f36b2c"/>
<rect x="185.4" y="747.16" width="3.5" height="22.74" fill="#fff" stroke="#2f3a8c" stroke-width="0.9"/>
<rect x="185.62" y="746.43" width="3.06" height="3.06" fill="#2f3a8c"/>
<rect x="191.7" y="758.53" width="3.5" height="11.37" fill="#fff" stroke="#4fd38a" stroke-width="0.9"/>
<polygon points="191.58,760.64 195.32,760.64 193.45,757.65" fill="#4fd38a"/>
<rect x="198" y="757.39" width="3.5" height="12.51" fill="#fff" stroke="#c3d63e" stroke-width="0.9"/>
<polygon points="197.88,756.88 201.62,756.88 199.75,759.88" fill="#c3d63e"/>
<line x1="218.6" y1="769.9" x2="218.6" y2="774.1" stroke="#231f20" stroke-width="1"/>
<rect x="207.7" y="746.02" width="3.5" height="23.88" fill="#fff" stroke="#f36b2c" stroke-width="0.9"/>
<circle cx="209.45" cy="746.82" r="1.7" fill="#f36b2c"/>
<rect x="214" y="740.34" width="3.5" height="29.56" fill="#fff" stroke="#2f3a8c" stroke-width="0.9"/>
<rect x="214.22" y="739.61" width="3.06" height="3.06" fill="#2f3a8c"/>
<rect x="220.3" y="753.98" width="3.5" height="15.92" fill="#fff" stroke="#4fd38a" stroke-width="0.9"/>
<polygon points="220.18,756.09 223.92,756.09 222.05,753.1" fill="#4fd38a"/>
<rect x="226.6" y="748.3" width="3.5" height="21.6" fill="#fff" stroke="#c3d63e" stroke-width="0.9"/>
<polygon points="226.48,747.79 230.22,747.79 228.35,750.78" fill="#c3d63e"/>
<line x1="66.6" y1="727.4" x2="73.1" y2="727.4" stroke="#231f20" stroke-width="0.95"/>
<line x1="66.6" y1="724.2" x2="66.6" y2="730.6" stroke="#231f20" stroke-width="0.95"/>
<line x1="73.1" y1="724.2" x2="73.1" y2="730.6" stroke="#231f20" stroke-width="0.95"/>
<polygon points="66.75,720 67.31,721.34 68.75,721.45 67.65,722.39 67.98,723.8 66.75,723.05 65.52,723.8 65.85,722.39 64.75,721.45 66.19,721.34" fill="#231f20"/>
<polygon points="71.25,720 71.81,721.34 73.25,721.45 72.15,722.39 72.48,723.8 71.25,723.05 70.02,723.8 70.35,722.39 69.25,721.45 70.69,721.34" fill="#231f20"/>
<polygon points="75.75,720 76.31,721.34 77.75,721.45 76.65,722.39 76.98,723.8 75.75,723.05 74.52,723.8 74.85,722.39 73.75,721.45 75.19,721.34" fill="#231f20"/>
<polygon points="80.25,720 80.81,721.34 82.25,721.45 81.15,722.39 81.48,723.8 80.25,723.05 79.02,723.8 79.35,722.39 78.25,721.45 79.69,721.34" fill="#231f20"/>
<line x1="66.6" y1="712" x2="79.7" y2="712" stroke="#231f20" stroke-width="0.95"/>
<line x1="66.6" y1="708.8" x2="66.6" y2="715.2" stroke="#231f20" stroke-width="0.95"/>
<line x1="79.7" y1="708.8" x2="79.7" y2="715.2" stroke="#231f20" stroke-width="0.95"/>
<polygon points="66.35,702.9 66.91,704.24 68.35,704.35 67.25,705.29 67.58,706.7 66.35,705.95 65.12,706.7 65.45,705.29 64.35,704.35 65.79,704.24" fill="#231f20"/>
<polygon points="70.85,702.9 71.41,704.24 72.85,704.35 71.75,705.29 72.08,706.7 70.85,705.95 69.62,706.7 69.95,705.29 68.85,704.35 70.29,704.24" fill="#231f20"/>
<polygon points="75.35,702.9 75.91,704.24 77.35,704.35 76.25,705.29 76.58,706.7 75.35,705.95 74.12,706.7 74.45,705.29 73.35,704.35 74.79,704.24" fill="#231f20"/>
<polygon points="79.85,702.9 80.41,704.24 81.85,704.35 80.75,705.29 81.08,706.7 79.85,705.95 78.62,706.7 78.95,705.29 77.85,704.35 79.29,704.24" fill="#231f20"/>
<line x1="77.7" y1="699.8" x2="85.6" y2="699.8" stroke="#231f20" stroke-width="0.95"/>
<line x1="77.7" y1="696.6" x2="77.7" y2="703" stroke="#231f20" stroke-width="0.95"/>
<line x1="85.6" y1="696.6" x2="85.6" y2="703" stroke="#231f20" stroke-width="0.95"/>
<polygon points="70.75,691.1 71.31,692.44 72.75,692.55 71.65,693.49 71.98,694.9 70.75,694.15 69.52,694.9 69.85,693.49 68.75,692.55 70.19,692.44" fill="#231f20"/>
<polygon points="75.25,691.1 75.81,692.44 77.25,692.55 76.15,693.49 76.48,694.9 75.25,694.15 74.02,694.9 74.35,693.49 73.25,692.55 74.69,692.44" fill="#231f20"/>
<polygon points="79.75,691.1 80.31,692.44 81.75,692.55 80.65,693.49 80.98,694.9 79.75,694.15 78.52,694.9 78.85,693.49 77.75,692.55 79.19,692.44" fill="#231f20"/>
<polygon points="84.25,691.1 84.81,692.44 86.25,692.55 85.15,693.49 85.48,694.9 84.25,694.15 83.02,694.9 83.35,693.49 82.25,692.55 83.69,692.44" fill="#231f20"/>
<line x1="94.4" y1="679.2" x2="101.8" y2="679.2" stroke="#231f20" stroke-width="0.95"/>
<line x1="94.4" y1="676" x2="94.4" y2="682.4" stroke="#231f20" stroke-width="0.95"/>
<line x1="101.8" y1="676" x2="101.8" y2="682.4" stroke="#231f20" stroke-width="0.95"/>
<polygon points="95.05,670.8 95.61,672.14 97.05,672.25 95.95,673.19 96.28,674.6 95.05,673.85 93.82,674.6 94.15,673.19 93.05,672.25 94.49,672.14" fill="#231f20"/>
<polygon points="99.55,670.8 100.11,672.14 101.55,672.25 100.45,673.19 100.78,674.6 99.55,673.85 98.32,674.6 98.65,673.19 97.55,672.25 98.99,672.14" fill="#231f20"/>
<polygon points="104.05,670.8 104.61,672.14 106.05,672.25 104.95,673.19 105.28,674.6 104.05,673.85 102.82,674.6 103.15,673.19 102.05,672.25 103.49,672.14" fill="#231f20"/>
<polygon points="108.55,670.8 109.11,672.14 110.55,672.25 109.45,673.19 109.78,674.6 108.55,673.85 107.32,674.6 107.65,673.19 106.55,672.25 107.99,672.14" fill="#231f20"/>
<line x1="94.4" y1="666.3" x2="106.6" y2="666.3" stroke="#231f20" stroke-width="0.95"/>
<line x1="94.4" y1="663.1" x2="94.4" y2="669.5" stroke="#231f20" stroke-width="0.95"/>
<line x1="106.6" y1="663.1" x2="106.6" y2="669.5" stroke="#231f20" stroke-width="0.95"/>
<polygon points="93.25,657.3 93.81,658.64 95.25,658.75 94.15,659.69 94.48,661.1 93.25,660.35 92.02,661.1 92.35,659.69 91.25,658.75 92.69,658.64" fill="#231f20"/>
<polygon points="97.75,657.3 98.31,658.64 99.75,658.75 98.65,659.69 98.98,661.1 97.75,660.35 96.52,661.1 96.85,659.69 95.75,658.75 97.19,658.64" fill="#231f20"/>
<polygon points="102.25,657.3 102.81,658.64 104.25,658.75 103.15,659.69 103.48,661.1 102.25,660.35 101.02,661.1 101.35,659.69 100.25,658.75 101.69,658.64" fill="#231f20"/>
<polygon points="106.75,657.3 107.31,658.64 108.75,658.75 107.65,659.69 107.98,661.1 106.75,660.35 105.52,661.1 105.85,659.69 104.75,658.75 106.19,658.64" fill="#231f20"/>
<line x1="107.5" y1="733.3" x2="114" y2="733.3" stroke="#231f20" stroke-width="0.95"/>
<line x1="107.5" y1="730.1" x2="107.5" y2="736.5" stroke="#231f20" stroke-width="0.95"/>
<line x1="114" y1="730.1" x2="114" y2="736.5" stroke="#231f20" stroke-width="0.95"/>
<polygon points="105.85,724.9 106.41,726.24 107.85,726.35 106.75,727.29 107.08,728.7 105.85,727.95 104.62,728.7 104.95,727.29 103.85,726.35 105.29,726.24" fill="#231f20"/>
<polygon points="110.35,724.9 110.91,726.24 112.35,726.35 111.25,727.29 111.58,728.7 110.35,727.95 109.12,728.7 109.45,727.29 108.35,726.35 109.79,726.24" fill="#231f20"/>
<polygon points="114.85,724.9 115.41,726.24 116.85,726.35 115.75,727.29 116.08,728.7 114.85,727.95 113.62,728.7 113.95,727.29 112.85,726.35 114.29,726.24" fill="#231f20"/>
<polygon points="119.35,724.9 119.91,726.24 121.35,726.35 120.25,727.29 120.58,728.7 119.35,727.95 118.12,728.7 118.45,727.29 117.35,726.35 118.79,726.24" fill="#231f20"/>
<line x1="122.9" y1="653.5" x2="129.9" y2="653.5" stroke="#231f20" stroke-width="0.95"/>
<line x1="122.9" y1="650.3" x2="122.9" y2="656.7" stroke="#231f20" stroke-width="0.95"/>
<line x1="129.9" y1="650.3" x2="129.9" y2="656.7" stroke="#231f20" stroke-width="0.95"/>
<polygon points="121,645.2 121.56,646.54 123,646.65 121.9,647.59 122.23,649 121,648.25 119.77,649 120.1,647.59 119,646.65 120.44,646.54" fill="#231f20"/>
<polygon points="125.5,645.2 126.06,646.54 127.5,646.65 126.4,647.59 126.73,649 125.5,648.25 124.27,649 124.6,647.59 123.5,646.65 124.94,646.54" fill="#231f20"/>
<polygon points="130,645.2 130.56,646.54 132,646.65 130.9,647.59 131.23,649 130,648.25 128.77,649 129.1,647.59 128,646.65 129.44,646.54" fill="#231f20"/>
<line x1="122.4" y1="640.4" x2="134.7" y2="640.4" stroke="#231f20" stroke-width="0.95"/>
<line x1="122.4" y1="637.2" x2="122.4" y2="643.6" stroke="#231f20" stroke-width="0.95"/>
<line x1="134.7" y1="637.2" x2="134.7" y2="643.6" stroke="#231f20" stroke-width="0.95"/>
<polygon points="121.75,631.7 122.31,633.04 123.75,633.15 122.65,634.09 122.98,635.5 121.75,634.75 120.52,635.5 120.85,634.09 119.75,633.15 121.19,633.04" fill="#231f20"/>
<polygon points="126.25,631.7 126.81,633.04 128.25,633.15 127.15,634.09 127.48,635.5 126.25,634.75 125.02,635.5 125.35,634.09 124.25,633.15 125.69,633.04" fill="#231f20"/>
<polygon points="130.75,631.7 131.31,633.04 132.75,633.15 131.65,634.09 131.98,635.5 130.75,634.75 129.52,635.5 129.85,634.09 128.75,633.15 130.19,633.04" fill="#231f20"/>
<polygon points="135.25,631.7 135.81,633.04 137.25,633.15 136.15,634.09 136.48,635.5 135.25,634.75 134.02,635.5 134.35,634.09 133.25,633.15 134.69,633.04" fill="#231f20"/>
<line x1="135.5" y1="701.5" x2="143" y2="701.5" stroke="#231f20" stroke-width="0.95"/>
<line x1="135.5" y1="698.3" x2="135.5" y2="704.7" stroke="#231f20" stroke-width="0.95"/>
<line x1="143" y1="698.3" x2="143" y2="704.7" stroke="#231f20" stroke-width="0.95"/>
<polygon points="133.9,692.5 134.46,693.84 135.9,693.95 134.8,694.89 135.13,696.3 133.9,695.55 132.67,696.3 133,694.89 131.9,693.95 133.34,693.84" fill="#231f20"/>
<polygon points="138.4,692.5 138.96,693.84 140.4,693.95 139.3,694.89 139.63,696.3 138.4,695.55 137.17,696.3 137.5,694.89 136.4,693.95 137.84,693.84" fill="#231f20"/>
<polygon points="142.9,692.5 143.46,693.84 144.9,693.95 143.8,694.89 144.13,696.3 142.9,695.55 141.67,696.3 142,694.89 140.9,693.95 142.34,693.84" fill="#231f20"/>
<line x1="152.4" y1="745.4" x2="159.4" y2="745.4" stroke="#231f20" stroke-width="0.95"/>
<line x1="152.4" y1="742.2" x2="152.4" y2="748.6" stroke="#231f20" stroke-width="0.95"/>
<line x1="159.4" y1="742.2" x2="159.4" y2="748.6" stroke="#231f20" stroke-width="0.95"/>
<polygon points="153.35,737.1 153.91,738.44 155.35,738.55 154.25,739.49 154.58,740.9 153.35,740.15 152.12,740.9 152.45,739.49 151.35,738.55 152.79,738.44" fill="#231f20"/>
<polygon points="157.85,737.1 158.41,738.44 159.85,738.55 158.75,739.49 159.08,740.9 157.85,740.15 156.62,740.9 156.95,739.49 155.85,738.55 157.29,738.44" fill="#231f20"/>
<polygon points="162.35,737.1 162.91,738.44 164.35,738.55 163.25,739.49 163.58,740.9 162.35,740.15 161.12,740.9 161.45,739.49 160.35,738.55 161.79,738.44" fill="#231f20"/>
<polygon points="166.85,737.1 167.41,738.44 168.85,738.55 167.75,739.49 168.08,740.9 166.85,740.15 165.62,740.9 165.95,739.49 164.85,738.55 166.29,738.44" fill="#231f20"/>
<line x1="152.4" y1="732.8" x2="164.3" y2="732.8" stroke="#231f20" stroke-width="0.95"/>
<line x1="152.4" y1="729.6" x2="152.4" y2="736" stroke="#231f20" stroke-width="0.95"/>
<line x1="164.3" y1="729.6" x2="164.3" y2="736" stroke="#231f20" stroke-width="0.95"/>
<polygon points="155.75,724.2 156.31,725.54 157.75,725.65 156.65,726.59 156.98,728 155.75,727.25 154.52,728 154.85,726.59 153.75,725.65 155.19,725.54" fill="#231f20"/>
<polygon points="160.25,724.2 160.81,725.54 162.25,725.65 161.15,726.59 161.48,728 160.25,727.25 159.02,728 159.35,726.59 158.25,725.65 159.69,725.54" fill="#231f20"/>
<line x1="164.3" y1="721.5" x2="171.3" y2="721.5" stroke="#231f20" stroke-width="0.95"/>
<line x1="164.3" y1="718.3" x2="164.3" y2="724.7" stroke="#231f20" stroke-width="0.95"/>
<line x1="171.3" y1="718.3" x2="171.3" y2="724.7" stroke="#231f20" stroke-width="0.95"/>
<polygon points="160.55,713.2 161.11,714.54 162.55,714.65 161.45,715.59 161.78,717 160.55,716.25 159.32,717 159.65,715.59 158.55,714.65 159.99,714.54" fill="#231f20"/>
<polygon points="165.05,713.2 165.61,714.54 167.05,714.65 165.95,715.59 166.28,717 165.05,716.25 163.82,717 164.15,715.59 163.05,714.65 164.49,714.54" fill="#231f20"/>
<polygon points="169.55,713.2 170.11,714.54 171.55,714.65 170.45,715.59 170.78,717 169.55,716.25 168.32,717 168.65,715.59 167.55,714.65 168.99,714.54" fill="#231f20"/>
<polygon points="174.05,713.2 174.61,714.54 176.05,714.65 174.95,715.59 175.28,717 174.05,716.25 172.82,717 173.15,715.59 172.05,714.65 173.49,714.54" fill="#231f20"/>
<text x="76.6" y="786.49" font-size="11.44" text-anchor="middle" fill="#231f20" stroke="#231f20">+</text>
<line x1="103.4" y1="782.5" x2="107.2" y2="782.5" stroke="#231f20" stroke-width="1"/>
<line x1="132" y1="782.5" x2="135.8" y2="782.5" stroke="#231f20" stroke-width="1"/>
<line x1="160.6" y1="782.5" x2="164.4" y2="782.5" stroke="#231f20" stroke-width="1"/>
<line x1="189.2" y1="782.5" x2="193" y2="782.5" stroke="#231f20" stroke-width="1"/>
<line x1="217.8" y1="782.5" x2="221.6" y2="782.5" stroke="#231f20" stroke-width="1"/>
<line x1="74.8" y1="794.5" x2="78.6" y2="794.5" stroke="#231f20" stroke-width="1"/>
<text x="105.2" y="798.49" font-size="11.44" text-anchor="middle" fill="#231f20" stroke="#231f20">+</text>
<line x1="132" y1="794.5" x2="135.8" y2="794.5" stroke="#231f20" stroke-width="1"/>
<line x1="160.6" y1="794.5" x2="164.4" y2="794.5" stroke="#231f20" stroke-width="1"/>
<text x="191" y="798.49" font-size="11.44" text-anchor="middle" fill="#231f20" stroke="#231f20">+</text>
<line x1="217.8" y1="794.5" x2="221.6" y2="794.5" stroke="#231f20" stroke-width="1"/>
<line x1="74.8" y1="806.5" x2="78.6" y2="806.5" stroke="#231f20" stroke-width="1"/>
<line x1="103.4" y1="806.5" x2="107.2" y2="806.5" stroke="#231f20" stroke-width="1"/>
<text x="133.8" y="810.69" font-size="11.44" text-anchor="middle" fill="#231f20" stroke="#231f20">+</text>
<line x1="160.6" y1="806.5" x2="164.4" y2="806.5" stroke="#231f20" stroke-width="1"/>
<line x1="189.2" y1="806.5" x2="193" y2="806.5" stroke="#231f20" stroke-width="1"/>
<text x="219.6" y="810.69" font-size="11.44" text-anchor="middle" fill="#231f20" stroke="#231f20">+</text>
<line x1="74.8" y1="818.5" x2="78.6" y2="818.5" stroke="#231f20" stroke-width="1"/>
<line x1="103.4" y1="818.5" x2="107.2" y2="818.5" stroke="#231f20" stroke-width="1"/>
<line x1="132" y1="818.5" x2="135.8" y2="818.5" stroke="#231f20" stroke-width="1"/>
<text x="162.4" y="822.29" font-size="11.44" text-anchor="middle" fill="#231f20" stroke="#231f20">+</text>
<text x="191" y="822.29" font-size="11.44" text-anchor="middle" fill="#231f20" stroke="#231f20">+</text>
<text x="219.6" y="822.29" font-size="11.44" text-anchor="middle" fill="#231f20" stroke="#231f20">+</text>
<text x="57.6" y="786.3" font-size="11.4" text-anchor="end" fill="#231f20" stroke="#231f20">DMSO</text>
<text x="57.6" y="797.9" font-size="11.4" text-anchor="end" fill="#231f20" stroke="#231f20">Erastin</text>
<text x="57.6" y="809.8" font-size="11.4" text-anchor="end" fill="#231f20" stroke="#231f20">Sorafenib</text>
<text x="57.6" y="821.1" font-size="11.4" text-anchor="end" fill="#231f20" stroke="#231f20">Fer-1</text>
<line x1="284.2" y1="655.2" x2="284.2" y2="770" stroke="#231f20" stroke-width="1.3"/>
<line x1="279.6" y1="769.5" x2="284.2" y2="769.5" stroke="#231f20" stroke-width="1.3"/>
<text x="275.3" y="774.1" font-size="10.9" text-anchor="end" fill="#231f20" stroke="#231f20">0</text>
<line x1="279.6" y1="746.74" x2="284.2" y2="746.74" stroke="#231f20" stroke-width="1.3"/>
<text x="275.3" y="751.34" font-size="10.9" text-anchor="end" fill="#231f20" stroke="#231f20">20</text>
<line x1="279.6" y1="723.98" x2="284.2" y2="723.98" stroke="#231f20" stroke-width="1.3"/>
<text x="275.3" y="728.58" font-size="10.9" text-anchor="end" fill="#231f20" stroke="#231f20">40</text>
<line x1="279.6" y1="701.22" x2="284.2" y2="701.22" stroke="#231f20" stroke-width="1.3"/>
<text x="275.3" y="705.82" font-size="10.9" text-anchor="end" fill="#231f20" stroke="#231f20">60</text>
<line x1="279.6" y1="678.46" x2="284.2" y2="678.46" stroke="#231f20" stroke-width="1.3"/>
<text x="275.3" y="683.06" font-size="10.9" text-anchor="end" fill="#231f20" stroke="#231f20">80</text>
<line x1="279.6" y1="655.7" x2="284.2" y2="655.7" stroke="#231f20" stroke-width="1.3"/>
<text x="275.3" y="660.3" font-size="10.9" text-anchor="end" fill="#231f20" stroke="#231f20">100</text>
<line x1="284.2" y1="769.5" x2="456" y2="769.5" stroke="#231f20" stroke-width="1.3"/>
<line x1="297.1" y1="769.5" x2="297.1" y2="773.7" stroke="#231f20" stroke-width="1"/>
<rect x="286.2" y="761.53" width="3.5" height="7.97" fill="#fff" stroke="#f36b2c" stroke-width="0.9"/>
<circle cx="287.95" cy="762.33" r="1.7" fill="#f36b2c"/>
<rect x="292.5" y="738.77" width="3.5" height="30.73" fill="#fff" stroke="#2f3a8c" stroke-width="0.9"/>
<rect x="292.72" y="738.04" width="3.06" height="3.06" fill="#2f3a8c"/>
<rect x="298.8" y="767.22" width="3.5" height="2.28" fill="#fff" stroke="#4fd38a" stroke-width="0.9"/>
<polygon points="298.68,769.33 302.42,769.33 300.55,766.34" fill="#4fd38a"/>
<rect x="305.1" y="759.26" width="3.5" height="10.24" fill="#fff" stroke="#c3d63e" stroke-width="0.9"/>
<polygon points="304.98,758.75 308.72,758.75 306.85,761.74" fill="#c3d63e"/>
<line x1="326" y1="769.5" x2="326" y2="773.7" stroke="#231f20" stroke-width="1"/>
<rect x="315.1" y="734.22" width="3.5" height="35.28" fill="#fff" stroke="#f36b2c" stroke-width="0.9"/>
<circle cx="316.85" cy="735.02" r="1.7" fill="#f36b2c"/>
<rect x="321.4" y="712.6" width="3.5" height="56.9" fill="#fff" stroke="#2f3a8c" stroke-width="0.9"/>
<rect x="321.62" y="711.87" width="3.06" height="3.06" fill="#2f3a8c"/>
<rect x="327.7" y="744.46" width="3.5" height="25.04" fill="#fff" stroke="#4fd38a" stroke-width="0.9"/>
<polygon points="327.58,746.57 331.32,746.57 329.45,743.58" fill="#4fd38a"/>
<rect x="334" y="738.77" width="3.5" height="30.73" fill="#fff" stroke="#c3d63e" stroke-width="0.9"/>
<polygon points="333.88,738.26 337.62,738.26 335.75,741.26" fill="#c3d63e"/>
<line x1="354.9" y1="769.5" x2="354.9" y2="773.7" stroke="#231f20" stroke-width="1"/>
<rect x="344" y="671.63" width="3.5" height="97.87" fill="#fff" stroke="#f36b2c" stroke-width="0.9"/>
<line x1="345.75" y1="673.45" x2="345.75" y2="669.81" stroke="#f36b2c" stroke-width="0.9"/>
<line x1="344.35" y1="669.81" x2="347.15" y2="669.81" stroke="#f36b2c" stroke-width="0.9"/>
<line x1="344.35" y1="673.45" x2="347.15" y2="673.45" stroke="#f36b2c" stroke-width="0.9"/>
<circle cx="345.75" cy="670.54" r="1.5" fill="#f36b2c"/>
<circle cx="345.75" cy="672.54" r="1.5" fill="#f36b2c"/>
<circle cx="345.75" cy="672.43" r="1.7" fill="#f36b2c"/>
<rect x="350.3" y="661.62" width="3.5" height="107.88" fill="#fff" stroke="#2f3a8c" stroke-width="0.9"/>
<rect x="350.52" y="660.89" width="3.06" height="3.06" fill="#2f3a8c"/>
<rect x="356.6" y="709.19" width="3.5" height="60.31" fill="#fff" stroke="#4fd38a" stroke-width="0.9"/>
<polygon points="356.48,711.29 360.22,711.29 358.35,708.3" fill="#4fd38a"/>
<rect x="362.9" y="683.01" width="3.5" height="86.49" fill="#fff" stroke="#c3d63e" stroke-width="0.9"/>
<line x1="364.65" y1="690.41" x2="364.65" y2="675.62" stroke="#c3d63e" stroke-width="0.9"/>
<line x1="363.25" y1="675.62" x2="366.05" y2="675.62" stroke="#c3d63e" stroke-width="0.9"/>
<line x1="363.25" y1="690.41" x2="366.05" y2="690.41" stroke="#c3d63e" stroke-width="0.9"/>
<polygon points="363,677.42 366.3,677.42 364.65,680.06" fill="#c3d63e"/>
<polygon points="363,685.56 366.3,685.56 364.65,688.2" fill="#c3d63e"/>
<polygon points="362.78,682.5 366.52,682.5 364.65,685.5" fill="#c3d63e"/>
<line x1="383.8" y1="769.5" x2="383.8" y2="773.7" stroke="#231f20" stroke-width="1"/>
<rect x="372.9" y="764.72" width="3.5" height="4.78" fill="#fff" stroke="#f36b2c" stroke-width="0.9"/>
<circle cx="374.65" cy="765.52" r="1.7" fill="#f36b2c"/>
<rect x="379.2" y="750.15" width="3.5" height="19.35" fill="#fff" stroke="#2f3a8c" stroke-width="0.9"/>
<rect x="379.42" y="749.42" width="3.06" height="3.06" fill="#2f3a8c"/>
<rect x="385.5" y="768.13" width="3.5" height="1.37" fill="#fff" stroke="#4fd38a" stroke-width="0.9"/>
<polygon points="385.38,770.24 389.12,770.24 387.25,767.25" fill="#4fd38a"/>
<rect x="391.8" y="760.62" width="3.5" height="8.88" fill="#fff" stroke="#c3d63e" stroke-width="0.9"/>
<polygon points="391.68,760.11 395.42,760.11 393.55,763.11" fill="#c3d63e"/>
<line x1="412.7" y1="769.5" x2="412.7" y2="773.7" stroke="#231f20" stroke-width="1"/>
<rect x="401.8" y="750.95" width="3.5" height="18.55" fill="#fff" stroke="#f36b2c" stroke-width="0.9"/>
<circle cx="403.55" cy="751.75" r="1.7" fill="#f36b2c"/>
<rect x="408.1" y="746.06" width="3.5" height="23.44" fill="#fff" stroke="#2f3a8c" stroke-width="0.9"/>
<rect x="408.32" y="745.33" width="3.06" height="3.06" fill="#2f3a8c"/>
<rect x="414.4" y="758.12" width="3.5" height="11.38" fill="#fff" stroke="#4fd38a" stroke-width="0.9"/>
<polygon points="414.28,760.23 418.02,760.23 416.15,757.24" fill="#4fd38a"/>
<rect x="420.7" y="752.77" width="3.5" height="16.73" fill="#fff" stroke="#c3d63e" stroke-width="0.9"/>
<polygon points="420.58,752.26 424.32,752.26 422.45,755.25" fill="#c3d63e"/>
<line x1="441.6" y1="769.5" x2="441.6" y2="773.7" stroke="#231f20" stroke-width="1"/>
<rect x="430.7" y="742.19" width="3.5" height="27.31" fill="#fff" stroke="#f36b2c" stroke-width="0.9"/>
<circle cx="432.45" cy="742.99" r="1.7" fill="#f36b2c"/>
<rect x="437" y="710.32" width="3.5" height="59.18" fill="#fff" stroke="#2f3a8c" stroke-width="0.9"/>
<rect x="437.22" y="709.59" width="3.06" height="3.06" fill="#2f3a8c"/>
<rect x="443.3" y="731.95" width="3.5" height="37.55" fill="#fff" stroke="#4fd38a" stroke-width="0.9"/>
<polygon points="443.18,734.05 446.92,734.05 445.05,731.06" fill="#4fd38a"/>
<rect x="449.6" y="746.74" width="3.5" height="22.76" fill="#fff" stroke="#c3d63e" stroke-width="0.9"/>
<polygon points="449.48,746.23 453.22,746.23 451.35,749.22" fill="#c3d63e"/>
<line x1="288" y1="732" x2="294.4" y2="732" stroke="#231f20" stroke-width="0.95"/>
<line x1="288" y1="728.8" x2="288" y2="735.2" stroke="#231f20" stroke-width="0.95"/>
<line x1="294.4" y1="728.8" x2="294.4" y2="735.2" stroke="#231f20" stroke-width="0.95"/>
<polygon points="288.25,723.9 288.81,725.24 290.25,725.35 289.15,726.29 289.48,727.7 288.25,726.95 287.02,727.7 287.35,726.29 286.25,725.35 287.69,725.24" fill="#231f20"/>
<polygon points="292.75,723.9 293.31,725.24 294.75,725.35 293.65,726.29 293.98,727.7 292.75,726.95 291.52,727.7 291.85,726.29 290.75,725.35 292.19,725.24" fill="#231f20"/>
<polygon points="297.25,723.9 297.81,725.24 299.25,725.35 298.15,726.29 298.48,727.7 297.25,726.95 296.02,727.7 296.35,726.29 295.25,725.35 296.69,725.24" fill="#231f20"/>
<polygon points="301.75,723.9 302.31,725.24 303.75,725.35 302.65,726.29 302.98,727.7 301.75,726.95 300.52,727.7 300.85,726.29 299.75,725.35 301.19,725.24" fill="#231f20"/>
<line x1="288.6" y1="717.8" x2="300.6" y2="717.8" stroke="#231f20" stroke-width="0.95"/>
<line x1="288.6" y1="714.6" x2="288.6" y2="721" stroke="#231f20" stroke-width="0.95"/>
<line x1="300.6" y1="714.6" x2="300.6" y2="721" stroke="#231f20" stroke-width="0.95"/>
<polygon points="290.2,710 290.76,711.34 292.2,711.45 291.1,712.39 291.43,713.8 290.2,713.05 288.97,713.8 289.3,712.39 288.2,711.45 289.64,711.34" fill="#231f20"/>
<polygon points="294.7,710 295.26,711.34 296.7,711.45 295.6,712.39 295.93,713.8 294.7,713.05 293.47,713.8 293.8,712.39 292.7,711.45 294.14,711.34" fill="#231f20"/>
<polygon points="299.2,710 299.76,711.34 301.2,711.45 300.1,712.39 300.43,713.8 299.2,713.05 297.97,713.8 298.3,712.39 297.2,711.45 298.64,711.34" fill="#231f20"/>
<line x1="301.4" y1="705.1" x2="308.1" y2="705.1" stroke="#231f20" stroke-width="0.95"/>
<line x1="301.4" y1="701.9" x2="301.4" y2="708.3" stroke="#231f20" stroke-width="0.95"/>
<line x1="308.1" y1="701.9" x2="308.1" y2="708.3" stroke="#231f20" stroke-width="0.95"/>
<polygon points="291.85,697.7 292.41,699.04 293.85,699.15 292.75,700.09 293.08,701.5 291.85,700.75 290.62,701.5 290.95,700.09 289.85,699.15 291.29,699.04" fill="#231f20"/>
<polygon points="296.35,697.7 296.91,699.04 298.35,699.15 297.25,700.09 297.58,701.5 296.35,700.75 295.12,701.5 295.45,700.09 294.35,699.15 295.79,699.04" fill="#231f20"/>
<polygon points="300.85,697.7 301.41,699.04 302.85,699.15 301.75,700.09 302.08,701.5 300.85,700.75 299.62,701.5 299.95,700.09 298.85,699.15 300.29,699.04" fill="#231f20"/>
<polygon points="305.35,697.7 305.91,699.04 307.35,699.15 306.25,700.09 306.58,701.5 305.35,700.75 304.12,701.5 304.45,700.09 303.35,699.15 304.79,699.04" fill="#231f20"/>
<line x1="315.7" y1="705.5" x2="322.7" y2="705.5" stroke="#231f20" stroke-width="0.95"/>
<line x1="315.7" y1="702.3" x2="315.7" y2="708.7" stroke="#231f20" stroke-width="0.95"/>
<line x1="322.7" y1="702.3" x2="322.7" y2="708.7" stroke="#231f20" stroke-width="0.95"/>
<polygon points="316.45,697.3 317.01,698.64 318.45,698.75 317.35,699.69 317.68,701.1 316.45,700.35 315.22,701.1 315.55,699.69 314.45,698.75 315.89,698.64" fill="#231f20"/>
<polygon points="320.95,697.3 321.51,698.64 322.95,698.75 321.85,699.69 322.18,701.1 320.95,700.35 319.72,701.1 320.05,699.69 318.95,698.75 320.39,698.64" fill="#231f20"/>
<polygon points="325.45,697.3 326.01,698.64 327.45,698.75 326.35,699.69 326.68,701.1 325.45,700.35 324.22,701.1 324.55,699.69 323.45,698.75 324.89,698.64" fill="#231f20"/>
<polygon points="329.95,697.3 330.51,698.64 331.95,698.75 330.85,699.69 331.18,701.1 329.95,700.35 328.72,701.1 329.05,699.69 327.95,698.75 329.39,698.64" fill="#231f20"/>
<line x1="316.6" y1="692.4" x2="328.4" y2="692.4" stroke="#231f20" stroke-width="0.95"/>
<line x1="316.6" y1="689.2" x2="316.6" y2="695.6" stroke="#231f20" stroke-width="0.95"/>
<line x1="328.4" y1="689.2" x2="328.4" y2="695.6" stroke="#231f20" stroke-width="0.95"/>
<polygon points="315.95,683.3 316.51,684.64 317.95,684.75 316.85,685.69 317.18,687.1 315.95,686.35 314.72,687.1 315.05,685.69 313.95,684.75 315.39,684.64" fill="#231f20"/>
<polygon points="320.45,683.3 321.01,684.64 322.45,684.75 321.35,685.69 321.68,687.1 320.45,686.35 319.22,687.1 319.55,685.69 318.45,684.75 319.89,684.64" fill="#231f20"/>
<polygon points="324.95,683.3 325.51,684.64 326.95,684.75 325.85,685.69 326.18,687.1 324.95,686.35 323.72,687.1 324.05,685.69 322.95,684.75 324.39,684.64" fill="#231f20"/>
<polygon points="329.45,683.3 330.01,684.64 331.45,684.75 330.35,685.69 330.68,687.1 329.45,686.35 328.22,687.1 328.55,685.69 327.45,684.75 328.89,684.64" fill="#231f20"/>
<line x1="329.3" y1="678.6" x2="336.5" y2="678.6" stroke="#231f20" stroke-width="0.95"/>
<line x1="329.3" y1="675.4" x2="329.3" y2="681.8" stroke="#231f20" stroke-width="0.95"/>
<line x1="336.5" y1="675.4" x2="336.5" y2="681.8" stroke="#231f20" stroke-width="0.95"/>
<polygon points="324.75,670.2 325.31,671.54 326.75,671.65 325.65,672.59 325.98,674 324.75,673.25 323.52,674 323.85,672.59 322.75,671.65 324.19,671.54" fill="#231f20"/>
<polygon points="329.25,670.2 329.81,671.54 331.25,671.65 330.15,672.59 330.48,674 329.25,673.25 328.02,674 328.35,672.59 327.25,671.65 328.69,671.54" fill="#231f20"/>
<polygon points="333.75,670.2 334.31,671.54 335.75,671.65 334.65,672.59 334.98,674 333.75,673.25 332.52,674 332.85,672.59 331.75,671.65 333.19,671.54" fill="#231f20"/>
<polygon points="338.25,670.2 338.81,671.54 340.25,671.65 339.15,672.59 339.48,674 338.25,673.25 337.02,674 337.35,672.59 336.25,671.65 337.69,671.54" fill="#231f20"/>
<line x1="345.4" y1="656.3" x2="352.7" y2="656.3" stroke="#231f20" stroke-width="0.95"/>
<line x1="345.4" y1="653.1" x2="345.4" y2="659.5" stroke="#231f20" stroke-width="0.95"/>
<line x1="352.7" y1="653.1" x2="352.7" y2="659.5" stroke="#231f20" stroke-width="0.95"/>
<polygon points="346.35,648 346.91,649.34 348.35,649.45 347.25,650.39 347.58,651.8 346.35,651.05 345.12,651.8 345.45,650.39 344.35,649.45 345.79,649.34" fill="#231f20"/>
<polygon points="350.85,648 351.41,649.34 352.85,649.45 351.75,650.39 352.08,651.8 350.85,651.05 349.62,651.8 349.95,650.39 348.85,649.45 350.29,649.34" fill="#231f20"/>
<line x1="345.4" y1="644" x2="357.7" y2="644" stroke="#231f20" stroke-width="0.95"/>
<line x1="345.4" y1="640.8" x2="345.4" y2="647.2" stroke="#231f20" stroke-width="0.95"/>
<line x1="357.7" y1="640.8" x2="357.7" y2="647.2" stroke="#231f20" stroke-width="0.95"/>
<polygon points="343.95,635.6 344.51,636.94 345.95,637.05 344.85,637.99 345.18,639.4 343.95,638.65 342.72,639.4 343.05,637.99 341.95,637.05 343.39,636.94" fill="#231f20"/>
<polygon points="348.45,635.6 349.01,636.94 350.45,637.05 349.35,637.99 349.68,639.4 348.45,638.65 347.22,639.4 347.55,637.99 346.45,637.05 347.89,636.94" fill="#231f20"/>
<polygon points="352.95,635.6 353.51,636.94 354.95,637.05 353.85,637.99 354.18,639.4 352.95,638.65 351.72,639.4 352.05,637.99 350.95,637.05 352.39,636.94" fill="#231f20"/>
<polygon points="357.45,635.6 358.01,636.94 359.45,637.05 358.35,637.99 358.68,639.4 357.45,638.65 356.22,639.4 356.55,637.99 355.45,637.05 356.89,636.94" fill="#231f20"/>
<line x1="358.2" y1="670.7" x2="365.2" y2="670.7" stroke="#231f20" stroke-width="0.95"/>
<line x1="358.2" y1="667.5" x2="358.2" y2="673.9" stroke="#231f20" stroke-width="0.95"/>
<line x1="365.2" y1="667.5" x2="365.2" y2="673.9" stroke="#231f20" stroke-width="0.95"/>
<polygon points="359.65,662.1 360.21,663.44 361.65,663.55 360.55,664.49 360.88,665.9 359.65,665.15 358.42,665.9 358.75,664.49 357.65,663.55 359.09,663.44" fill="#231f20"/>
<polygon points="364.15,662.1 364.71,663.44 366.15,663.55 365.05,664.49 365.38,665.9 364.15,665.15 362.92,665.9 363.25,664.49 362.15,663.55 363.59,663.44" fill="#231f20"/>
<line x1="373.8" y1="743.9" x2="381.6" y2="743.9" stroke="#231f20" stroke-width="0.95"/>
<line x1="373.8" y1="740.7" x2="373.8" y2="747.1" stroke="#231f20" stroke-width="0.95"/>
<line x1="381.6" y1="740.7" x2="381.6" y2="747.1" stroke="#231f20" stroke-width="0.95"/>
<polygon points="375.35,735.5 375.91,736.84 377.35,736.95 376.25,737.89 376.58,739.3 375.35,738.55 374.12,739.3 374.45,737.89 373.35,736.95 374.79,736.84" fill="#231f20"/>
<polygon points="379.85,735.5 380.41,736.84 381.85,736.95 380.75,737.89 381.08,739.3 379.85,738.55 378.62,739.3 378.95,737.89 377.85,736.95 379.29,736.84" fill="#231f20"/>
<polygon points="384.35,735.5 384.91,736.84 386.35,736.95 385.25,737.89 385.58,739.3 384.35,738.55 383.12,739.3 383.45,737.89 382.35,736.95 383.79,736.84" fill="#231f20"/>
<polygon points="388.85,735.5 389.41,736.84 390.85,736.95 389.75,737.89 390.08,739.3 388.85,738.55 387.62,739.3 387.95,737.89 386.85,736.95 388.29,736.84" fill="#231f20"/>
<line x1="373.8" y1="730.6" x2="386" y2="730.6" stroke="#231f20" stroke-width="0.95"/>
<line x1="373.8" y1="727.4" x2="373.8" y2="733.8" stroke="#231f20" stroke-width="0.95"/>
<line x1="386" y1="727.4" x2="386" y2="733.8" stroke="#231f20" stroke-width="0.95"/>
<polygon points="375.4,721.7 375.96,723.04 377.4,723.15 376.3,724.09 376.63,725.5 375.4,724.75 374.17,725.5 374.5,724.09 373.4,723.15 374.84,723.04" fill="#231f20"/>
<polygon points="379.9,721.7 380.46,723.04 381.9,723.15 380.8,724.09 381.13,725.5 379.9,724.75 378.67,725.5 379,724.09 377.9,723.15 379.34,723.04" fill="#231f20"/>
<polygon points="384.4,721.7 384.96,723.04 386.4,723.15 385.3,724.09 385.63,725.5 384.4,724.75 383.17,725.5 383.5,724.09 382.4,723.15 383.84,723.04" fill="#231f20"/>
<line x1="387.3" y1="754.4" x2="394.3" y2="754.4" stroke="#231f20" stroke-width="0.95"/>
<line x1="387.3" y1="751.2" x2="387.3" y2="757.6" stroke="#231f20" stroke-width="0.95"/>
<line x1="394.3" y1="751.2" x2="394.3" y2="757.6" stroke="#231f20" stroke-width="0.95"/>
<polygon points="385.55,745.5 386.11,746.84 387.55,746.95 386.45,747.89 386.78,749.3 385.55,748.55 384.32,749.3 384.65,747.89 383.55,746.95 384.99,746.84" fill="#231f20"/>
<polygon points="390.05,745.5 390.61,746.84 392.05,746.95 390.95,747.89 391.28,749.3 390.05,748.55 388.82,749.3 389.15,747.89 388.05,746.95 389.49,746.84" fill="#231f20"/>
<polygon points="394.55,745.5 395.11,746.84 396.55,746.95 395.45,747.89 395.78,749.3 394.55,748.55 393.32,749.3 393.65,747.89 392.55,746.95 393.99,746.84" fill="#231f20"/>
<polygon points="399.05,745.5 399.61,746.84 401.05,746.95 399.95,747.89 400.28,749.3 399.05,748.55 397.82,749.3 398.15,747.89 397.05,746.95 398.49,746.84" fill="#231f20"/>
<text x="298.1" y="786.49" font-size="11.44" text-anchor="middle" fill="#231f20" stroke="#231f20">+</text>
<line x1="325.2" y1="782.5" x2="329" y2="782.5" stroke="#231f20" stroke-width="1"/>
<line x1="354.1" y1="782.5" x2="357.9" y2="782.5" stroke="#231f20" stroke-width="1"/>
<line x1="383" y1="782.5" x2="386.8" y2="782.5" stroke="#231f20" stroke-width="1"/>
<line x1="411.9" y1="782.5" x2="415.7" y2="782.5" stroke="#231f20" stroke-width="1"/>
<line x1="440.8" y1="782.5" x2="444.6" y2="782.5" stroke="#231f20" stroke-width="1"/>
<line x1="296.3" y1="794.5" x2="300.1" y2="794.5" stroke="#231f20" stroke-width="1"/>
<text x="327" y="798.49" font-size="11.44" text-anchor="middle" fill="#231f20" stroke="#231f20">+</text>
<line x1="354.1" y1="794.5" x2="357.9" y2="794.5" stroke="#231f20" stroke-width="1"/>
<line x1="383" y1="794.5" x2="386.8" y2="794.5" stroke="#231f20" stroke-width="1"/>
<text x="413.7" y="798.49" font-size="11.44" text-anchor="middle" fill="#231f20" stroke="#231f20">+</text>
<line x1="440.8" y1="794.5" x2="444.6" y2="794.5" stroke="#231f20" stroke-width="1"/>
<line x1="296.3" y1="806.5" x2="300.1" y2="806.5" stroke="#231f20" stroke-width="1"/>
<line x1="325.2" y1="806.5" x2="329" y2="806.5" stroke="#231f20" stroke-width="1"/>
<text x="355.9" y="810.69" font-size="11.44" text-anchor="middle" fill="#231f20" stroke="#231f20">+</text>
<line x1="383" y1="806.5" x2="386.8" y2="806.5" stroke="#231f20" stroke-width="1"/>
<line x1="411.9" y1="806.5" x2="415.7" y2="806.5" stroke="#231f20" stroke-width="1"/>
<text x="442.6" y="810.69" font-size="11.44" text-anchor="middle" fill="#231f20" stroke="#231f20">+</text>
<line x1="296.3" y1="818.5" x2="300.1" y2="818.5" stroke="#231f20" stroke-width="1"/>
<line x1="325.2" y1="818.5" x2="329" y2="818.5" stroke="#231f20" stroke-width="1"/>
<line x1="354.1" y1="818.5" x2="357.9" y2="818.5" stroke="#231f20" stroke-width="1"/>
<text x="384.8" y="822.29" font-size="11.44" text-anchor="middle" fill="#231f20" stroke="#231f20">+</text>
<text x="413.7" y="822.29" font-size="11.44" text-anchor="middle" fill="#231f20" stroke="#231f20">+</text>
<text x="442.6" y="822.29" font-size="11.44" text-anchor="middle" fill="#231f20" stroke="#231f20">+</text>
<text x="279.2" y="786.3" font-size="11.4" text-anchor="end" fill="#231f20" stroke="#231f20">DMSO</text>
<text x="279.2" y="797.9" font-size="11.4" text-anchor="end" fill="#231f20" stroke="#231f20">Erastin</text>
<text x="279.2" y="809.8" font-size="11.4" text-anchor="end" fill="#231f20" stroke="#231f20">Sorafenib</text>
<text x="279.2" y="821.1" font-size="11.4" text-anchor="end" fill="#231f20" stroke="#231f20">Fer-1</text>
<line x1="508.2" y1="656.3" x2="508.2" y2="771.3" stroke="#231f20" stroke-width="1.3"/>
<line x1="503.1" y1="770.8" x2="508.2" y2="770.8" stroke="#231f20" stroke-width="1.3"/>
<text x="501.4" y="776.4" font-size="10.9" text-anchor="end" fill="#231f20" stroke="#231f20">0</text>
<line x1="503.1" y1="748" x2="508.2" y2="748" stroke="#231f20" stroke-width="1.3"/>
<text x="501.4" y="753.6" font-size="10.9" text-anchor="end" fill="#231f20" stroke="#231f20">20</text>
<line x1="503.1" y1="725.2" x2="508.2" y2="725.2" stroke="#231f20" stroke-width="1.3"/>
<text x="501.4" y="730.8" font-size="10.9" text-anchor="end" fill="#231f20" stroke="#231f20">40</text>
<line x1="503.1" y1="702.4" x2="508.2" y2="702.4" stroke="#231f20" stroke-width="1.3"/>
<text x="501.4" y="708" font-size="10.9" text-anchor="end" fill="#231f20" stroke="#231f20">60</text>
<line x1="503.1" y1="679.6" x2="508.2" y2="679.6" stroke="#231f20" stroke-width="1.3"/>
<text x="501.4" y="685.2" font-size="10.9" text-anchor="end" fill="#231f20" stroke="#231f20">80</text>
<line x1="503.1" y1="656.8" x2="508.2" y2="656.8" stroke="#231f20" stroke-width="1.3"/>
<text x="501.4" y="662.4" font-size="10.9" text-anchor="end" fill="#231f20" stroke="#231f20">100</text>
<line x1="508.2" y1="770.8" x2="681" y2="770.8" stroke="#231f20" stroke-width="1.3"/>
<line x1="521.1" y1="770.8" x2="521.1" y2="775" stroke="#231f20" stroke-width="1"/>
<rect x="510.2" y="762.82" width="3.5" height="7.98" fill="#fff" stroke="#f36b2c" stroke-width="0.9"/>
<circle cx="511.95" cy="763.62" r="1.7" fill="#f36b2c"/>
<rect x="516.5" y="737.74" width="3.5" height="33.06" fill="#fff" stroke="#2f3a8c" stroke-width="0.9"/>
<rect x="516.72" y="737.01" width="3.06" height="3.06" fill="#2f3a8c"/>
<rect x="522.8" y="763.96" width="3.5" height="6.84" fill="#fff" stroke="#4fd38a" stroke-width="0.9"/>
<polygon points="522.68,766.07 526.42,766.07 524.55,763.08" fill="#4fd38a"/>
<rect x="529.1" y="759.4" width="3.5" height="11.4" fill="#fff" stroke="#c3d63e" stroke-width="0.9"/>
<polygon points="528.98,758.89 532.72,758.89 530.85,761.88" fill="#c3d63e"/>
<line x1="550.15" y1="770.8" x2="550.15" y2="775" stroke="#231f20" stroke-width="1"/>
<rect x="539.25" y="743.44" width="3.5" height="27.36" fill="#fff" stroke="#f36b2c" stroke-width="0.9"/>
<circle cx="541" cy="744.24" r="1.7" fill="#f36b2c"/>
<rect x="545.55" y="735.46" width="3.5" height="35.34" fill="#fff" stroke="#2f3a8c" stroke-width="0.9"/>
<rect x="545.77" y="734.73" width="3.06" height="3.06" fill="#2f3a8c"/>
<rect x="551.85" y="755.98" width="3.5" height="14.82" fill="#fff" stroke="#4fd38a" stroke-width="0.9"/>
<polygon points="551.73,758.09 555.47,758.09 553.6,755.1" fill="#4fd38a"/>
<rect x="558.15" y="741.16" width="3.5" height="29.64" fill="#fff" stroke="#c3d63e" stroke-width="0.9"/>
<polygon points="558.03,740.65 561.77,740.65 559.9,743.64" fill="#c3d63e"/>
<line x1="579.2" y1="770.8" x2="579.2" y2="775" stroke="#231f20" stroke-width="1"/>
<rect x="568.3" y="680.74" width="3.5" height="90.06" fill="#fff" stroke="#f36b2c" stroke-width="0.9"/>
<line x1="570.05" y1="684.39" x2="570.05" y2="677.09" stroke="#f36b2c" stroke-width="0.9"/>
<line x1="568.65" y1="677.09" x2="571.45" y2="677.09" stroke="#f36b2c" stroke-width="0.9"/>
<line x1="568.65" y1="684.39" x2="571.45" y2="684.39" stroke="#f36b2c" stroke-width="0.9"/>
<circle cx="570.05" cy="678.55" r="1.5" fill="#f36b2c"/>
<circle cx="570.05" cy="682.56" r="1.5" fill="#f36b2c"/>
<circle cx="570.05" cy="681.54" r="1.7" fill="#f36b2c"/>
<rect x="574.6" y="661.93" width="3.5" height="108.87" fill="#fff" stroke="#2f3a8c" stroke-width="0.9"/>
<rect x="574.82" y="661.2" width="3.06" height="3.06" fill="#2f3a8c"/>
<rect x="580.9" y="735.46" width="3.5" height="35.34" fill="#fff" stroke="#4fd38a" stroke-width="0.9"/>
<polygon points="580.78,737.57 584.52,737.57 582.65,734.58" fill="#4fd38a"/>
<rect x="587.2" y="695.56" width="3.5" height="75.24" fill="#fff" stroke="#c3d63e" stroke-width="0.9"/>
<polygon points="587.08,695.05 590.82,695.05 588.95,698.04" fill="#c3d63e"/>
<line x1="608.25" y1="770.8" x2="608.25" y2="775" stroke="#231f20" stroke-width="1"/>
<rect x="597.35" y="766.7" width="3.5" height="4.1" fill="#fff" stroke="#f36b2c" stroke-width="0.9"/>
<line x1="599.1" y1="768.41" x2="599.1" y2="764.99" stroke="#f36b2c" stroke-width="0.9"/>
<line x1="597.7" y1="764.99" x2="600.5" y2="764.99" stroke="#f36b2c" stroke-width="0.9"/>
<line x1="597.7" y1="768.41" x2="600.5" y2="768.41" stroke="#f36b2c" stroke-width="0.9"/>
<circle cx="599.1" cy="765.67" r="1.5" fill="#f36b2c"/>
<circle cx="599.1" cy="767.55" r="1.5" fill="#f36b2c"/>
<circle cx="599.1" cy="767.5" r="1.7" fill="#f36b2c"/>
<rect x="603.65" y="752.56" width="3.5" height="18.24" fill="#fff" stroke="#2f3a8c" stroke-width="0.9"/>
<rect x="603.87" y="751.83" width="3.06" height="3.06" fill="#2f3a8c"/>
<rect x="609.95" y="767.38" width="3.5" height="3.42" fill="#fff" stroke="#4fd38a" stroke-width="0.9"/>
<polygon points="609.83,769.49 613.57,769.49 611.7,766.5" fill="#4fd38a"/>
<rect x="616.25" y="762.02" width="3.5" height="8.78" fill="#fff" stroke="#c3d63e" stroke-width="0.9"/>
<polygon points="616.13,761.51 619.87,761.51 618,764.5" fill="#c3d63e"/>
<line x1="637.3" y1="770.8" x2="637.3" y2="775" stroke="#231f20" stroke-width="1"/>
<rect x="626.4" y="751.99" width="3.5" height="18.81" fill="#fff" stroke="#f36b2c" stroke-width="0.9"/>
<circle cx="628.15" cy="752.79" r="1.7" fill="#f36b2c"/>
<rect x="632.7" y="747.43" width="3.5" height="23.37" fill="#fff" stroke="#2f3a8c" stroke-width="0.9"/>
<rect x="632.92" y="746.7" width="3.06" height="3.06" fill="#2f3a8c"/>
<rect x="639" y="757.69" width="3.5" height="13.11" fill="#fff" stroke="#4fd38a" stroke-width="0.9"/>
<polygon points="638.88,759.8 642.62,759.8 640.75,756.81" fill="#4fd38a"/>
<rect x="645.3" y="754.5" width="3.5" height="16.3" fill="#fff" stroke="#c3d63e" stroke-width="0.9"/>
<polygon points="645.18,753.99 648.92,753.99 647.05,756.98" fill="#c3d63e"/>
<line x1="666.35" y1="770.8" x2="666.35" y2="775" stroke="#231f20" stroke-width="1"/>
<rect x="655.45" y="744.12" width="3.5" height="26.68" fill="#fff" stroke="#f36b2c" stroke-width="0.9"/>
<circle cx="657.2" cy="744.92" r="1.7" fill="#f36b2c"/>
<rect x="661.75" y="732.61" width="3.5" height="38.19" fill="#fff" stroke="#2f3a8c" stroke-width="0.9"/>
<rect x="661.97" y="731.88" width="3.06" height="3.06" fill="#2f3a8c"/>
<rect x="668.05" y="751.99" width="3.5" height="18.81" fill="#fff" stroke="#4fd38a" stroke-width="0.9"/>
<polygon points="667.93,754.1 671.67,754.1 669.8,751.11" fill="#4fd38a"/>
<rect x="674.35" y="748.23" width="3.5" height="22.57" fill="#fff" stroke="#c3d63e" stroke-width="0.9"/>
<polygon points="674.23,747.72 677.97,747.72 676.1,750.71" fill="#c3d63e"/>
<line x1="512.4" y1="729.8" x2="519" y2="729.8" stroke="#231f20" stroke-width="0.95"/>
<line x1="512.4" y1="726.6" x2="512.4" y2="733" stroke="#231f20" stroke-width="0.95"/>
<line x1="519" y1="726.6" x2="519" y2="733" stroke="#231f20" stroke-width="0.95"/>
<polygon points="513.15,721.7 513.71,723.04 515.15,723.15 514.05,724.09 514.38,725.5 513.15,724.75 511.92,725.5 512.25,724.09 511.15,723.15 512.59,723.04" fill="#231f20"/>
<polygon points="517.65,721.7 518.21,723.04 519.65,723.15 518.55,724.09 518.88,725.5 517.65,724.75 516.42,725.5 516.75,724.09 515.65,723.15 517.09,723.04" fill="#231f20"/>
<polygon points="522.15,721.7 522.71,723.04 524.15,723.15 523.05,724.09 523.38,725.5 522.15,724.75 520.92,725.5 521.25,724.09 520.15,723.15 521.59,723.04" fill="#231f20"/>
<polygon points="526.65,721.7 527.21,723.04 528.65,723.15 527.55,724.09 527.88,725.5 526.65,724.75 525.42,725.5 525.75,724.09 524.65,723.15 526.09,723.04" fill="#231f20"/>
<line x1="511.6" y1="716.2" x2="523.6" y2="716.2" stroke="#231f20" stroke-width="0.95"/>
<line x1="511.6" y1="713" x2="511.6" y2="719.4" stroke="#231f20" stroke-width="0.95"/>
<line x1="523.6" y1="713" x2="523.6" y2="719.4" stroke="#231f20" stroke-width="0.95"/>
<polygon points="517.7,710.2 518.26,711.54 519.7,711.65 518.6,712.59 518.93,714 517.7,713.25 516.47,714 516.8,712.59 515.7,711.65 517.14,711.54" fill="#231f20"/>
<line x1="524.4" y1="754.1" x2="531.3" y2="754.1" stroke="#231f20" stroke-width="0.95"/>
<line x1="524.4" y1="750.9" x2="524.4" y2="757.3" stroke="#231f20" stroke-width="0.95"/>
<line x1="531.3" y1="750.9" x2="531.3" y2="757.3" stroke="#231f20" stroke-width="0.95"/>
<polygon points="523.25,745.6 523.81,746.94 525.25,747.05 524.15,747.99 524.48,749.4 523.25,748.65 522.02,749.4 522.35,747.99 521.25,747.05 522.69,746.94" fill="#231f20"/>
<polygon points="527.75,745.6 528.31,746.94 529.75,747.05 528.65,747.99 528.98,749.4 527.75,748.65 526.52,749.4 526.85,747.99 525.75,747.05 527.19,746.94" fill="#231f20"/>
<polygon points="532.25,745.6 532.81,746.94 534.25,747.05 533.15,747.99 533.48,749.4 532.25,748.65 531.02,749.4 531.35,747.99 530.25,747.05 531.69,746.94" fill="#231f20"/>
<polygon points="536.75,745.6 537.31,746.94 538.75,747.05 537.65,747.99 537.98,749.4 536.75,748.65 535.52,749.4 535.85,747.99 534.75,747.05 536.19,746.94" fill="#231f20"/>
<line x1="540.5" y1="728" x2="547.5" y2="728" stroke="#231f20" stroke-width="0.95"/>
<line x1="540.5" y1="724.8" x2="540.5" y2="731.2" stroke="#231f20" stroke-width="0.95"/>
<line x1="547.5" y1="724.8" x2="547.5" y2="731.2" stroke="#231f20" stroke-width="0.95"/>
<polygon points="541.75,720.2 542.31,721.54 543.75,721.65 542.65,722.59 542.98,724 541.75,723.25 540.52,724 540.85,722.59 539.75,721.65 541.19,721.54" fill="#231f20"/>
<polygon points="546.25,720.2 546.81,721.54 548.25,721.65 547.15,722.59 547.48,724 546.25,723.25 545.02,724 545.35,722.59 544.25,721.65 545.69,721.54" fill="#231f20"/>
<line x1="540.5" y1="714" x2="552.7" y2="714" stroke="#231f20" stroke-width="0.95"/>
<line x1="540.5" y1="710.8" x2="540.5" y2="717.2" stroke="#231f20" stroke-width="0.95"/>
<line x1="552.7" y1="710.8" x2="552.7" y2="717.2" stroke="#231f20" stroke-width="0.95"/>
<polygon points="542.1,706.2 542.66,707.54 544.1,707.65 543,708.59 543.33,710 542.1,709.25 540.87,710 541.2,708.59 540.1,707.65 541.54,707.54" fill="#231f20"/>
<polygon points="546.6,706.2 547.16,707.54 548.6,707.65 547.5,708.59 547.83,710 546.6,709.25 545.37,710 545.7,708.59 544.6,707.65 546.04,707.54" fill="#231f20"/>
<polygon points="551.1,706.2 551.66,707.54 553.1,707.65 552,708.59 552.33,710 551.1,709.25 549.87,710 550.2,708.59 549.1,707.65 550.54,707.54" fill="#231f20"/>
<line x1="553.6" y1="735.5" x2="560.6" y2="735.5" stroke="#231f20" stroke-width="0.95"/>
<line x1="553.6" y1="732.3" x2="553.6" y2="738.7" stroke="#231f20" stroke-width="0.95"/>
<line x1="560.6" y1="732.3" x2="560.6" y2="738.7" stroke="#231f20" stroke-width="0.95"/>
<polygon points="554.45,727.2 555.01,728.54 556.45,728.65 555.35,729.59 555.68,731 554.45,730.25 553.22,731 553.55,729.59 552.45,728.65 553.89,728.54" fill="#231f20"/>
<polygon points="558.95,727.2 559.51,728.54 560.95,728.65 559.85,729.59 560.18,731 558.95,730.25 557.72,731 558.05,729.59 556.95,728.65 558.39,728.54" fill="#231f20"/>
<line x1="569.5" y1="658" x2="576.2" y2="658" stroke="#231f20" stroke-width="0.95"/>
<line x1="569.5" y1="654.8" x2="569.5" y2="661.2" stroke="#231f20" stroke-width="0.95"/>
<line x1="576.2" y1="654.8" x2="576.2" y2="661.2" stroke="#231f20" stroke-width="0.95"/>
<polygon points="570.45,649.6 571.01,650.94 572.45,651.05 571.35,651.99 571.68,653.4 570.45,652.65 569.22,653.4 569.55,651.99 568.45,651.05 569.89,650.94" fill="#231f20"/>
<polygon points="574.95,649.6 575.51,650.94 576.95,651.05 575.85,651.99 576.18,653.4 574.95,652.65 573.72,653.4 574.05,651.99 572.95,651.05 574.39,650.94" fill="#231f20"/>
<line x1="569.5" y1="644.7" x2="581.5" y2="644.7" stroke="#231f20" stroke-width="0.95"/>
<line x1="569.5" y1="641.5" x2="569.5" y2="647.9" stroke="#231f20" stroke-width="0.95"/>
<line x1="581.5" y1="641.5" x2="581.5" y2="647.9" stroke="#231f20" stroke-width="0.95"/>
<polygon points="569.05,636.2 569.61,637.54 571.05,637.65 569.95,638.59 570.28,640 569.05,639.25 567.82,640 568.15,638.59 567.05,637.65 568.49,637.54" fill="#231f20"/>
<polygon points="573.55,636.2 574.11,637.54 575.55,637.65 574.45,638.59 574.78,640 573.55,639.25 572.32,640 572.65,638.59 571.55,637.65 572.99,637.54" fill="#231f20"/>
<polygon points="578.05,636.2 578.61,637.54 580.05,637.65 578.95,638.59 579.28,640 578.05,639.25 576.82,640 577.15,638.59 576.05,637.65 577.49,637.54" fill="#231f20"/>
<polygon points="582.55,636.2 583.11,637.54 584.55,637.65 583.45,638.59 583.78,640 582.55,639.25 581.32,640 581.65,638.59 580.55,637.65 581.99,637.54" fill="#231f20"/>
<line x1="582.3" y1="687.8" x2="589.3" y2="687.8" stroke="#231f20" stroke-width="0.95"/>
<line x1="582.3" y1="684.6" x2="582.3" y2="691" stroke="#231f20" stroke-width="0.95"/>
<line x1="589.3" y1="684.6" x2="589.3" y2="691" stroke="#231f20" stroke-width="0.95"/>
<polygon points="580.9,678.7 581.46,680.04 582.9,680.15 581.8,681.09 582.13,682.5 580.9,681.75 579.67,682.5 580,681.09 578.9,680.15 580.34,680.04" fill="#231f20"/>
<polygon points="585.4,678.7 585.96,680.04 587.4,680.15 586.3,681.09 586.63,682.5 585.4,681.75 584.17,682.5 584.5,681.09 583.4,680.15 584.84,680.04" fill="#231f20"/>
<polygon points="589.9,678.7 590.46,680.04 591.9,680.15 590.8,681.09 591.13,682.5 589.9,681.75 588.67,682.5 589,681.09 587.9,680.15 589.34,680.04" fill="#231f20"/>
<line x1="598.3" y1="746.9" x2="605.5" y2="746.9" stroke="#231f20" stroke-width="0.95"/>
<line x1="598.3" y1="743.7" x2="598.3" y2="750.1" stroke="#231f20" stroke-width="0.95"/>
<line x1="605.5" y1="743.7" x2="605.5" y2="750.1" stroke="#231f20" stroke-width="0.95"/>
<polygon points="595.05,738.4 595.61,739.74 597.05,739.85 595.95,740.79 596.28,742.2 595.05,741.45 593.82,742.2 594.15,740.79 593.05,739.85 594.49,739.74" fill="#231f20"/>
<polygon points="599.55,738.4 600.11,739.74 601.55,739.85 600.45,740.79 600.78,742.2 599.55,741.45 598.32,742.2 598.65,740.79 597.55,739.85 598.99,739.74" fill="#231f20"/>
<polygon points="604.05,738.4 604.61,739.74 606.05,739.85 604.95,740.79 605.28,742.2 604.05,741.45 602.82,742.2 603.15,740.79 602.05,739.85 603.49,739.74" fill="#231f20"/>
<polygon points="608.55,738.4 609.11,739.74 610.55,739.85 609.45,740.79 609.78,742.2 608.55,741.45 607.32,742.2 607.65,740.79 606.55,739.85 607.99,739.74" fill="#231f20"/>
<line x1="598.3" y1="733" x2="610.5" y2="733" stroke="#231f20" stroke-width="0.95"/>
<line x1="598.3" y1="729.8" x2="598.3" y2="736.2" stroke="#231f20" stroke-width="0.95"/>
<line x1="610.5" y1="729.8" x2="610.5" y2="736.2" stroke="#231f20" stroke-width="0.95"/>
<polygon points="603.9,726.7 604.46,728.04 605.9,728.15 604.8,729.09 605.13,730.5 603.9,729.75 602.67,730.5 603,729.09 601.9,728.15 603.34,728.04" fill="#231f20"/>
<line x1="611.5" y1="757.3" x2="618.8" y2="757.3" stroke="#231f20" stroke-width="0.95"/>
<line x1="611.5" y1="754.1" x2="611.5" y2="760.5" stroke="#231f20" stroke-width="0.95"/>
<line x1="618.8" y1="754.1" x2="618.8" y2="760.5" stroke="#231f20" stroke-width="0.95"/>
<polygon points="610.9,749.9 611.46,751.24 612.9,751.35 611.8,752.29 612.13,753.7 610.9,752.95 609.67,753.7 610,752.29 608.9,751.35 610.34,751.24" fill="#231f20"/>
<polygon points="615.4,749.9 615.96,751.24 617.4,751.35 616.3,752.29 616.63,753.7 615.4,752.95 614.17,753.7 614.5,752.29 613.4,751.35 614.84,751.24" fill="#231f20"/>
<polygon points="619.9,749.9 620.46,751.24 621.9,751.35 620.8,752.29 621.13,753.7 619.9,752.95 618.67,753.7 619,752.29 617.9,751.35 619.34,751.24" fill="#231f20"/>
<text x="522.1" y="786.49" font-size="11.44" text-anchor="middle" fill="#231f20" stroke="#231f20">+</text>
<line x1="549.35" y1="782.5" x2="553.15" y2="782.5" stroke="#231f20" stroke-width="1"/>
<line x1="578.4" y1="782.5" x2="582.2" y2="782.5" stroke="#231f20" stroke-width="1"/>
<line x1="607.45" y1="782.5" x2="611.25" y2="782.5" stroke="#231f20" stroke-width="1"/>
<line x1="636.5" y1="782.5" x2="640.3" y2="782.5" stroke="#231f20" stroke-width="1"/>
<line x1="665.55" y1="782.5" x2="669.35" y2="782.5" stroke="#231f20" stroke-width="1"/>
<line x1="520.3" y1="794.5" x2="524.1" y2="794.5" stroke="#231f20" stroke-width="1"/>
<text x="551.15" y="798.49" font-size="11.44" text-anchor="middle" fill="#231f20" stroke="#231f20">+</text>
<line x1="578.4" y1="794.5" x2="582.2" y2="794.5" stroke="#231f20" stroke-width="1"/>
<line x1="607.45" y1="794.5" x2="611.25" y2="794.5" stroke="#231f20" stroke-width="1"/>
<text x="638.3" y="798.49" font-size="11.44" text-anchor="middle" fill="#231f20" stroke="#231f20">+</text>
<line x1="665.55" y1="794.5" x2="669.35" y2="794.5" stroke="#231f20" stroke-width="1"/>
<line x1="520.3" y1="806.5" x2="524.1" y2="806.5" stroke="#231f20" stroke-width="1"/>
<line x1="549.35" y1="806.5" x2="553.15" y2="806.5" stroke="#231f20" stroke-width="1"/>
<text x="580.2" y="810.69" font-size="11.44" text-anchor="middle" fill="#231f20" stroke="#231f20">+</text>
<line x1="607.45" y1="806.5" x2="611.25" y2="806.5" stroke="#231f20" stroke-width="1"/>
<line x1="636.5" y1="806.5" x2="640.3" y2="806.5" stroke="#231f20" stroke-width="1"/>
<text x="667.35" y="810.69" font-size="11.44" text-anchor="middle" fill="#231f20" stroke="#231f20">+</text>
<line x1="520.3" y1="818.5" x2="524.1" y2="818.5" stroke="#231f20" stroke-width="1"/>
<line x1="549.35" y1="818.5" x2="553.15" y2="818.5" stroke="#231f20" stroke-width="1"/>
<line x1="578.4" y1="818.5" x2="582.2" y2="818.5" stroke="#231f20" stroke-width="1"/>
<text x="609.25" y="822.29" font-size="11.44" text-anchor="middle" fill="#231f20" stroke="#231f20">+</text>
<text x="638.3" y="822.29" font-size="11.44" text-anchor="middle" fill="#231f20" stroke="#231f20">+</text>
<text x="667.35" y="822.29" font-size="11.44" text-anchor="middle" fill="#231f20" stroke="#231f20">+</text>
<text x="503.1" y="786.3" font-size="11.4" text-anchor="end" fill="#231f20" stroke="#231f20">DMSO</text>
<text x="503.1" y="797.9" font-size="11.4" text-anchor="end" fill="#231f20" stroke="#231f20">Erastin</text>
<text x="503.1" y="809.8" font-size="11.4" text-anchor="end" fill="#231f20" stroke="#231f20">Sorafenib</text>
<text x="503.1" y="821.1" font-size="11.4" text-anchor="end" fill="#231f20" stroke="#231f20">Fer-1</text>
<line x1="61.3" y1="837.8" x2="120.4" y2="837.8" stroke="#231f20" stroke-width="1.1"/>
<line x1="161.7" y1="837.8" x2="221.5" y2="837.8" stroke="#231f20" stroke-width="1.1"/>
<text x="142.7" y="841.8" font-size="11.4" text-anchor="middle" fill="#231f20" stroke="#231f20">CNE1</text>
<line x1="284.6" y1="837.8" x2="343.4" y2="837.8" stroke="#231f20" stroke-width="1.1"/>
<line x1="386" y1="837.8" x2="444.5" y2="837.8" stroke="#231f20" stroke-width="1.1"/>
<text x="365.5" y="841.8" font-size="11.4" text-anchor="middle" fill="#231f20" stroke="#231f20">CNE2</text>
<line x1="510.9" y1="836.7" x2="568.2" y2="836.7" stroke="#231f20" stroke-width="1.1"/>
<line x1="611.3" y1="836.7" x2="670.4" y2="836.7" stroke="#231f20" stroke-width="1.1"/>
<text x="590.7" y="840.7" font-size="11.4" text-anchor="middle" fill="#231f20" stroke="#231f20">C666-1</text>
<line x1="155.6" y1="859.4" x2="169" y2="859.4" stroke="#e8554e" stroke-width="1"/>
<circle cx="162.3" cy="859.4" r="2.2" fill="#e8554e"/>
<text x="173" y="862.6" font-size="11.55" text-anchor="start" fill="#231f20" stroke="#231f20">Vector</text>
<line x1="243" y1="857" x2="257" y2="857" stroke="#3a48b8" stroke-width="1"/>
<rect x="248.02" y="855.02" width="3.96" height="3.96" fill="#3a48b8"/>
<text x="259" y="860.2" font-size="11.55" text-anchor="start" fill="#231f20" stroke="#231f20">shLINC-AC092535.5</text>
<line x1="399" y1="855.7" x2="411.6" y2="855.7" stroke="#80d8b0" stroke-width="1"/>
<polygon points="402.88,857.39 407.72,857.39 405.3,853.52" fill="#80d8b0"/>
<text x="415" y="858.9" font-size="11.55" text-anchor="start" fill="#231f20" stroke="#231f20">oeMICAL2</text>
<line x1="493.6" y1="854" x2="507" y2="854" stroke="#e8a030" stroke-width="1"/>
<polygon points="497.88,852.31 502.72,852.31 500.3,856.18" fill="#e8a030"/>
<text x="509.6" y="857.2" font-size="11.55" text-anchor="start" fill="#231f20" stroke="#231f20">shLINC-AC092535.5+oeMICAL2</text>
<text transform="translate(20.2,932) rotate(-90)" font-size="11.5" text-anchor="middle" fill="#231f20" stroke="#231f20">FerroOrange</text>
<text transform="translate(35.2,932) rotate(-90)" font-size="11.5" text-anchor="middle" fill="#231f20" stroke="#231f20">positive radio(%)</text>
<text transform="translate(244.2,932) rotate(-90)" font-size="11.5" text-anchor="middle" fill="#231f20" stroke="#231f20">FerroOrange</text>
<text transform="translate(259.2,932) rotate(-90)" font-size="11.5" text-anchor="middle" fill="#231f20" stroke="#231f20">positive radio(%)</text>
<text transform="translate(466.2,932) rotate(-90)" font-size="11.5" text-anchor="middle" fill="#231f20" stroke="#231f20">FerroOrange</text>
<text transform="translate(481.2,932) rotate(-90)" font-size="11.5" text-anchor="middle" fill="#231f20" stroke="#231f20">positive radio(%)</text>
<line x1="61" y1="868.1" x2="61" y2="982.9" stroke="#231f20" stroke-width="1.3"/>
<line x1="56.8" y1="982.4" x2="61" y2="982.4" stroke="#231f20" stroke-width="1.3"/>
<text x="54.2" y="986.3" font-size="10.9" text-anchor="end" fill="#231f20" stroke="#231f20">0</text>
<line x1="56.8" y1="953.95" x2="61" y2="953.95" stroke="#231f20" stroke-width="1.3"/>
<text x="54.2" y="957.85" font-size="10.9" text-anchor="end" fill="#231f20" stroke="#231f20">5</text>
<line x1="56.8" y1="925.5" x2="61" y2="925.5" stroke="#231f20" stroke-width="1.3"/>
<text x="54.2" y="929.4" font-size="10.9" text-anchor="end" fill="#231f20" stroke="#231f20">10</text>
<line x1="56.8" y1="897.05" x2="61" y2="897.05" stroke="#231f20" stroke-width="1.3"/>
<text x="54.2" y="900.95" font-size="10.9" text-anchor="end" fill="#231f20" stroke="#231f20">15</text>
<line x1="56.8" y1="868.6" x2="61" y2="868.6" stroke="#231f20" stroke-width="1.3"/>
<text x="54.2" y="872.5" font-size="10.9" text-anchor="end" fill="#231f20" stroke="#231f20">20</text>
<line x1="61" y1="982.4" x2="233" y2="982.4" stroke="#231f20" stroke-width="1.3"/>
<line x1="88.4" y1="982.4" x2="88.4" y2="986.9" stroke="#231f20" stroke-width="1"/>
<rect x="66.3" y="952.81" width="7" height="29.59" fill="#fff" stroke="#e8554e" stroke-width="1.3"/>
<line x1="69.8" y1="955.66" x2="69.8" y2="949.4" stroke="#e8554e" stroke-width="0.9"/>
<line x1="67.2" y1="949.4" x2="72.4" y2="949.4" stroke="#e8554e" stroke-width="0.9"/>
<line x1="67.2" y1="955.66" x2="72.4" y2="955.66" stroke="#e8554e" stroke-width="0.9"/>
<circle cx="69.8" cy="949.4" r="1.9" fill="#e8554e"/>
<circle cx="68.65" cy="953.95" r="1.9" fill="#e8554e"/>
<circle cx="70.95" cy="955.66" r="1.9" fill="#e8554e"/>
<rect x="78.7" y="942" width="7" height="40.4" fill="#fff" stroke="#3a40b8" stroke-width="1.3"/>
<line x1="82.2" y1="943.14" x2="82.2" y2="937.45" stroke="#3a40b8" stroke-width="0.9"/>
<line x1="79.6" y1="937.45" x2="84.8" y2="937.45" stroke="#3a40b8" stroke-width="0.9"/>
<line x1="79.6" y1="943.14" x2="84.8" y2="943.14" stroke="#3a40b8" stroke-width="0.9"/>
<rect x="80.49" y="935.74" width="3.42" height="3.42" fill="#3a40b8"/>
<rect x="79.34" y="939.15" width="3.42" height="3.42" fill="#3a40b8"/>
<rect x="81.64" y="941.43" width="3.42" height="3.42" fill="#3a40b8"/>
<rect x="91.1" y="973.3" width="7" height="9.1" fill="#fff" stroke="#86dcbc" stroke-width="1.3"/>
<polygon points="90.21,973.05 94.39,973.05 92.3,969.71" fill="#86dcbc"/>
<polygon points="92.51,974.76 96.69,974.76 94.6,971.41" fill="#86dcbc"/>
<polygon points="94.81,976.47 98.99,976.47 96.9,973.12" fill="#86dcbc"/>
<rect x="103.5" y="951.67" width="7" height="30.73" fill="#fff" stroke="#e9b43c" stroke-width="1.3"/>
<line x1="107" y1="956.23" x2="107" y2="948.83" stroke="#e9b43c" stroke-width="0.9"/>
<line x1="104.4" y1="948.83" x2="109.6" y2="948.83" stroke="#e9b43c" stroke-width="0.9"/>
<line x1="104.4" y1="956.23" x2="109.6" y2="956.23" stroke="#e9b43c" stroke-width="0.9"/>
<polygon points="103.76,947.37 107.94,947.37 105.85,950.71" fill="#e9b43c"/>
<polygon points="106.06,949.07 110.24,949.07 108.15,952.42" fill="#e9b43c"/>
<polygon points="104.91,954.76 109.09,954.76 107,958.11" fill="#e9b43c"/>
<line x1="146.6" y1="982.4" x2="146.6" y2="986.9" stroke="#231f20" stroke-width="1"/>
<rect x="124.5" y="940.86" width="7" height="41.54" fill="#fff" stroke="#e8554e" stroke-width="1.3"/>
<line x1="128" y1="945.41" x2="128" y2="936.31" stroke="#e8554e" stroke-width="0.9"/>
<line x1="125.4" y1="936.31" x2="130.6" y2="936.31" stroke="#e8554e" stroke-width="0.9"/>
<line x1="125.4" y1="945.41" x2="130.6" y2="945.41" stroke="#e8554e" stroke-width="0.9"/>
<circle cx="128" cy="936.31" r="1.9" fill="#e8554e"/>
<circle cx="128" cy="940.86" r="1.9" fill="#e8554e"/>
<circle cx="128" cy="945.41" r="1.9" fill="#e8554e"/>
<rect x="136.9" y="912.41" width="7" height="69.99" fill="#fff" stroke="#3a40b8" stroke-width="1.3"/>
<line x1="140.4" y1="923.79" x2="140.4" y2="893.64" stroke="#3a40b8" stroke-width="0.9"/>
<line x1="137.8" y1="893.64" x2="143" y2="893.64" stroke="#3a40b8" stroke-width="0.9"/>
<line x1="137.8" y1="923.79" x2="143" y2="923.79" stroke="#3a40b8" stroke-width="0.9"/>
<rect x="138.69" y="891.93" width="3.42" height="3.42" fill="#3a40b8"/>
<rect x="138.69" y="915.82" width="3.42" height="3.42" fill="#3a40b8"/>
<rect x="138.69" y="922.08" width="3.42" height="3.42" fill="#3a40b8"/>
<rect x="149.3" y="961.35" width="7" height="21.05" fill="#fff" stroke="#86dcbc" stroke-width="1.3"/>
<line x1="152.8" y1="964.19" x2="152.8" y2="956.23" stroke="#86dcbc" stroke-width="0.9"/>
<line x1="150.2" y1="956.23" x2="155.4" y2="956.23" stroke="#86dcbc" stroke-width="0.9"/>
<line x1="150.2" y1="964.19" x2="155.4" y2="964.19" stroke="#86dcbc" stroke-width="0.9"/>
<polygon points="150.71,957.69 154.89,957.69 152.8,954.35" fill="#86dcbc"/>
<polygon points="149.56,963.95 153.74,963.95 151.65,960.6" fill="#86dcbc"/>
<polygon points="151.86,965.65 156.04,965.65 153.95,962.31" fill="#86dcbc"/>
<rect x="161.7" y="922.09" width="7" height="60.31" fill="#fff" stroke="#e9b43c" stroke-width="1.3"/>
<line x1="165.2" y1="926.64" x2="165.2" y2="917.53" stroke="#e9b43c" stroke-width="0.9"/>
<line x1="162.6" y1="917.53" x2="167.8" y2="917.53" stroke="#e9b43c" stroke-width="0.9"/>
<line x1="162.6" y1="926.64" x2="167.8" y2="926.64" stroke="#e9b43c" stroke-width="0.9"/>
<polygon points="163.11,916.07 167.29,916.07 165.2,919.41" fill="#e9b43c"/>
<polygon points="163.11,918.92 167.29,918.92 165.2,922.26" fill="#e9b43c"/>
<polygon points="163.11,925.18 167.29,925.18 165.2,928.52" fill="#e9b43c"/>
<line x1="204.8" y1="982.4" x2="204.8" y2="986.9" stroke="#231f20" stroke-width="1"/>
<rect x="182.7" y="932.9" width="7" height="49.5" fill="#fff" stroke="#e8554e" stroke-width="1.3"/>
<line x1="186.2" y1="939.16" x2="186.2" y2="926.64" stroke="#e8554e" stroke-width="0.9"/>
<line x1="183.6" y1="926.64" x2="188.8" y2="926.64" stroke="#e8554e" stroke-width="0.9"/>
<line x1="183.6" y1="939.16" x2="188.8" y2="939.16" stroke="#e8554e" stroke-width="0.9"/>
<circle cx="186.2" cy="926.64" r="1.9" fill="#e8554e"/>
<circle cx="186.2" cy="932.9" r="1.9" fill="#e8554e"/>
<circle cx="186.2" cy="939.16" r="1.9" fill="#e8554e"/>
<rect x="195.1" y="906.15" width="7" height="76.25" fill="#fff" stroke="#3a40b8" stroke-width="1.3"/>
<line x1="198.6" y1="914.12" x2="198.6" y2="893.64" stroke="#3a40b8" stroke-width="0.9"/>
<line x1="196" y1="893.64" x2="201.2" y2="893.64" stroke="#3a40b8" stroke-width="0.9"/>
<line x1="196" y1="914.12" x2="201.2" y2="914.12" stroke="#3a40b8" stroke-width="0.9"/>
<rect x="196.89" y="891.93" width="3.42" height="3.42" fill="#3a40b8"/>
<rect x="196.89" y="909" width="3.42" height="3.42" fill="#3a40b8"/>
<rect x="196.89" y="912.41" width="3.42" height="3.42" fill="#3a40b8"/>
<rect x="207.5" y="956.79" width="7" height="25.6" fill="#fff" stroke="#86dcbc" stroke-width="1.3"/>
<polygon points="206.61,958.26 210.79,958.26 208.7,954.91" fill="#86dcbc"/>
<polygon points="208.91,958.83 213.09,958.83 211,955.48" fill="#86dcbc"/>
<polygon points="211.21,958.83 215.39,958.83 213.3,955.48" fill="#86dcbc"/>
<rect x="219.9" y="930.62" width="7" height="51.78" fill="#fff" stroke="#e9b43c" stroke-width="1.3"/>
<line x1="223.4" y1="934.03" x2="223.4" y2="920.38" stroke="#e9b43c" stroke-width="0.9"/>
<line x1="220.8" y1="920.38" x2="226" y2="920.38" stroke="#e9b43c" stroke-width="0.9"/>
<line x1="220.8" y1="934.03" x2="226" y2="934.03" stroke="#e9b43c" stroke-width="0.9"/>
<polygon points="221.31,918.92 225.49,918.92 223.4,922.26" fill="#e9b43c"/>
<polygon points="221.31,929.73 225.49,929.73 223.4,933.07" fill="#e9b43c"/>
<polygon points="221.31,932.57 225.49,932.57 223.4,935.92" fill="#e9b43c"/>
<line x1="69" y1="904" x2="94.4" y2="904" stroke="#444" stroke-width="1.1"/>
<line x1="69" y1="903.5" x2="69" y2="906.6" stroke="#444" stroke-width="1.1"/>
<line x1="94.4" y1="903.5" x2="94.4" y2="906.6" stroke="#444" stroke-width="1.1"/>
<text x="82.05" y="905.68" font-size="14" text-anchor="middle" fill="#231f20" stroke="#231f20" letter-spacing="0.7">**</text>
<line x1="94.4" y1="929.6" x2="107.6" y2="929.6" stroke="#444" stroke-width="1.1"/>
<line x1="94.4" y1="929.1" x2="94.4" y2="932.2" stroke="#444" stroke-width="1.1"/>
<line x1="107.6" y1="929.1" x2="107.6" y2="932.2" stroke="#444" stroke-width="1.1"/>
<text x="101.35" y="931.28" font-size="14" text-anchor="middle" fill="#231f20" stroke="#231f20" letter-spacing="0.7">**</text>
<line x1="127.6" y1="876.6" x2="153" y2="876.6" stroke="#444" stroke-width="1.1"/>
<line x1="127.6" y1="876.1" x2="127.6" y2="879.2" stroke="#444" stroke-width="1.1"/>
<line x1="153" y1="876.1" x2="153" y2="879.2" stroke="#444" stroke-width="1.1"/>
<text x="140.65" y="878.28" font-size="14" text-anchor="middle" fill="#231f20" stroke="#231f20" letter-spacing="0.7">**</text>
<line x1="152.6" y1="905.6" x2="165.6" y2="905.6" stroke="#444" stroke-width="1.1"/>
<line x1="152.6" y1="905.1" x2="152.6" y2="908.2" stroke="#444" stroke-width="1.1"/>
<line x1="165.6" y1="905.1" x2="165.6" y2="908.2" stroke="#444" stroke-width="1.1"/>
<text x="159.45" y="907.28" font-size="14" text-anchor="middle" fill="#231f20" stroke="#231f20" letter-spacing="0.7">****</text>
<line x1="186.4" y1="884" x2="211.4" y2="884" stroke="#444" stroke-width="1.1"/>
<line x1="186.4" y1="883.5" x2="186.4" y2="886.6" stroke="#444" stroke-width="1.1"/>
<line x1="211.4" y1="883.5" x2="211.4" y2="886.6" stroke="#444" stroke-width="1.1"/>
<text x="199.25" y="885.68" font-size="14" text-anchor="middle" fill="#231f20" stroke="#231f20" letter-spacing="0.7">**</text>
<line x1="211.4" y1="907.4" x2="224.4" y2="907.4" stroke="#444" stroke-width="1.1"/>
<line x1="211.4" y1="906.9" x2="211.4" y2="910" stroke="#444" stroke-width="1.1"/>
<line x1="224.4" y1="906.9" x2="224.4" y2="910" stroke="#444" stroke-width="1.1"/>
<text x="218.25" y="909.08" font-size="14" text-anchor="middle" fill="#231f20" stroke="#231f20" letter-spacing="0.7">***</text>
<text x="87.7" y="1000.89" font-size="11.44" text-anchor="middle" fill="#231f20" stroke="#231f20">+</text>
<line x1="144.1" y1="997.5" x2="147.9" y2="997.5" stroke="#231f20" stroke-width="1"/>
<line x1="202.3" y1="997.5" x2="206.1" y2="997.5" stroke="#231f20" stroke-width="1"/>
<line x1="85.9" y1="1013.5" x2="89.7" y2="1013.5" stroke="#231f20" stroke-width="1"/>
<text x="145.9" y="1017.29" font-size="11.44" text-anchor="middle" fill="#231f20" stroke="#231f20">+</text>
<line x1="202.3" y1="1013.5" x2="206.1" y2="1013.5" stroke="#231f20" stroke-width="1"/>
<line x1="85.9" y1="1029.5" x2="89.7" y2="1029.5" stroke="#231f20" stroke-width="1"/>
<line x1="144.1" y1="1029.5" x2="147.9" y2="1029.5" stroke="#231f20" stroke-width="1"/>
<text x="204.1" y="1033.39" font-size="11.44" text-anchor="middle" fill="#231f20" stroke="#231f20">+</text>
<text x="56.1" y="998.5" font-size="11.4" text-anchor="end" fill="#231f20" stroke="#231f20">DMSO</text>
<text x="56.1" y="1016.3" font-size="11.4" text-anchor="end" fill="#231f20" stroke="#231f20">Erastin</text>
<text x="56.1" y="1033.2" font-size="11.4" text-anchor="end" fill="#231f20" stroke="#231f20">Sorafenib</text>
<line x1="284.6" y1="868.5" x2="284.6" y2="982.7" stroke="#231f20" stroke-width="1.3"/>
<line x1="280.4" y1="982.2" x2="284.6" y2="982.2" stroke="#231f20" stroke-width="1.3"/>
<text x="277.2" y="986.1" font-size="10.9" text-anchor="end" fill="#231f20" stroke="#231f20">0</text>
<line x1="280.4" y1="959.56" x2="284.6" y2="959.56" stroke="#231f20" stroke-width="1.3"/>
<text x="277.2" y="963.46" font-size="10.9" text-anchor="end" fill="#231f20" stroke="#231f20">5</text>
<line x1="280.4" y1="936.92" x2="284.6" y2="936.92" stroke="#231f20" stroke-width="1.3"/>
<text x="277.2" y="940.82" font-size="10.9" text-anchor="end" fill="#231f20" stroke="#231f20">10</text>
<line x1="280.4" y1="914.28" x2="284.6" y2="914.28" stroke="#231f20" stroke-width="1.3"/>
<text x="277.2" y="918.18" font-size="10.9" text-anchor="end" fill="#231f20" stroke="#231f20">15</text>
<line x1="280.4" y1="891.64" x2="284.6" y2="891.64" stroke="#231f20" stroke-width="1.3"/>
<text x="277.2" y="895.54" font-size="10.9" text-anchor="end" fill="#231f20" stroke="#231f20">20</text>
<line x1="280.4" y1="869" x2="284.6" y2="869" stroke="#231f20" stroke-width="1.3"/>
<text x="277.2" y="872.9" font-size="10.9" text-anchor="end" fill="#231f20" stroke="#231f20">25</text>
<line x1="284.6" y1="982.2" x2="455" y2="982.2" stroke="#231f20" stroke-width="1.3"/>
<line x1="312.2" y1="982.2" x2="312.2" y2="986.7" stroke="#231f20" stroke-width="1"/>
<rect x="290.1" y="964.09" width="7" height="18.11" fill="#fff" stroke="#e8554e" stroke-width="1.3"/>
<circle cx="291.3" cy="962.73" r="1.9" fill="#e8554e"/>
<circle cx="293.6" cy="964.09" r="1.9" fill="#e8554e"/>
<circle cx="295.9" cy="965.9" r="1.9" fill="#e8554e"/>
<rect x="302.5" y="927.86" width="7" height="54.34" fill="#fff" stroke="#3a40b8" stroke-width="1.3"/>
<line x1="306" y1="930.13" x2="306" y2="923.79" stroke="#3a40b8" stroke-width="0.9"/>
<line x1="303.4" y1="923.79" x2="308.6" y2="923.79" stroke="#3a40b8" stroke-width="0.9"/>
<line x1="303.4" y1="930.13" x2="308.6" y2="930.13" stroke="#3a40b8" stroke-width="0.9"/>
<rect x="304.29" y="922.08" width="3.42" height="3.42" fill="#3a40b8"/>
<rect x="304.29" y="925.25" width="3.42" height="3.42" fill="#3a40b8"/>
<rect x="304.29" y="928.42" width="3.42" height="3.42" fill="#3a40b8"/>
<rect x="314.9" y="977.22" width="7" height="4.98" fill="#fff" stroke="#86dcbc" stroke-width="1.3"/>
<polygon points="314.01,977.78 318.19,977.78 316.1,974.43" fill="#86dcbc"/>
<polygon points="316.31,978.68 320.49,978.68 318.4,975.34" fill="#86dcbc"/>
<polygon points="318.61,979.59 322.79,979.59 320.7,976.24" fill="#86dcbc"/>
<rect x="327.3" y="951.41" width="7" height="30.79" fill="#fff" stroke="#e9b43c" stroke-width="1.3"/>
<line x1="330.8" y1="959.56" x2="330.8" y2="943.71" stroke="#e9b43c" stroke-width="0.9"/>
<line x1="328.2" y1="943.71" x2="333.4" y2="943.71" stroke="#e9b43c" stroke-width="0.9"/>
<line x1="328.2" y1="959.56" x2="333.4" y2="959.56" stroke="#e9b43c" stroke-width="0.9"/>
<polygon points="328.71,942.25 332.89,942.25 330.8,945.59" fill="#e9b43c"/>
<polygon points="328.71,944.97 332.89,944.97 330.8,948.31" fill="#e9b43c"/>
<polygon points="328.71,958.1 332.89,958.1 330.8,961.44" fill="#e9b43c"/>
<line x1="370.3" y1="982.2" x2="370.3" y2="986.7" stroke="#231f20" stroke-width="1"/>
<rect x="348.2" y="925.15" width="7" height="57.05" fill="#fff" stroke="#e8554e" stroke-width="1.3"/>
<line x1="351.7" y1="926.51" x2="351.7" y2="921.52" stroke="#e8554e" stroke-width="0.9"/>
<line x1="349.1" y1="921.52" x2="354.3" y2="921.52" stroke="#e8554e" stroke-width="0.9"/>
<line x1="349.1" y1="926.51" x2="354.3" y2="926.51" stroke="#e8554e" stroke-width="0.9"/>
<circle cx="351.7" cy="921.52" r="1.9" fill="#e8554e"/>
<circle cx="350.55" cy="925.15" r="1.9" fill="#e8554e"/>
<circle cx="352.85" cy="926.51" r="1.9" fill="#e8554e"/>
<rect x="360.6" y="903.87" width="7" height="78.33" fill="#fff" stroke="#3a40b8" stroke-width="1.3"/>
<line x1="364.1" y1="912.02" x2="364.1" y2="893.45" stroke="#3a40b8" stroke-width="0.9"/>
<line x1="361.5" y1="893.45" x2="366.7" y2="893.45" stroke="#3a40b8" stroke-width="0.9"/>
<line x1="361.5" y1="912.02" x2="366.7" y2="912.02" stroke="#3a40b8" stroke-width="0.9"/>
<rect x="362.39" y="891.74" width="3.42" height="3.42" fill="#3a40b8"/>
<rect x="362.39" y="906.68" width="3.42" height="3.42" fill="#3a40b8"/>
<rect x="362.39" y="910.31" width="3.42" height="3.42" fill="#3a40b8"/>
<rect x="373" y="945.52" width="7" height="36.68" fill="#fff" stroke="#86dcbc" stroke-width="1.3"/>
<line x1="376.5" y1="947.79" x2="376.5" y2="943.26" stroke="#86dcbc" stroke-width="0.9"/>
<line x1="373.9" y1="943.26" x2="379.1" y2="943.26" stroke="#86dcbc" stroke-width="0.9"/>
<line x1="373.9" y1="947.79" x2="379.1" y2="947.79" stroke="#86dcbc" stroke-width="0.9"/>
<polygon points="373.26,944.72 377.44,944.72 375.35,941.38" fill="#86dcbc"/>
<polygon points="375.56,946.53 379.74,946.53 377.65,943.19" fill="#86dcbc"/>
<polygon points="374.41,949.25 378.59,949.25 376.5,945.91" fill="#86dcbc"/>
<rect x="385.4" y="925.6" width="7" height="56.6" fill="#fff" stroke="#e9b43c" stroke-width="1.3"/>
<line x1="388.9" y1="928.77" x2="388.9" y2="921.52" stroke="#e9b43c" stroke-width="0.9"/>
<line x1="386.3" y1="921.52" x2="391.5" y2="921.52" stroke="#e9b43c" stroke-width="0.9"/>
<line x1="386.3" y1="928.77" x2="391.5" y2="928.77" stroke="#e9b43c" stroke-width="0.9"/>
<polygon points="386.81,920.06 390.99,920.06 388.9,923.41" fill="#e9b43c"/>
<polygon points="386.81,923.68 390.99,923.68 388.9,927.03" fill="#e9b43c"/>
<polygon points="386.81,927.31 390.99,927.31 388.9,930.65" fill="#e9b43c"/>
<line x1="428.4" y1="982.2" x2="428.4" y2="986.7" stroke="#231f20" stroke-width="1"/>
<rect x="406.3" y="936.01" width="7" height="46.19" fill="#fff" stroke="#e8554e" stroke-width="1.3"/>
<line x1="409.8" y1="940.54" x2="409.8" y2="931.03" stroke="#e8554e" stroke-width="0.9"/>
<line x1="407.2" y1="931.03" x2="412.4" y2="931.03" stroke="#e8554e" stroke-width="0.9"/>
<line x1="407.2" y1="940.54" x2="412.4" y2="940.54" stroke="#e8554e" stroke-width="0.9"/>
<circle cx="409.8" cy="931.03" r="1.9" fill="#e8554e"/>
<circle cx="409.8" cy="936.01" r="1.9" fill="#e8554e"/>
<circle cx="409.8" cy="940.54" r="1.9" fill="#e8554e"/>
<rect x="418.7" y="902.51" width="7" height="79.69" fill="#fff" stroke="#3a40b8" stroke-width="1.3"/>
<line x1="422.2" y1="904.32" x2="422.2" y2="899.79" stroke="#3a40b8" stroke-width="0.9"/>
<line x1="419.6" y1="899.79" x2="424.8" y2="899.79" stroke="#3a40b8" stroke-width="0.9"/>
<line x1="419.6" y1="904.32" x2="424.8" y2="904.32" stroke="#3a40b8" stroke-width="0.9"/>
<rect x="420.49" y="898.08" width="3.42" height="3.42" fill="#3a40b8"/>
<rect x="419.34" y="900.8" width="3.42" height="3.42" fill="#3a40b8"/>
<rect x="421.64" y="902.61" width="3.42" height="3.42" fill="#3a40b8"/>
<rect x="431.1" y="958.2" width="7" height="24" fill="#fff" stroke="#86dcbc" stroke-width="1.3"/>
<polygon points="430.21,958.31 434.39,958.31 432.3,954.96" fill="#86dcbc"/>
<polygon points="432.51,959.66 436.69,959.66 434.6,956.32" fill="#86dcbc"/>
<polygon points="434.81,961.02 438.99,961.02 436.9,957.68" fill="#86dcbc"/>
<rect x="443.5" y="946.88" width="7" height="35.32" fill="#fff" stroke="#e9b43c" stroke-width="1.3"/>
<line x1="447" y1="948.69" x2="447" y2="944.62" stroke="#e9b43c" stroke-width="0.9"/>
<line x1="444.4" y1="944.62" x2="449.6" y2="944.62" stroke="#e9b43c" stroke-width="0.9"/>
<line x1="444.4" y1="948.69" x2="449.6" y2="948.69" stroke="#e9b43c" stroke-width="0.9"/>
<polygon points="442.61,943.15 446.79,943.15 444.7,946.5" fill="#e9b43c"/>
<polygon points="444.91,945.42 449.09,945.42 447,948.76" fill="#e9b43c"/>
<polygon points="447.21,947.23 451.39,947.23 449.3,950.57" fill="#e9b43c"/>
<line x1="293" y1="902" x2="318" y2="902" stroke="#444" stroke-width="1.1"/>
<line x1="293" y1="901.5" x2="293" y2="904.6" stroke="#444" stroke-width="1.1"/>
<line x1="318" y1="901.5" x2="318" y2="904.6" stroke="#444" stroke-width="1.1"/>
<text x="305.85" y="903.68" font-size="14" text-anchor="middle" fill="#231f20" stroke="#231f20" letter-spacing="0.7">*</text>
<line x1="318.6" y1="929.6" x2="331.4" y2="929.6" stroke="#444" stroke-width="1.1"/>
<line x1="318.6" y1="929.1" x2="318.6" y2="932.2" stroke="#444" stroke-width="1.1"/>
<line x1="331.4" y1="929.1" x2="331.4" y2="932.2" stroke="#444" stroke-width="1.1"/>
<text x="325.35" y="931.28" font-size="14" text-anchor="middle" fill="#231f20" stroke="#231f20" letter-spacing="0.7">****</text>
<line x1="352.6" y1="881.9" x2="377.3" y2="881.9" stroke="#444" stroke-width="1.1"/>
<line x1="352.6" y1="881.4" x2="352.6" y2="884.5" stroke="#444" stroke-width="1.1"/>
<line x1="377.3" y1="881.4" x2="377.3" y2="884.5" stroke="#444" stroke-width="1.1"/>
<text x="365.3" y="883.58" font-size="14" text-anchor="middle" fill="#231f20" stroke="#231f20" letter-spacing="0.7">***</text>
<line x1="375.9" y1="909.9" x2="389.4" y2="909.9" stroke="#444" stroke-width="1.1"/>
<line x1="375.9" y1="909.4" x2="375.9" y2="912.5" stroke="#444" stroke-width="1.1"/>
<line x1="389.4" y1="909.4" x2="389.4" y2="912.5" stroke="#444" stroke-width="1.1"/>
<text x="383" y="911.58" font-size="14" text-anchor="middle" fill="#231f20" stroke="#231f20" letter-spacing="0.7">***</text>
<line x1="410" y1="891.5" x2="435.4" y2="891.5" stroke="#444" stroke-width="1.1"/>
<line x1="410" y1="891" x2="410" y2="894.1" stroke="#444" stroke-width="1.1"/>
<line x1="435.4" y1="891" x2="435.4" y2="894.1" stroke="#444" stroke-width="1.1"/>
<text x="423.05" y="893.18" font-size="14" text-anchor="middle" fill="#231f20" stroke="#231f20" letter-spacing="0.7">****</text>
<line x1="434.6" y1="927.1" x2="447.7" y2="927.1" stroke="#444" stroke-width="1.1"/>
<line x1="434.6" y1="926.6" x2="434.6" y2="929.7" stroke="#444" stroke-width="1.1"/>
<line x1="447.7" y1="926.6" x2="447.7" y2="929.7" stroke="#444" stroke-width="1.1"/>
<text x="441.5" y="928.78" font-size="14" text-anchor="middle" fill="#231f20" stroke="#231f20" letter-spacing="0.7">*</text>
<text x="311.5" y="1000.89" font-size="11.44" text-anchor="middle" fill="#231f20" stroke="#231f20">+</text>
<line x1="367.8" y1="997.5" x2="371.6" y2="997.5" stroke="#231f20" stroke-width="1"/>
<line x1="425.9" y1="997.5" x2="429.7" y2="997.5" stroke="#231f20" stroke-width="1"/>
<line x1="309.7" y1="1013.5" x2="313.5" y2="1013.5" stroke="#231f20" stroke-width="1"/>
<text x="369.6" y="1017.29" font-size="11.44" text-anchor="middle" fill="#231f20" stroke="#231f20">+</text>
<line x1="425.9" y1="1013.5" x2="429.7" y2="1013.5" stroke="#231f20" stroke-width="1"/>
<line x1="309.7" y1="1029.5" x2="313.5" y2="1029.5" stroke="#231f20" stroke-width="1"/>
<line x1="367.8" y1="1029.5" x2="371.6" y2="1029.5" stroke="#231f20" stroke-width="1"/>
<text x="427.7" y="1033.39" font-size="11.44" text-anchor="middle" fill="#231f20" stroke="#231f20">+</text>
<text x="280.7" y="998.5" font-size="11.4" text-anchor="end" fill="#231f20" stroke="#231f20">DMSO</text>
<text x="280.7" y="1016.3" font-size="11.4" text-anchor="end" fill="#231f20" stroke="#231f20">Erastin</text>
<text x="280.7" y="1033.2" font-size="11.4" text-anchor="end" fill="#231f20" stroke="#231f20">Sorafenib</text>
<line x1="506.6" y1="869.5" x2="506.6" y2="982.9" stroke="#231f20" stroke-width="1.3"/>
<line x1="502.4" y1="982.4" x2="506.6" y2="982.4" stroke="#231f20" stroke-width="1.3"/>
<text x="496.9" y="986.3" font-size="10.9" text-anchor="end" fill="#231f20" stroke="#231f20">0</text>
<line x1="502.4" y1="954.3" x2="506.6" y2="954.3" stroke="#231f20" stroke-width="1.3"/>
<text x="496.9" y="958.2" font-size="10.9" text-anchor="end" fill="#231f20" stroke="#231f20">5</text>
<line x1="502.4" y1="926.2" x2="506.6" y2="926.2" stroke="#231f20" stroke-width="1.3"/>
<text x="496.9" y="930.1" font-size="10.9" text-anchor="end" fill="#231f20" stroke="#231f20">10</text>
<line x1="502.4" y1="898.1" x2="506.6" y2="898.1" stroke="#231f20" stroke-width="1.3"/>
<text x="496.9" y="902" font-size="10.9" text-anchor="end" fill="#231f20" stroke="#231f20">15</text>
<line x1="502.4" y1="870" x2="506.6" y2="870" stroke="#231f20" stroke-width="1.3"/>
<text x="496.9" y="873.9" font-size="10.9" text-anchor="end" fill="#231f20" stroke="#231f20">20</text>
<line x1="506.6" y1="982.4" x2="676" y2="982.4" stroke="#231f20" stroke-width="1.3"/>
<line x1="533.6" y1="982.4" x2="533.6" y2="986.9" stroke="#231f20" stroke-width="1"/>
<rect x="511.5" y="930.13" width="7" height="52.27" fill="#fff" stroke="#f26b30" stroke-width="1.3"/>
<circle cx="512.7" cy="927.89" r="1.9" fill="#f26b30"/>
<circle cx="515" cy="930.13" r="1.9" fill="#f26b30"/>
<circle cx="517.3" cy="931.82" r="1.9" fill="#f26b30"/>
<rect x="523.9" y="913.27" width="7" height="69.13" fill="#fff" stroke="#2e3a8a" stroke-width="1.3"/>
<line x1="527.4" y1="915.52" x2="527.4" y2="909.9" stroke="#2e3a8a" stroke-width="0.9"/>
<line x1="524.8" y1="909.9" x2="530" y2="909.9" stroke="#2e3a8a" stroke-width="0.9"/>
<line x1="524.8" y1="915.52" x2="530" y2="915.52" stroke="#2e3a8a" stroke-width="0.9"/>
<rect x="525.69" y="908.19" width="3.42" height="3.42" fill="#2e3a8a"/>
<rect x="524.54" y="911.56" width="3.42" height="3.42" fill="#2e3a8a"/>
<rect x="526.84" y="913.81" width="3.42" height="3.42" fill="#2e3a8a"/>
<rect x="536.3" y="948.12" width="7" height="34.28" fill="#fff" stroke="#4acd7c" stroke-width="1.3"/>
<polygon points="535.41,949.02 539.59,949.02 537.5,945.68" fill="#4acd7c"/>
<polygon points="537.71,949.58 541.89,949.58 539.8,946.24" fill="#4acd7c"/>
<polygon points="540.01,950.14 544.19,950.14 542.1,946.8" fill="#4acd7c"/>
<rect x="548.7" y="932.94" width="7" height="49.46" fill="#fff" stroke="#c3d23c" stroke-width="1.3"/>
<polygon points="547.81,930.92 551.99,930.92 549.9,934.26" fill="#c3d23c"/>
<polygon points="550.11,931.48 554.29,931.48 552.2,934.82" fill="#c3d23c"/>
<polygon points="552.41,932.04 556.59,932.04 554.5,935.39" fill="#c3d23c"/>
<line x1="591.3" y1="982.4" x2="591.3" y2="986.9" stroke="#231f20" stroke-width="1"/>
<rect x="569.2" y="918.33" width="7" height="64.07" fill="#fff" stroke="#f26b30" stroke-width="1.3"/>
<circle cx="570.4" cy="916.08" r="1.9" fill="#f26b30"/>
<circle cx="572.7" cy="918.33" r="1.9" fill="#f26b30"/>
<circle cx="575" cy="920.02" r="1.9" fill="#f26b30"/>
<rect x="581.6" y="906.53" width="7" height="75.87" fill="#fff" stroke="#2e3a8a" stroke-width="1.3"/>
<line x1="585.1" y1="908.78" x2="585.1" y2="904.28" stroke="#2e3a8a" stroke-width="0.9"/>
<line x1="582.5" y1="904.28" x2="587.7" y2="904.28" stroke="#2e3a8a" stroke-width="0.9"/>
<line x1="582.5" y1="908.78" x2="587.7" y2="908.78" stroke="#2e3a8a" stroke-width="0.9"/>
<rect x="582.24" y="902.57" width="3.42" height="3.42" fill="#2e3a8a"/>
<rect x="584.54" y="904.26" width="3.42" height="3.42" fill="#2e3a8a"/>
<rect x="583.39" y="907.07" width="3.42" height="3.42" fill="#2e3a8a"/>
<rect x="594" y="938.56" width="7" height="43.84" fill="#fff" stroke="#4acd7c" stroke-width="1.3"/>
<polygon points="593.11,939.46 597.29,939.46 595.2,936.12" fill="#4acd7c"/>
<polygon points="595.41,940.03 599.59,940.03 597.5,936.68" fill="#4acd7c"/>
<polygon points="597.71,940.59 601.89,940.59 599.8,937.25" fill="#4acd7c"/>
<rect x="606.4" y="923.39" width="7" height="59.01" fill="#fff" stroke="#c3d23c" stroke-width="1.3"/>
<polygon points="605.51,920.24 609.69,920.24 607.6,923.58" fill="#c3d23c"/>
<polygon points="607.81,921.93 611.99,921.93 609.9,925.27" fill="#c3d23c"/>
<polygon points="610.11,923.05 614.29,923.05 612.2,926.39" fill="#c3d23c"/>
<line x1="649" y1="982.4" x2="649" y2="986.9" stroke="#231f20" stroke-width="1"/>
<rect x="626.9" y="912.15" width="7" height="70.25" fill="#fff" stroke="#f26b30" stroke-width="1.3"/>
<circle cx="628.1" cy="910.46" r="1.9" fill="#f26b30"/>
<circle cx="630.4" cy="912.15" r="1.9" fill="#f26b30"/>
<circle cx="632.7" cy="913.84" r="1.9" fill="#f26b30"/>
<rect x="639.3" y="904.84" width="7" height="77.56" fill="#fff" stroke="#2e3a8a" stroke-width="1.3"/>
<rect x="638.79" y="902.57" width="3.42" height="3.42" fill="#2e3a8a"/>
<rect x="641.09" y="903.13" width="3.42" height="3.42" fill="#2e3a8a"/>
<rect x="643.39" y="903.7" width="3.42" height="3.42" fill="#2e3a8a"/>
<rect x="651.7" y="930.13" width="7" height="52.27" fill="#fff" stroke="#4acd7c" stroke-width="1.3"/>
<polygon points="650.81,929.91 654.99,929.91 652.9,926.57" fill="#4acd7c"/>
<polygon points="653.11,931.6 657.29,931.6 655.2,928.25" fill="#4acd7c"/>
<polygon points="655.41,933.28 659.59,933.28 657.5,929.94" fill="#4acd7c"/>
<rect x="664.1" y="914.96" width="7" height="67.44" fill="#fff" stroke="#c3d23c" stroke-width="1.3"/>
<polygon points="663.21,912.37 667.39,912.37 665.3,915.72" fill="#c3d23c"/>
<polygon points="665.51,913.5 669.69,913.5 667.6,916.84" fill="#c3d23c"/>
<polygon points="667.81,914.06 671.99,914.06 669.9,917.4" fill="#c3d23c"/>
<line x1="514.4" y1="897.4" x2="539.6" y2="897.4" stroke="#231f20" stroke-width="1.2"/>
<line x1="514.4" y1="894.6" x2="514.4" y2="900.2" stroke="#231f20" stroke-width="1.2"/>
<line x1="539.6" y1="894.6" x2="539.6" y2="900.2" stroke="#231f20" stroke-width="1.2"/>
<text x="527.15" y="898.76" font-size="13" text-anchor="middle" fill="#231f20" stroke="#231f20" letter-spacing="0.3">****</text>
<line x1="539.4" y1="920.4" x2="551.4" y2="920.4" stroke="#231f20" stroke-width="1.2"/>
<line x1="539.4" y1="917.6" x2="539.4" y2="923.2" stroke="#231f20" stroke-width="1.2"/>
<line x1="551.4" y1="917.6" x2="551.4" y2="923.2" stroke="#231f20" stroke-width="1.2"/>
<text x="545.55" y="921.76" font-size="13" text-anchor="middle" fill="#231f20" stroke="#231f20" letter-spacing="0.3">****</text>
<line x1="572.4" y1="893" x2="596.6" y2="893" stroke="#231f20" stroke-width="1.2"/>
<line x1="572.4" y1="890.2" x2="572.4" y2="895.8" stroke="#231f20" stroke-width="1.2"/>
<line x1="596.6" y1="890.2" x2="596.6" y2="895.8" stroke="#231f20" stroke-width="1.2"/>
<text x="584.65" y="894.36" font-size="13" text-anchor="middle" fill="#231f20" stroke="#231f20" letter-spacing="0.3">****</text>
<line x1="597.4" y1="914" x2="609.6" y2="914" stroke="#231f20" stroke-width="1.2"/>
<line x1="597.4" y1="911.2" x2="597.4" y2="916.8" stroke="#231f20" stroke-width="1.2"/>
<line x1="609.6" y1="911.2" x2="609.6" y2="916.8" stroke="#231f20" stroke-width="1.2"/>
<text x="603.65" y="915.36" font-size="13" text-anchor="middle" fill="#231f20" stroke="#231f20" letter-spacing="0.3">***</text>
<line x1="629.4" y1="897.4" x2="655.4" y2="897.4" stroke="#231f20" stroke-width="1.2"/>
<line x1="629.4" y1="894.6" x2="629.4" y2="900.2" stroke="#231f20" stroke-width="1.2"/>
<line x1="655.4" y1="894.6" x2="655.4" y2="900.2" stroke="#231f20" stroke-width="1.2"/>
<text x="642.55" y="898.76" font-size="13" text-anchor="middle" fill="#231f20" stroke="#231f20" letter-spacing="0.3">***</text>
<line x1="655.4" y1="886.6" x2="669.4" y2="886.6" stroke="#231f20" stroke-width="1.2"/>
<line x1="655.4" y1="883.8" x2="655.4" y2="889.4" stroke="#231f20" stroke-width="1.2"/>
<line x1="669.4" y1="883.8" x2="669.4" y2="889.4" stroke="#231f20" stroke-width="1.2"/>
<text x="662.55" y="887.96" font-size="13" text-anchor="middle" fill="#231f20" stroke="#231f20" letter-spacing="0.3">***</text>
<text x="534.7" y="999.49" font-size="11.44" text-anchor="middle" fill="#231f20" stroke="#231f20">+</text>
<line x1="590.6" y1="995.5" x2="594.4" y2="995.5" stroke="#231f20" stroke-width="1"/>
<line x1="648.3" y1="995.5" x2="652.1" y2="995.5" stroke="#231f20" stroke-width="1"/>
<line x1="532.9" y1="1011.5" x2="536.7" y2="1011.5" stroke="#231f20" stroke-width="1"/>
<text x="592.4" y="1015.59" font-size="11.44" text-anchor="middle" fill="#231f20" stroke="#231f20">+</text>
<line x1="648.3" y1="1011.5" x2="652.1" y2="1011.5" stroke="#231f20" stroke-width="1"/>
<line x1="532.9" y1="1028.5" x2="536.7" y2="1028.5" stroke="#231f20" stroke-width="1"/>
<line x1="590.6" y1="1028.5" x2="594.4" y2="1028.5" stroke="#231f20" stroke-width="1"/>
<text x="650.1" y="1032.49" font-size="11.44" text-anchor="middle" fill="#231f20" stroke="#231f20">+</text>
<text x="499.3" y="998.5" font-size="11.4" text-anchor="end" fill="#231f20" stroke="#231f20">DMSO</text>
<text x="499.3" y="1016.3" font-size="11.4" text-anchor="end" fill="#231f20" stroke="#231f20">Erastin</text>
<text x="499.3" y="1033.2" font-size="11.4" text-anchor="end" fill="#231f20" stroke="#231f20">Sorafenib</text>
</svg></body></html>
